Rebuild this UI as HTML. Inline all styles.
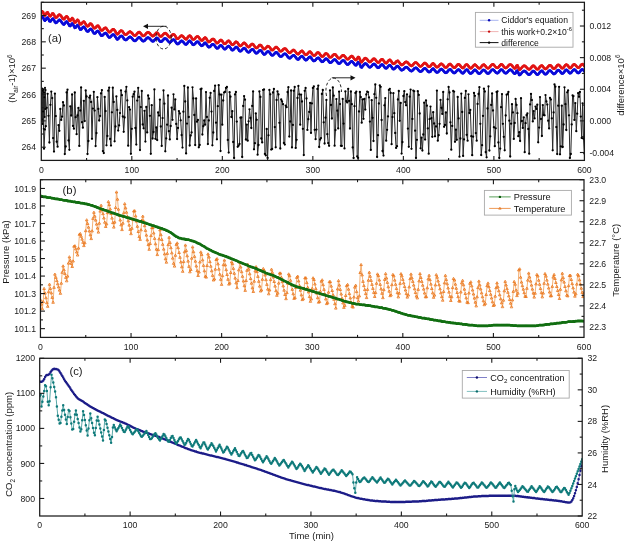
<!DOCTYPE html>
<html><head><meta charset="utf-8"><style>
html,body{margin:0;padding:0;background:#fff;}
svg{display:block;will-change:transform;}
text{font-family:"Liberation Sans", sans-serif;fill:#1a1a1a;}
.tl{font-size:8.7px;}
.at{font-size:9.5px;}
.pl{font-size:11.3px;fill:#222;}
.lg{fill:#111;}
.tk{stroke:#1a1a1a;stroke-width:1.1;}
</style></head><body>
<svg width="625" height="543" viewBox="0 0 625 543">
<rect width="625" height="543" fill="#fff"/>
<g>
<clipPath id="ca"><rect x="41.3" y="2.3" width="543.1" height="158.1"/></clipPath>
<g clip-path="url(#ca)">
<polyline points="41.3,103.9 42.2,102.9 43.1,112.5 44.0,148.7 44.9,129.6 45.8,126.2 46.7,107.8 47.6,93.8 48.5,115.8 49.4,142.5 50.4,104.8 51.3,91.6 52.2,98.1 53.1,138.1 54.0,151.6 54.9,93.6 55.8,116.1 56.7,141.7 57.6,146.7 58.5,125.2 59.4,130.8 60.3,108.9 61.2,119.9 62.1,116.6 63.0,102.2 63.9,105.5 64.8,154.1 65.7,146.5 66.6,92.4 67.5,89.7 68.5,140.4 69.4,149.8 70.3,106.3 71.2,115.5 72.1,94.5 73.0,125.9 73.9,128.7 74.8,92.5 75.7,117.2 76.6,134.2 77.5,115.4 78.4,107.9 79.3,145.9 80.2,110.5 81.1,87.4 82.0,122.2 82.9,127.7 83.8,100.8 84.7,121.1 85.7,90.5 86.6,96.5 87.5,154.0 88.4,141.0 89.3,97.6 90.2,95.6 91.1,102.0 92.0,138.8 92.9,108.6 93.8,91.8 94.7,110.6 95.6,146.1 96.5,133.1 97.4,97.2 98.3,108.9 99.2,120.5 100.1,115.9 101.0,93.4 101.9,90.1 102.9,151.1 103.8,153.1 104.7,96.9 105.6,111.1 106.5,145.3 107.4,135.9 108.3,90.7 109.2,87.6 110.1,138.9 111.0,145.6 111.9,112.3 112.8,87.7 113.7,102.0 114.6,141.3 115.5,126.5 116.4,96.4 117.3,110.0 118.2,130.6 119.1,125.3 120.0,113.1 121.0,90.3 121.9,95.2 122.8,116.5 123.7,131.8 124.6,117.5 125.5,91.6 126.4,86.8 127.3,100.4 128.2,145.7 129.1,107.1 130.0,109.6 130.9,153.8 131.8,128.8 132.7,96.7 133.6,94.2 134.5,91.7 135.4,128.0 136.3,144.6 137.2,100.6 138.2,87.8 139.1,97.0 140.0,150.1 140.9,107.1 141.8,90.9 142.7,124.4 143.6,128.3 144.5,110.8 145.4,141.6 146.3,106.9 147.2,132.4 148.1,95.5 149.0,98.6 149.9,115.8 150.8,153.8 151.7,105.2 152.6,138.5 153.5,132.0 154.4,89.4 155.4,138.8 156.3,127.5 157.2,140.1 158.1,112.5 159.0,115.6 159.9,99.6 160.8,126.5 161.7,145.9 162.6,118.1 163.5,90.5 164.4,103.7 165.3,151.3 166.2,138.4 167.1,124.7 168.0,95.5 168.9,131.2 169.8,139.4 170.7,126.0 171.6,107.7 172.5,119.8 173.5,94.3 174.4,109.4 175.3,99.4 176.2,123.9 177.1,139.1 178.0,128.0 178.9,111.1 179.8,113.4 180.7,120.3 181.6,135.1 182.5,147.6 183.4,111.7 184.3,85.9 185.2,101.5 186.1,153.4 187.0,123.6 187.9,87.5 188.8,117.0 189.7,145.5 190.7,135.5 191.6,132.4 192.5,87.3 193.4,98.4 194.3,115.0 195.2,145.1 196.1,98.4 197.0,121.7 197.9,119.9 198.8,147.3 199.7,145.0 200.6,89.2 201.5,88.7 202.4,134.5 203.3,126.2 204.2,120.5 205.1,124.7 206.0,92.1 206.9,117.0 207.9,144.1 208.8,120.5 209.7,97.8 210.6,92.9 211.5,111.6 212.4,145.3 213.3,132.5 214.2,91.0 215.1,85.6 216.0,122.7 216.9,139.3 217.8,106.2 218.7,85.2 219.6,94.4 220.5,151.0 221.4,94.7 222.3,124.7 223.2,100.5 224.1,92.4 225.0,92.0 226.0,87.9 226.9,87.0 227.8,139.9 228.7,152.6 229.6,92.2 230.5,96.7 231.4,117.0 232.3,111.2 233.2,142.0 234.1,158.0 235.0,94.4 235.9,92.0 236.8,121.6 237.7,146.8 238.6,145.7 239.5,143.9 240.4,117.7 241.3,117.5 242.2,157.0 243.2,106.0 244.1,96.1 245.0,99.7 245.9,139.5 246.8,124.6 247.7,140.7 248.6,121.3 249.5,109.3 250.4,118.0 251.3,128.0 252.2,105.9 253.1,91.4 254.0,149.3 254.9,143.2 255.8,113.4 256.7,119.8 257.6,154.7 258.5,145.0 259.4,91.5 260.4,96.9 261.3,138.5 262.2,142.4 263.1,89.9 264.0,89.5 264.9,153.9 265.8,155.4 266.7,129.0 267.6,158.0 268.5,135.3 269.4,89.9 270.3,94.3 271.2,149.6 272.1,149.0 273.0,92.5 273.9,88.9 274.8,127.1 275.7,147.3 276.6,100.0 277.5,91.4 278.5,94.4 279.4,122.8 280.3,148.5 281.2,99.5 282.1,101.3 283.0,104.2 283.9,143.0 284.8,144.6 285.7,105.6 286.6,107.2 287.5,92.1 288.4,87.2 289.3,136.6 290.2,121.5 291.1,90.5 292.0,147.4 292.9,124.9 293.8,90.8 294.7,86.9 295.7,147.9 296.6,139.8 297.5,98.0 298.4,85.9 299.3,94.3 300.2,124.7 301.1,94.6 302.0,101.5 302.9,128.8 303.8,155.1 304.7,90.8 305.6,88.0 306.5,98.5 307.4,129.9 308.3,119.2 309.2,111.9 310.1,102.9 311.0,132.9 311.9,103.4 312.9,87.9 313.8,86.4 314.7,129.8 315.6,139.2 316.5,129.6 317.4,88.9 318.3,85.6 319.2,147.0 320.1,139.5 321.0,138.1 321.9,94.0 322.8,90.0 323.7,122.3 324.6,143.5 325.5,117.7 326.4,99.9 327.3,134.2 328.2,143.1 329.1,145.8 330.0,90.3 331.0,105.0 331.9,118.5 332.8,87.5 333.7,95.7 334.6,145.7 335.5,130.1 336.4,99.1 337.3,110.7 338.2,128.4 339.1,91.6 340.0,104.1 340.9,145.8 341.8,145.9 342.7,98.9 343.6,123.6 344.5,148.4 345.4,91.4 346.3,101.1 347.2,102.4 348.2,88.8 349.1,100.9 350.0,128.5 350.9,91.5 351.8,104.2 352.7,147.4 353.6,158.0 354.5,106.2 355.4,92.9 356.3,91.6 357.2,156.5 358.1,158.0 359.0,111.5 359.9,92.0 360.8,97.1 361.7,122.7 362.6,99.5 363.5,118.8 364.4,99.0 365.3,109.6 366.3,94.5 367.2,91.6 368.1,92.1 369.0,97.4 369.9,121.6 370.8,149.9 371.7,100.2 372.6,117.8 373.5,141.0 374.4,94.2 375.3,84.5 376.2,97.8 377.1,157.0 378.0,135.2 378.9,103.5 379.8,85.5 380.7,86.8 381.6,120.0 382.5,151.0 383.5,155.6 384.4,105.3 385.3,98.1 386.2,140.7 387.1,129.8 388.0,116.4 388.9,89.9 389.8,88.8 390.7,92.9 391.6,144.2 392.5,117.1 393.4,93.2 394.3,113.2 395.2,133.0 396.1,147.9 397.0,146.2 397.9,99.5 398.8,91.0 399.7,120.8 400.7,102.9 401.6,153.6 402.5,142.1 403.4,96.0 404.3,91.2 405.2,102.1 406.1,105.3 407.0,94.3 407.9,128.6 408.8,146.8 409.7,96.7 410.6,89.6 411.5,148.8 412.4,118.9 413.3,90.6 414.2,91.2 415.1,130.7 416.0,158.0 416.9,139.8 417.8,91.2 418.8,94.9 419.7,113.5 420.6,148.3 421.5,137.7 422.4,150.5 423.3,134.5 424.2,102.7 425.1,139.6 426.0,100.4 426.9,105.7 427.8,128.4 428.7,153.7 429.6,119.2 430.5,106.6 431.4,118.1 432.3,136.8 433.2,112.2 434.1,123.5 435.0,136.3 436.0,126.5 436.9,90.6 437.8,140.7 438.7,135.2 439.6,123.8 440.5,99.9 441.4,107.8 442.3,113.9 443.2,92.0 444.1,126.8 445.0,125.0 445.9,112.5 446.8,133.5 447.7,99.3 448.6,87.0 449.5,92.5 450.4,122.3 451.3,149.7 452.2,125.9 453.2,91.0 454.1,91.6 455.0,141.8 455.9,129.7 456.8,139.8 457.7,97.0 458.6,118.4 459.5,156.7 460.4,138.5 461.3,93.6 462.2,112.0 463.1,155.9 464.0,139.4 464.9,97.9 465.8,90.9 466.7,134.8 467.6,140.7 468.5,94.3 469.4,113.0 470.3,110.0 471.3,136.2 472.2,155.2 473.1,136.7 474.0,93.0 474.9,95.8 475.8,133.1 476.7,140.7 477.6,103.9 478.5,94.0 479.4,87.2 480.3,123.8 481.2,155.1 482.1,145.2 483.0,115.9 483.9,88.7 484.8,91.5 485.7,152.1 486.6,157.3 487.5,108.5 488.5,86.5 489.4,150.5 490.3,136.3 491.2,104.9 492.1,93.4 493.0,110.5 493.9,127.2 494.8,146.2 495.7,128.3 496.6,92.0 497.5,91.3 498.4,142.5 499.3,158.0 500.2,148.6 501.1,107.2 502.0,94.1 502.9,123.8 503.8,136.8 504.7,150.3 505.7,115.5 506.6,94.7 507.5,94.2 508.4,92.0 509.3,120.7 510.2,156.5 511.1,123.7 512.0,104.2 512.9,112.4 513.8,138.9 514.7,123.0 515.6,98.9 516.5,104.9 517.4,113.2 518.3,136.2 519.2,132.2 520.1,141.0 521.0,98.2 521.9,121.0 522.8,127.9 523.8,117.3 524.7,152.2 525.6,123.2 526.5,115.1 527.4,113.5 528.3,129.0 529.2,153.7 530.1,104.4 531.0,93.9 531.9,100.1 532.8,121.4 533.7,111.1 534.6,118.4 535.5,106.6 536.4,108.9 537.3,104.7 538.2,142.3 539.1,127.6 540.0,97.1 541.0,119.0 541.9,136.0 542.8,105.1 543.7,115.0 544.6,115.3 545.5,95.1 546.4,101.4 547.3,104.6 548.2,120.7 549.1,128.4 550.0,98.0 550.9,99.5 551.8,118.3 552.7,150.3 553.6,112.4 554.5,84.5 555.4,86.7 556.3,127.1 557.2,154.1 558.2,105.7 559.1,86.8 560.0,154.3 560.9,146.4 561.8,105.7 562.7,147.0 563.6,124.5 564.5,87.3 565.4,104.2 566.3,130.0 567.2,92.3 568.1,90.4 569.0,115.3 569.9,158.0 570.8,154.0 571.7,124.4 572.6,95.5 573.5,96.1 574.4,119.9 575.3,103.1 576.3,131.2 577.2,113.7 578.1,93.1 579.0,96.8 579.9,91.9 580.8,116.6 581.7,137.9 582.6,103.3 583.5,138.7 584.4,153.5" fill="none" stroke="#2a2a2a" stroke-width="1.0" stroke-linejoin="round"/>
<path d="M41.3 103.9h0M42.2 102.9h0M43.1 112.5h0M44.0 148.7h0M44.9 129.6h0M45.8 126.2h0M46.7 107.8h0M47.6 93.8h0M48.5 115.8h0M49.4 142.5h0M50.4 104.8h0M51.3 91.6h0M52.2 98.1h0M53.1 138.1h0M54.0 151.6h0M54.9 93.6h0M55.8 116.1h0M56.7 141.7h0M57.6 146.7h0M58.5 125.2h0M59.4 130.8h0M60.3 108.9h0M61.2 119.9h0M62.1 116.6h0M63.0 102.2h0M63.9 105.5h0M64.8 154.1h0M65.7 146.5h0M66.6 92.4h0M67.5 89.7h0M68.5 140.4h0M69.4 149.8h0M70.3 106.3h0M71.2 115.5h0M72.1 94.5h0M73.0 125.9h0M73.9 128.7h0M74.8 92.5h0M75.7 117.2h0M76.6 134.2h0M77.5 115.4h0M78.4 107.9h0M79.3 145.9h0M80.2 110.5h0M81.1 87.4h0M82.0 122.2h0M82.9 127.7h0M83.8 100.8h0M84.7 121.1h0M85.7 90.5h0M86.6 96.5h0M87.5 154.0h0M88.4 141.0h0M89.3 97.6h0M90.2 95.6h0M91.1 102.0h0M92.0 138.8h0M92.9 108.6h0M93.8 91.8h0M94.7 110.6h0M95.6 146.1h0M96.5 133.1h0M97.4 97.2h0M98.3 108.9h0M99.2 120.5h0M100.1 115.9h0M101.0 93.4h0M101.9 90.1h0M102.9 151.1h0M103.8 153.1h0M104.7 96.9h0M105.6 111.1h0M106.5 145.3h0M107.4 135.9h0M108.3 90.7h0M109.2 87.6h0M110.1 138.9h0M111.0 145.6h0M111.9 112.3h0M112.8 87.7h0M113.7 102.0h0M114.6 141.3h0M115.5 126.5h0M116.4 96.4h0M117.3 110.0h0M118.2 130.6h0M119.1 125.3h0M120.0 113.1h0M121.0 90.3h0M121.9 95.2h0M122.8 116.5h0M123.7 131.8h0M124.6 117.5h0M125.5 91.6h0M126.4 86.8h0M127.3 100.4h0M128.2 145.7h0M129.1 107.1h0M130.0 109.6h0M130.9 153.8h0M131.8 128.8h0M132.7 96.7h0M133.6 94.2h0M134.5 91.7h0M135.4 128.0h0M136.3 144.6h0M137.2 100.6h0M138.2 87.8h0M139.1 97.0h0M140.0 150.1h0M140.9 107.1h0M141.8 90.9h0M142.7 124.4h0M143.6 128.3h0M144.5 110.8h0M145.4 141.6h0M146.3 106.9h0M147.2 132.4h0M148.1 95.5h0M149.0 98.6h0M149.9 115.8h0M150.8 153.8h0M151.7 105.2h0M152.6 138.5h0M153.5 132.0h0M154.4 89.4h0M155.4 138.8h0M156.3 127.5h0M157.2 140.1h0M158.1 112.5h0M159.0 115.6h0M159.9 99.6h0M160.8 126.5h0M161.7 145.9h0M162.6 118.1h0M163.5 90.5h0M164.4 103.7h0M165.3 151.3h0M166.2 138.4h0M167.1 124.7h0M168.0 95.5h0M168.9 131.2h0M169.8 139.4h0M170.7 126.0h0M171.6 107.7h0M172.5 119.8h0M173.5 94.3h0M174.4 109.4h0M175.3 99.4h0M176.2 123.9h0M177.1 139.1h0M178.0 128.0h0M178.9 111.1h0M179.8 113.4h0M180.7 120.3h0M181.6 135.1h0M182.5 147.6h0M183.4 111.7h0M184.3 85.9h0M185.2 101.5h0M186.1 153.4h0M187.0 123.6h0M187.9 87.5h0M188.8 117.0h0M189.7 145.5h0M190.7 135.5h0M191.6 132.4h0M192.5 87.3h0M193.4 98.4h0M194.3 115.0h0M195.2 145.1h0M196.1 98.4h0M197.0 121.7h0M197.9 119.9h0M198.8 147.3h0M199.7 145.0h0M200.6 89.2h0M201.5 88.7h0M202.4 134.5h0M203.3 126.2h0M204.2 120.5h0M205.1 124.7h0M206.0 92.1h0M206.9 117.0h0M207.9 144.1h0M208.8 120.5h0M209.7 97.8h0M210.6 92.9h0M211.5 111.6h0M212.4 145.3h0M213.3 132.5h0M214.2 91.0h0M215.1 85.6h0M216.0 122.7h0M216.9 139.3h0M217.8 106.2h0M218.7 85.2h0M219.6 94.4h0M220.5 151.0h0M221.4 94.7h0M222.3 124.7h0M223.2 100.5h0M224.1 92.4h0M225.0 92.0h0M226.0 87.9h0M226.9 87.0h0M227.8 139.9h0M228.7 152.6h0M229.6 92.2h0M230.5 96.7h0M231.4 117.0h0M232.3 111.2h0M233.2 142.0h0M234.1 158.0h0M235.0 94.4h0M235.9 92.0h0M236.8 121.6h0M237.7 146.8h0M238.6 145.7h0M239.5 143.9h0M240.4 117.7h0M241.3 117.5h0M242.2 157.0h0M243.2 106.0h0M244.1 96.1h0M245.0 99.7h0M245.9 139.5h0M246.8 124.6h0M247.7 140.7h0M248.6 121.3h0M249.5 109.3h0M250.4 118.0h0M251.3 128.0h0M252.2 105.9h0M253.1 91.4h0M254.0 149.3h0M254.9 143.2h0M255.8 113.4h0M256.7 119.8h0M257.6 154.7h0M258.5 145.0h0M259.4 91.5h0M260.4 96.9h0M261.3 138.5h0M262.2 142.4h0M263.1 89.9h0M264.0 89.5h0M264.9 153.9h0M265.8 155.4h0M266.7 129.0h0M267.6 158.0h0M268.5 135.3h0M269.4 89.9h0M270.3 94.3h0M271.2 149.6h0M272.1 149.0h0M273.0 92.5h0M273.9 88.9h0M274.8 127.1h0M275.7 147.3h0M276.6 100.0h0M277.5 91.4h0M278.5 94.4h0M279.4 122.8h0M280.3 148.5h0M281.2 99.5h0M282.1 101.3h0M283.0 104.2h0M283.9 143.0h0M284.8 144.6h0M285.7 105.6h0M286.6 107.2h0M287.5 92.1h0M288.4 87.2h0M289.3 136.6h0M290.2 121.5h0M291.1 90.5h0M292.0 147.4h0M292.9 124.9h0M293.8 90.8h0M294.7 86.9h0M295.7 147.9h0M296.6 139.8h0M297.5 98.0h0M298.4 85.9h0M299.3 94.3h0M300.2 124.7h0M301.1 94.6h0M302.0 101.5h0M302.9 128.8h0M303.8 155.1h0M304.7 90.8h0M305.6 88.0h0M306.5 98.5h0M307.4 129.9h0M308.3 119.2h0M309.2 111.9h0M310.1 102.9h0M311.0 132.9h0M311.9 103.4h0M312.9 87.9h0M313.8 86.4h0M314.7 129.8h0M315.6 139.2h0M316.5 129.6h0M317.4 88.9h0M318.3 85.6h0M319.2 147.0h0M320.1 139.5h0M321.0 138.1h0M321.9 94.0h0M322.8 90.0h0M323.7 122.3h0M324.6 143.5h0M325.5 117.7h0M326.4 99.9h0M327.3 134.2h0M328.2 143.1h0M329.1 145.8h0M330.0 90.3h0M331.0 105.0h0M331.9 118.5h0M332.8 87.5h0M333.7 95.7h0M334.6 145.7h0M335.5 130.1h0M336.4 99.1h0M337.3 110.7h0M338.2 128.4h0M339.1 91.6h0M340.0 104.1h0M340.9 145.8h0M341.8 145.9h0M342.7 98.9h0M343.6 123.6h0M344.5 148.4h0M345.4 91.4h0M346.3 101.1h0M347.2 102.4h0M348.2 88.8h0M349.1 100.9h0M350.0 128.5h0M350.9 91.5h0M351.8 104.2h0M352.7 147.4h0M353.6 158.0h0M354.5 106.2h0M355.4 92.9h0M356.3 91.6h0M357.2 156.5h0M358.1 158.0h0M359.0 111.5h0M359.9 92.0h0M360.8 97.1h0M361.7 122.7h0M362.6 99.5h0M363.5 118.8h0M364.4 99.0h0M365.3 109.6h0M366.3 94.5h0M367.2 91.6h0M368.1 92.1h0M369.0 97.4h0M369.9 121.6h0M370.8 149.9h0M371.7 100.2h0M372.6 117.8h0M373.5 141.0h0M374.4 94.2h0M375.3 84.5h0M376.2 97.8h0M377.1 157.0h0M378.0 135.2h0M378.9 103.5h0M379.8 85.5h0M380.7 86.8h0M381.6 120.0h0M382.5 151.0h0M383.5 155.6h0M384.4 105.3h0M385.3 98.1h0M386.2 140.7h0M387.1 129.8h0M388.0 116.4h0M388.9 89.9h0M389.8 88.8h0M390.7 92.9h0M391.6 144.2h0M392.5 117.1h0M393.4 93.2h0M394.3 113.2h0M395.2 133.0h0M396.1 147.9h0M397.0 146.2h0M397.9 99.5h0M398.8 91.0h0M399.7 120.8h0M400.7 102.9h0M401.6 153.6h0M402.5 142.1h0M403.4 96.0h0M404.3 91.2h0M405.2 102.1h0M406.1 105.3h0M407.0 94.3h0M407.9 128.6h0M408.8 146.8h0M409.7 96.7h0M410.6 89.6h0M411.5 148.8h0M412.4 118.9h0M413.3 90.6h0M414.2 91.2h0M415.1 130.7h0M416.0 158.0h0M416.9 139.8h0M417.8 91.2h0M418.8 94.9h0M419.7 113.5h0M420.6 148.3h0M421.5 137.7h0M422.4 150.5h0M423.3 134.5h0M424.2 102.7h0M425.1 139.6h0M426.0 100.4h0M426.9 105.7h0M427.8 128.4h0M428.7 153.7h0M429.6 119.2h0M430.5 106.6h0M431.4 118.1h0M432.3 136.8h0M433.2 112.2h0M434.1 123.5h0M435.0 136.3h0M436.0 126.5h0M436.9 90.6h0M437.8 140.7h0M438.7 135.2h0M439.6 123.8h0M440.5 99.9h0M441.4 107.8h0M442.3 113.9h0M443.2 92.0h0M444.1 126.8h0M445.0 125.0h0M445.9 112.5h0M446.8 133.5h0M447.7 99.3h0M448.6 87.0h0M449.5 92.5h0M450.4 122.3h0M451.3 149.7h0M452.2 125.9h0M453.2 91.0h0M454.1 91.6h0M455.0 141.8h0M455.9 129.7h0M456.8 139.8h0M457.7 97.0h0M458.6 118.4h0M459.5 156.7h0M460.4 138.5h0M461.3 93.6h0M462.2 112.0h0M463.1 155.9h0M464.0 139.4h0M464.9 97.9h0M465.8 90.9h0M466.7 134.8h0M467.6 140.7h0M468.5 94.3h0M469.4 113.0h0M470.3 110.0h0M471.3 136.2h0M472.2 155.2h0M473.1 136.7h0M474.0 93.0h0M474.9 95.8h0M475.8 133.1h0M476.7 140.7h0M477.6 103.9h0M478.5 94.0h0M479.4 87.2h0M480.3 123.8h0M481.2 155.1h0M482.1 145.2h0M483.0 115.9h0M483.9 88.7h0M484.8 91.5h0M485.7 152.1h0M486.6 157.3h0M487.5 108.5h0M488.5 86.5h0M489.4 150.5h0M490.3 136.3h0M491.2 104.9h0M492.1 93.4h0M493.0 110.5h0M493.9 127.2h0M494.8 146.2h0M495.7 128.3h0M496.6 92.0h0M497.5 91.3h0M498.4 142.5h0M499.3 158.0h0M500.2 148.6h0M501.1 107.2h0M502.0 94.1h0M502.9 123.8h0M503.8 136.8h0M504.7 150.3h0M505.7 115.5h0M506.6 94.7h0M507.5 94.2h0M508.4 92.0h0M509.3 120.7h0M510.2 156.5h0M511.1 123.7h0M512.0 104.2h0M512.9 112.4h0M513.8 138.9h0M514.7 123.0h0M515.6 98.9h0M516.5 104.9h0M517.4 113.2h0M518.3 136.2h0M519.2 132.2h0M520.1 141.0h0M521.0 98.2h0M521.9 121.0h0M522.8 127.9h0M523.8 117.3h0M524.7 152.2h0M525.6 123.2h0M526.5 115.1h0M527.4 113.5h0M528.3 129.0h0M529.2 153.7h0M530.1 104.4h0M531.0 93.9h0M531.9 100.1h0M532.8 121.4h0M533.7 111.1h0M534.6 118.4h0M535.5 106.6h0M536.4 108.9h0M537.3 104.7h0M538.2 142.3h0M539.1 127.6h0M540.0 97.1h0M541.0 119.0h0M541.9 136.0h0M542.8 105.1h0M543.7 115.0h0M544.6 115.3h0M545.5 95.1h0M546.4 101.4h0M547.3 104.6h0M548.2 120.7h0M549.1 128.4h0M550.0 98.0h0M550.9 99.5h0M551.8 118.3h0M552.7 150.3h0M553.6 112.4h0M554.5 84.5h0M555.4 86.7h0M556.3 127.1h0M557.2 154.1h0M558.2 105.7h0M559.1 86.8h0M560.0 154.3h0M560.9 146.4h0M561.8 105.7h0M562.7 147.0h0M563.6 124.5h0M564.5 87.3h0M565.4 104.2h0M566.3 130.0h0M567.2 92.3h0M568.1 90.4h0M569.0 115.3h0M569.9 158.0h0M570.8 154.0h0M571.7 124.4h0M572.6 95.5h0M573.5 96.1h0M574.4 119.9h0M575.3 103.1h0M576.3 131.2h0M577.2 113.7h0M578.1 93.1h0M579.0 96.8h0M579.9 91.9h0M580.8 116.6h0M581.7 137.9h0M582.6 103.3h0M583.5 138.7h0M584.4 153.5h0" stroke="#000" stroke-width="2.30" stroke-linecap="round" fill="none"/>
<polyline points="41.5,93.2 41.8,119.3 42.1,88.5 42.4,124.0 42.8,90.8 43.1,111.4 43.4,89.3 43.7,128.8 44.0,92.4 44.4,97.2 44.7,116.9 45.0,87.7 45.3,109.0 45.6,90.0" fill="none" stroke="#2a2a2a" stroke-width="1.0"/>
<path d="M41.5 93.2h0M41.8 119.3h0M42.1 88.5h0M42.4 124.0h0M42.8 90.8h0M43.1 111.4h0M43.4 89.3h0M43.7 128.8h0M44.0 92.4h0M44.4 97.2h0M44.7 116.9h0M45.0 87.7h0M45.3 109.0h0M45.6 90.0h0" stroke="#000" stroke-width="2.00" stroke-linecap="round" fill="none"/>
<polyline points="41.3,18.0 42.2,16.7 43.1,17.5 44.0,19.6 44.9,20.7 45.8,19.8 46.7,18.0 47.6,17.7 48.5,19.1 49.4,21.1 50.4,21.4 51.3,20.3 52.2,19.0 53.1,18.7 54.0,20.0 54.9,21.9 55.8,22.9 56.7,22.5 57.6,21.5 58.5,20.5 59.4,19.9 60.3,20.4 61.2,21.5 62.1,22.9 63.0,24.0 63.9,24.5 64.8,23.6 65.7,22.3 66.6,21.6 67.5,22.3 68.5,24.1 69.4,25.7 70.3,26.0 71.2,24.7 72.1,23.5 73.0,24.0 73.9,26.1 74.8,27.8 75.7,27.5 76.6,26.1 77.5,25.1 78.4,26.0 79.3,28.0 80.2,29.5 81.1,29.5 82.0,28.5 82.9,27.3 83.8,26.9 84.7,27.7 85.7,29.3 86.6,30.8 87.5,31.5 88.4,31.2 89.3,30.0 90.2,29.0 91.1,29.0 92.0,30.1 92.9,31.7 93.8,33.2 94.7,33.5 95.6,33.0 96.5,31.8 97.4,31.1 98.3,31.2 99.2,32.4 100.1,34.0 101.0,35.4 101.9,35.7 102.9,35.2 103.8,34.1 104.7,33.3 105.6,33.1 106.5,33.8 107.4,35.3 108.3,36.6 109.2,37.5 110.1,37.2 111.0,36.4 111.9,35.3 112.8,34.7 113.7,34.7 114.6,35.5 115.5,37.0 116.4,38.4 117.3,39.4 118.2,38.9 119.1,37.8 120.0,36.6 121.0,36.0 121.9,36.0 122.8,36.9 123.7,38.4 124.6,39.5 125.5,39.9 126.4,39.8 127.3,38.9 128.2,38.1 129.1,37.2 130.0,36.9 130.9,37.3 131.8,38.1 132.7,39.2 133.6,40.3 134.5,40.8 135.4,40.8 136.3,40.0 137.2,38.8 138.2,37.8 139.1,37.4 140.0,37.9 140.9,38.9 141.8,40.1 142.7,41.0 143.6,41.1 144.5,40.7 145.4,39.7 146.3,38.6 147.2,37.9 148.1,37.6 149.0,38.0 149.9,38.7 150.8,39.8 151.7,40.7 152.6,41.3 153.5,41.2 154.4,40.2 155.4,39.1 156.3,38.1 157.2,38.1 158.1,38.8 159.0,40.2 159.9,41.3 160.8,41.7 161.7,41.4 162.6,40.5 163.5,39.5 164.4,38.6 165.3,38.5 166.2,38.9 167.1,39.9 168.0,41.0 168.9,42.0 169.8,42.4 170.7,41.9 171.6,41.0 172.5,40.0 173.5,39.6 174.4,40.1 175.3,41.4 176.2,42.9 177.1,43.9 178.0,43.9 178.9,43.3 179.8,42.3 180.7,41.3 181.6,40.8 182.5,41.3 183.4,42.2 184.3,43.3 185.2,44.2 186.1,44.5 187.0,43.8 187.9,42.5 188.8,41.3 189.7,40.9 190.7,41.7 191.6,42.9 192.5,44.3 193.4,44.8 194.3,44.4 195.2,43.6 196.1,42.4 197.0,41.8 197.9,41.8 198.8,42.6 199.7,43.9 200.6,45.0 201.5,45.8 202.4,45.6 203.3,44.7 204.2,43.4 205.1,42.9 206.0,43.5 206.9,44.9 207.9,46.4 208.8,47.1 209.7,47.0 210.6,46.2 211.5,45.1 212.4,44.4 213.3,44.4 214.2,45.0 215.1,46.3 216.0,47.5 216.9,48.3 217.8,48.2 218.7,47.4 219.6,46.2 220.5,45.3 221.4,45.5 222.3,46.5 223.2,47.8 224.1,49.0 225.0,49.1 226.0,48.5 226.9,47.3 227.8,46.4 228.7,46.1 229.6,46.8 230.5,48.0 231.4,49.4 232.3,50.1 233.2,50.0 234.1,49.0 235.0,47.9 235.9,47.1 236.8,47.3 237.7,48.2 238.6,49.6 239.5,50.9 240.4,51.2 241.3,50.8 242.2,49.7 243.2,48.7 244.1,48.2 245.0,48.6 245.9,49.6 246.8,51.0 247.7,52.0 248.6,52.3 249.5,51.9 250.4,50.7 251.3,49.8 252.2,49.3 253.1,49.6 254.0,50.8 254.9,52.1 255.8,53.1 256.7,53.2 257.6,52.6 258.5,51.6 259.4,50.5 260.4,50.3 261.3,50.9 262.2,52.3 263.1,53.6 264.0,54.4 264.9,54.2 265.8,53.4 266.7,52.3 267.6,51.5 268.5,51.5 269.4,52.3 270.3,53.5 271.2,54.8 272.1,55.3 273.0,55.2 273.9,54.3 274.8,53.3 275.7,52.4 276.6,52.4 277.5,53.3 278.5,54.4 279.4,55.8 280.3,56.5 281.2,56.5 282.1,56.0 283.0,54.9 283.9,54.1 284.8,53.8 285.7,54.1 286.6,55.1 287.5,56.4 288.4,57.4 289.3,58.1 290.2,58.1 291.1,57.2 292.0,56.2 292.9,55.5 293.8,55.3 294.7,56.1 295.7,57.2 296.6,58.5 297.5,59.3 298.4,59.4 299.3,58.5 300.2,57.3 301.1,56.5 302.0,56.2 302.9,56.8 303.8,58.1 304.7,59.3 305.6,60.1 306.5,60.0 307.4,59.1 308.3,58.0 309.2,57.1 310.1,56.9 311.0,57.7 311.9,58.9 312.9,60.3 313.8,60.9 314.7,60.7 315.6,60.0 316.5,58.8 317.4,58.1 318.3,57.9 319.2,58.4 320.1,59.7 321.0,60.9 321.9,61.8 322.8,61.7 323.7,60.9 324.6,59.9 325.5,58.9 326.4,58.8 327.3,59.4 328.2,60.5 329.1,61.9 330.0,62.6 331.0,62.5 331.9,61.9 332.8,60.8 333.7,59.9 334.6,59.5 335.5,59.9 336.4,61.0 337.3,62.2 338.2,63.2 339.1,63.6 340.0,63.2 340.9,62.3 341.8,61.2 342.7,60.6 343.6,60.5 344.5,61.3 345.4,62.5 346.3,63.6 347.2,64.5 348.2,64.4 349.1,63.6 350.0,62.6 350.9,61.7 351.8,61.3 352.7,62.0 353.6,63.1 354.5,64.3 355.4,65.2 356.3,65.2 357.2,63.7 358.1,62.2 359.0,62.5 359.9,64.6 360.8,66.9 361.7,67.4 362.6,66.3 363.5,65.1 364.4,64.0 365.3,63.5 366.3,63.9 367.2,64.8 368.1,66.0 369.0,67.0 369.9,67.3 370.8,66.8 371.7,66.0 372.6,64.8 373.5,64.1 374.4,64.1 375.3,64.9 376.2,66.1 377.1,67.2 378.0,67.8 378.9,67.5 379.8,66.6 380.7,65.4 381.6,64.6 382.5,64.7 383.5,65.7 384.4,67.1 385.3,68.1 386.2,68.3 387.1,67.8 388.0,66.6 388.9,65.5 389.8,65.2 390.7,65.8 391.6,67.0 392.5,68.4 393.4,69.1 394.3,68.9 395.2,68.1 396.1,66.9 397.0,66.2 397.9,66.2 398.8,67.1 399.7,68.3 400.7,69.5 401.6,70.2 402.5,70.0 403.4,69.4 404.3,68.4 405.2,67.5 406.1,67.2 407.0,67.3 407.9,68.1 408.8,69.1 409.7,70.1 410.6,70.8 411.5,71.1 412.4,70.6 413.3,69.7 414.2,68.6 415.1,68.0 416.0,67.8 416.9,68.3 417.8,69.3 418.8,70.5 419.7,71.3 420.6,71.6 421.5,71.2 422.4,70.4 423.3,69.3 424.2,68.5 425.1,68.3 426.0,69.0 426.9,70.0 427.8,71.2 428.7,71.9 429.6,72.0 430.5,71.4 431.4,70.1 432.3,69.0 433.2,68.7 434.1,69.5 435.0,70.7 436.0,71.9 436.9,72.5 437.8,72.2 438.7,71.5 439.6,70.4 440.5,69.4 441.4,69.1 442.3,69.6 443.2,70.5 444.1,71.6 445.0,72.5 445.9,72.8 446.8,72.4 447.7,71.4 448.6,70.2 449.5,69.5 450.4,69.4 451.3,70.3 452.2,71.4 453.2,72.5 454.1,73.0 455.0,72.8 455.9,71.9 456.8,70.8 457.7,69.9 458.6,69.6 459.5,70.1 460.4,71.2 461.3,72.3 462.2,73.1 463.1,73.2 464.0,72.4 464.9,71.2 465.8,70.1 466.7,69.7 467.6,70.2 468.5,71.5 469.4,72.7 470.3,73.4 471.3,73.3 472.2,72.6 473.1,71.4 474.0,70.4 474.9,69.9 475.8,70.4 476.7,71.3 477.6,72.5 478.5,73.4 479.4,73.6 480.3,73.1 481.2,72.1 482.1,70.9 483.0,70.1 483.9,70.0 484.8,70.6 485.7,71.6 486.6,72.7 487.5,73.4 488.5,73.4 489.4,72.7 490.3,71.7 491.2,70.6 492.1,69.8 493.0,69.7 493.9,70.2 494.8,71.2 495.7,72.3 496.6,73.0 497.5,73.1 498.4,72.5 499.3,71.4 500.2,70.3 501.1,69.7 502.0,69.8 502.9,70.6 503.8,71.8 504.7,72.8 505.7,73.2 506.6,72.9 507.5,72.1 508.4,71.0 509.3,70.1 510.2,69.7 511.1,70.0 512.0,70.9 512.9,72.0 513.8,73.1 514.7,73.7 515.6,73.1 516.5,71.2 517.4,70.7 518.3,72.7 519.2,74.9 520.1,74.8 521.0,73.8 521.9,72.7 522.8,71.8 523.8,71.1 524.7,71.1 525.6,71.6 526.5,72.6 527.4,73.6 528.3,74.4 529.2,74.7 530.1,74.2 531.0,73.2 531.9,72.0 532.8,71.2 533.7,71.2 534.6,71.9 535.5,73.0 536.4,74.1 537.3,74.6 538.2,74.3 539.1,73.2 540.0,72.0 541.0,71.0 541.9,70.9 542.8,71.6 543.7,72.8 544.6,73.9 545.5,74.2 546.4,73.9 547.3,72.9 548.2,71.7 549.1,70.8 550.0,70.6 550.9,71.0 551.8,72.0 552.7,73.1 553.6,73.9 554.5,73.8 555.4,73.1 556.3,71.9 557.2,70.7 558.2,70.2 559.1,70.4 560.0,71.3 560.9,72.5 561.8,73.4 562.7,73.5 563.6,72.8 564.5,71.6 565.4,70.4 566.3,69.9 567.2,70.3 568.1,71.2 569.0,72.5 569.9,73.2 570.8,73.0 571.7,72.1 572.6,70.8 573.5,69.9 574.4,69.6 575.3,70.2 576.3,71.3 577.2,72.4 578.1,73.0 579.0,72.8 579.9,71.8 580.8,70.5 581.7,69.6 582.6,69.5 583.5,70.2 584.4,71.5" fill="none" stroke="#1010e6" stroke-width="2.6" stroke-linejoin="round"/>
<path d="M41.3 18.0h0M42.2 16.7h0M43.1 17.5h0M44.0 19.6h0M44.9 20.7h0M45.8 19.8h0M46.7 18.0h0M47.6 17.7h0M48.5 19.1h0M49.4 21.1h0M50.4 21.4h0M51.3 20.3h0M52.2 19.0h0M53.1 18.7h0M54.0 20.0h0M54.9 21.9h0M55.8 22.9h0M56.7 22.5h0M57.6 21.5h0M58.5 20.5h0M59.4 19.9h0M60.3 20.4h0M61.2 21.5h0M62.1 22.9h0M63.0 24.0h0M63.9 24.5h0M64.8 23.6h0M65.7 22.3h0M66.6 21.6h0M67.5 22.3h0M68.5 24.1h0M69.4 25.7h0M70.3 26.0h0M71.2 24.7h0M72.1 23.5h0M73.0 24.0h0M73.9 26.1h0M74.8 27.8h0M75.7 27.5h0M76.6 26.1h0M77.5 25.1h0M78.4 26.0h0M79.3 28.0h0M80.2 29.5h0M81.1 29.5h0M82.0 28.5h0M82.9 27.3h0M83.8 26.9h0M84.7 27.7h0M85.7 29.3h0M86.6 30.8h0M87.5 31.5h0M88.4 31.2h0M89.3 30.0h0M90.2 29.0h0M91.1 29.0h0M92.0 30.1h0M92.9 31.7h0M93.8 33.2h0M94.7 33.5h0M95.6 33.0h0M96.5 31.8h0M97.4 31.1h0M98.3 31.2h0M99.2 32.4h0M100.1 34.0h0M101.0 35.4h0M101.9 35.7h0M102.9 35.2h0M103.8 34.1h0M104.7 33.3h0M105.6 33.1h0M106.5 33.8h0M107.4 35.3h0M108.3 36.6h0M109.2 37.5h0M110.1 37.2h0M111.0 36.4h0M111.9 35.3h0M112.8 34.7h0M113.7 34.7h0M114.6 35.5h0M115.5 37.0h0M116.4 38.4h0M117.3 39.4h0M118.2 38.9h0M119.1 37.8h0M120.0 36.6h0M121.0 36.0h0M121.9 36.0h0M122.8 36.9h0M123.7 38.4h0M124.6 39.5h0M125.5 39.9h0M126.4 39.8h0M127.3 38.9h0M128.2 38.1h0M129.1 37.2h0M130.0 36.9h0M130.9 37.3h0M131.8 38.1h0M132.7 39.2h0M133.6 40.3h0M134.5 40.8h0M135.4 40.8h0M136.3 40.0h0M137.2 38.8h0M138.2 37.8h0M139.1 37.4h0M140.0 37.9h0M140.9 38.9h0M141.8 40.1h0M142.7 41.0h0M143.6 41.1h0M144.5 40.7h0M145.4 39.7h0M146.3 38.6h0M147.2 37.9h0M148.1 37.6h0M149.0 38.0h0M149.9 38.7h0M150.8 39.8h0M151.7 40.7h0M152.6 41.3h0M153.5 41.2h0M154.4 40.2h0M155.4 39.1h0M156.3 38.1h0M157.2 38.1h0M158.1 38.8h0M159.0 40.2h0M159.9 41.3h0M160.8 41.7h0M161.7 41.4h0M162.6 40.5h0M163.5 39.5h0M164.4 38.6h0M165.3 38.5h0M166.2 38.9h0M167.1 39.9h0M168.0 41.0h0M168.9 42.0h0M169.8 42.4h0M170.7 41.9h0M171.6 41.0h0M172.5 40.0h0M173.5 39.6h0M174.4 40.1h0M175.3 41.4h0M176.2 42.9h0M177.1 43.9h0M178.0 43.9h0M178.9 43.3h0M179.8 42.3h0M180.7 41.3h0M181.6 40.8h0M182.5 41.3h0M183.4 42.2h0M184.3 43.3h0M185.2 44.2h0M186.1 44.5h0M187.0 43.8h0M187.9 42.5h0M188.8 41.3h0M189.7 40.9h0M190.7 41.7h0M191.6 42.9h0M192.5 44.3h0M193.4 44.8h0M194.3 44.4h0M195.2 43.6h0M196.1 42.4h0M197.0 41.8h0M197.9 41.8h0M198.8 42.6h0M199.7 43.9h0M200.6 45.0h0M201.5 45.8h0M202.4 45.6h0M203.3 44.7h0M204.2 43.4h0M205.1 42.9h0M206.0 43.5h0M206.9 44.9h0M207.9 46.4h0M208.8 47.1h0M209.7 47.0h0M210.6 46.2h0M211.5 45.1h0M212.4 44.4h0M213.3 44.4h0M214.2 45.0h0M215.1 46.3h0M216.0 47.5h0M216.9 48.3h0M217.8 48.2h0M218.7 47.4h0M219.6 46.2h0M220.5 45.3h0M221.4 45.5h0M222.3 46.5h0M223.2 47.8h0M224.1 49.0h0M225.0 49.1h0M226.0 48.5h0M226.9 47.3h0M227.8 46.4h0M228.7 46.1h0M229.6 46.8h0M230.5 48.0h0M231.4 49.4h0M232.3 50.1h0M233.2 50.0h0M234.1 49.0h0M235.0 47.9h0M235.9 47.1h0M236.8 47.3h0M237.7 48.2h0M238.6 49.6h0M239.5 50.9h0M240.4 51.2h0M241.3 50.8h0M242.2 49.7h0M243.2 48.7h0M244.1 48.2h0M245.0 48.6h0M245.9 49.6h0M246.8 51.0h0M247.7 52.0h0M248.6 52.3h0M249.5 51.9h0M250.4 50.7h0M251.3 49.8h0M252.2 49.3h0M253.1 49.6h0M254.0 50.8h0M254.9 52.1h0M255.8 53.1h0M256.7 53.2h0M257.6 52.6h0M258.5 51.6h0M259.4 50.5h0M260.4 50.3h0M261.3 50.9h0M262.2 52.3h0M263.1 53.6h0M264.0 54.4h0M264.9 54.2h0M265.8 53.4h0M266.7 52.3h0M267.6 51.5h0M268.5 51.5h0M269.4 52.3h0M270.3 53.5h0M271.2 54.8h0M272.1 55.3h0M273.0 55.2h0M273.9 54.3h0M274.8 53.3h0M275.7 52.4h0M276.6 52.4h0M277.5 53.3h0M278.5 54.4h0M279.4 55.8h0M280.3 56.5h0M281.2 56.5h0M282.1 56.0h0M283.0 54.9h0M283.9 54.1h0M284.8 53.8h0M285.7 54.1h0M286.6 55.1h0M287.5 56.4h0M288.4 57.4h0M289.3 58.1h0M290.2 58.1h0M291.1 57.2h0M292.0 56.2h0M292.9 55.5h0M293.8 55.3h0M294.7 56.1h0M295.7 57.2h0M296.6 58.5h0M297.5 59.3h0M298.4 59.4h0M299.3 58.5h0M300.2 57.3h0M301.1 56.5h0M302.0 56.2h0M302.9 56.8h0M303.8 58.1h0M304.7 59.3h0M305.6 60.1h0M306.5 60.0h0M307.4 59.1h0M308.3 58.0h0M309.2 57.1h0M310.1 56.9h0M311.0 57.7h0M311.9 58.9h0M312.9 60.3h0M313.8 60.9h0M314.7 60.7h0M315.6 60.0h0M316.5 58.8h0M317.4 58.1h0M318.3 57.9h0M319.2 58.4h0M320.1 59.7h0M321.0 60.9h0M321.9 61.8h0M322.8 61.7h0M323.7 60.9h0M324.6 59.9h0M325.5 58.9h0M326.4 58.8h0M327.3 59.4h0M328.2 60.5h0M329.1 61.9h0M330.0 62.6h0M331.0 62.5h0M331.9 61.9h0M332.8 60.8h0M333.7 59.9h0M334.6 59.5h0M335.5 59.9h0M336.4 61.0h0M337.3 62.2h0M338.2 63.2h0M339.1 63.6h0M340.0 63.2h0M340.9 62.3h0M341.8 61.2h0M342.7 60.6h0M343.6 60.5h0M344.5 61.3h0M345.4 62.5h0M346.3 63.6h0M347.2 64.5h0M348.2 64.4h0M349.1 63.6h0M350.0 62.6h0M350.9 61.7h0M351.8 61.3h0M352.7 62.0h0M353.6 63.1h0M354.5 64.3h0M355.4 65.2h0M356.3 65.2h0M357.2 63.7h0M358.1 62.2h0M359.0 62.5h0M359.9 64.6h0M360.8 66.9h0M361.7 67.4h0M362.6 66.3h0M363.5 65.1h0M364.4 64.0h0M365.3 63.5h0M366.3 63.9h0M367.2 64.8h0M368.1 66.0h0M369.0 67.0h0M369.9 67.3h0M370.8 66.8h0M371.7 66.0h0M372.6 64.8h0M373.5 64.1h0M374.4 64.1h0M375.3 64.9h0M376.2 66.1h0M377.1 67.2h0M378.0 67.8h0M378.9 67.5h0M379.8 66.6h0M380.7 65.4h0M381.6 64.6h0M382.5 64.7h0M383.5 65.7h0M384.4 67.1h0M385.3 68.1h0M386.2 68.3h0M387.1 67.8h0M388.0 66.6h0M388.9 65.5h0M389.8 65.2h0M390.7 65.8h0M391.6 67.0h0M392.5 68.4h0M393.4 69.1h0M394.3 68.9h0M395.2 68.1h0M396.1 66.9h0M397.0 66.2h0M397.9 66.2h0M398.8 67.1h0M399.7 68.3h0M400.7 69.5h0M401.6 70.2h0M402.5 70.0h0M403.4 69.4h0M404.3 68.4h0M405.2 67.5h0M406.1 67.2h0M407.0 67.3h0M407.9 68.1h0M408.8 69.1h0M409.7 70.1h0M410.6 70.8h0M411.5 71.1h0M412.4 70.6h0M413.3 69.7h0M414.2 68.6h0M415.1 68.0h0M416.0 67.8h0M416.9 68.3h0M417.8 69.3h0M418.8 70.5h0M419.7 71.3h0M420.6 71.6h0M421.5 71.2h0M422.4 70.4h0M423.3 69.3h0M424.2 68.5h0M425.1 68.3h0M426.0 69.0h0M426.9 70.0h0M427.8 71.2h0M428.7 71.9h0M429.6 72.0h0M430.5 71.4h0M431.4 70.1h0M432.3 69.0h0M433.2 68.7h0M434.1 69.5h0M435.0 70.7h0M436.0 71.9h0M436.9 72.5h0M437.8 72.2h0M438.7 71.5h0M439.6 70.4h0M440.5 69.4h0M441.4 69.1h0M442.3 69.6h0M443.2 70.5h0M444.1 71.6h0M445.0 72.5h0M445.9 72.8h0M446.8 72.4h0M447.7 71.4h0M448.6 70.2h0M449.5 69.5h0M450.4 69.4h0M451.3 70.3h0M452.2 71.4h0M453.2 72.5h0M454.1 73.0h0M455.0 72.8h0M455.9 71.9h0M456.8 70.8h0M457.7 69.9h0M458.6 69.6h0M459.5 70.1h0M460.4 71.2h0M461.3 72.3h0M462.2 73.1h0M463.1 73.2h0M464.0 72.4h0M464.9 71.2h0M465.8 70.1h0M466.7 69.7h0M467.6 70.2h0M468.5 71.5h0M469.4 72.7h0M470.3 73.4h0M471.3 73.3h0M472.2 72.6h0M473.1 71.4h0M474.0 70.4h0M474.9 69.9h0M475.8 70.4h0M476.7 71.3h0M477.6 72.5h0M478.5 73.4h0M479.4 73.6h0M480.3 73.1h0M481.2 72.1h0M482.1 70.9h0M483.0 70.1h0M483.9 70.0h0M484.8 70.6h0M485.7 71.6h0M486.6 72.7h0M487.5 73.4h0M488.5 73.4h0M489.4 72.7h0M490.3 71.7h0M491.2 70.6h0M492.1 69.8h0M493.0 69.7h0M493.9 70.2h0M494.8 71.2h0M495.7 72.3h0M496.6 73.0h0M497.5 73.1h0M498.4 72.5h0M499.3 71.4h0M500.2 70.3h0M501.1 69.7h0M502.0 69.8h0M502.9 70.6h0M503.8 71.8h0M504.7 72.8h0M505.7 73.2h0M506.6 72.9h0M507.5 72.1h0M508.4 71.0h0M509.3 70.1h0M510.2 69.7h0M511.1 70.0h0M512.0 70.9h0M512.9 72.0h0M513.8 73.1h0M514.7 73.7h0M515.6 73.1h0M516.5 71.2h0M517.4 70.7h0M518.3 72.7h0M519.2 74.9h0M520.1 74.8h0M521.0 73.8h0M521.9 72.7h0M522.8 71.8h0M523.8 71.1h0M524.7 71.1h0M525.6 71.6h0M526.5 72.6h0M527.4 73.6h0M528.3 74.4h0M529.2 74.7h0M530.1 74.2h0M531.0 73.2h0M531.9 72.0h0M532.8 71.2h0M533.7 71.2h0M534.6 71.9h0M535.5 73.0h0M536.4 74.1h0M537.3 74.6h0M538.2 74.3h0M539.1 73.2h0M540.0 72.0h0M541.0 71.0h0M541.9 70.9h0M542.8 71.6h0M543.7 72.8h0M544.6 73.9h0M545.5 74.2h0M546.4 73.9h0M547.3 72.9h0M548.2 71.7h0M549.1 70.8h0M550.0 70.6h0M550.9 71.0h0M551.8 72.0h0M552.7 73.1h0M553.6 73.9h0M554.5 73.8h0M555.4 73.1h0M556.3 71.9h0M557.2 70.7h0M558.2 70.2h0M559.1 70.4h0M560.0 71.3h0M560.9 72.5h0M561.8 73.4h0M562.7 73.5h0M563.6 72.8h0M564.5 71.6h0M565.4 70.4h0M566.3 69.9h0M567.2 70.3h0M568.1 71.2h0M569.0 72.5h0M569.9 73.2h0M570.8 73.0h0M571.7 72.1h0M572.6 70.8h0M573.5 69.9h0M574.4 69.6h0M575.3 70.2h0M576.3 71.3h0M577.2 72.4h0M578.1 73.0h0M579.0 72.8h0M579.9 71.8h0M580.8 70.5h0M581.7 69.6h0M582.6 69.5h0M583.5 70.2h0M584.4 71.5h0" stroke="#0a0ad8" stroke-width="2.70" stroke-linecap="round" fill="none"/>
<polyline points="41.3,12.7 42.2,11.4 43.1,12.2 44.0,14.4 44.9,15.5 45.8,14.5 46.7,12.8 47.6,12.4 48.5,13.9 49.4,15.8 50.4,16.2 51.3,15.0 52.2,13.7 53.1,13.5 54.0,14.8 54.9,16.6 55.8,17.6 56.7,17.3 57.6,16.3 58.5,15.2 59.4,14.7 60.3,15.1 61.2,16.2 62.1,17.6 63.0,18.7 63.9,19.2 64.8,18.4 65.7,17.0 66.6,16.3 67.5,17.0 68.5,18.9 69.4,20.4 70.3,20.8 71.2,19.4 72.1,18.2 73.0,18.8 73.9,20.9 74.8,22.5 75.7,22.2 76.6,20.8 77.5,19.9 78.4,20.7 79.3,22.8 80.2,24.2 81.1,24.2 82.0,23.2 82.9,22.1 83.8,21.6 84.7,22.4 85.7,24.0 86.6,25.5 87.5,26.3 88.4,25.9 89.3,24.7 90.2,23.7 91.1,23.8 92.0,24.8 92.9,26.4 93.8,27.9 94.7,28.2 95.6,27.7 96.5,26.5 97.4,25.8 98.3,25.9 99.2,27.2 100.1,28.7 101.0,30.1 101.9,30.4 102.9,30.0 103.8,28.8 104.7,28.0 105.6,27.8 106.5,28.6 107.4,30.0 108.3,31.3 109.2,32.2 110.1,32.0 111.0,31.2 111.9,30.0 112.8,29.4 113.7,29.4 114.6,30.3 115.5,31.7 116.4,33.1 117.3,34.2 118.2,33.7 119.1,32.5 120.0,31.3 121.0,30.7 121.9,30.8 122.8,31.7 123.7,33.1 124.6,34.2 125.5,34.6 126.4,34.5 127.3,33.7 128.2,32.8 129.1,32.0 130.0,31.6 130.9,32.1 131.8,32.9 132.7,33.9 133.6,35.0 134.5,35.5 135.4,35.6 136.3,34.7 137.2,33.5 138.2,32.5 139.1,32.1 140.0,32.7 140.9,33.6 141.8,34.8 142.7,35.8 143.6,35.8 144.5,35.4 145.4,34.5 146.3,33.3 147.2,32.7 148.1,32.3 149.0,32.7 149.9,33.4 150.8,34.6 151.7,35.4 152.6,36.1 153.5,35.9 154.4,34.9 155.4,33.8 156.3,32.8 157.2,32.8 158.1,33.6 159.0,35.0 159.9,36.0 160.8,36.5 161.7,36.2 162.6,35.2 163.5,34.2 164.4,33.3 165.3,33.2 166.2,33.6 167.1,34.7 168.0,35.7 168.9,36.8 169.8,37.2 170.7,36.7 171.6,35.7 172.5,34.7 173.5,34.3 174.4,34.8 175.3,36.1 176.2,37.7 177.1,38.7 178.0,38.7 178.9,38.0 179.8,37.0 180.7,36.0 181.6,35.6 182.5,36.0 183.4,36.9 184.3,38.0 185.2,38.9 186.1,39.3 187.0,38.6 187.9,37.2 188.8,36.1 189.7,35.7 190.7,36.4 191.6,37.7 192.5,39.0 193.4,39.5 194.3,39.2 195.2,38.3 196.1,37.1 197.0,36.5 197.9,36.6 198.8,37.3 199.7,38.7 200.6,39.7 201.5,40.5 202.4,40.4 203.3,39.4 204.2,38.1 205.1,37.6 206.0,38.2 206.9,39.6 207.9,41.2 208.8,41.9 209.7,41.7 210.6,40.9 211.5,39.8 212.4,39.2 213.3,39.1 214.2,39.7 215.1,41.0 216.0,42.2 216.9,43.1 217.8,42.9 218.7,42.1 219.6,40.9 220.5,40.1 221.4,40.2 222.3,41.2 223.2,42.5 224.1,43.7 225.0,43.8 226.0,43.2 226.9,42.0 227.8,41.1 228.7,40.8 229.6,41.5 230.5,42.7 231.4,44.1 232.3,44.8 233.2,44.7 234.1,43.8 235.0,42.6 235.9,41.8 236.8,42.0 237.7,42.9 238.6,44.4 239.5,45.6 240.4,45.9 241.3,45.5 242.2,44.5 243.2,43.4 244.1,42.9 245.0,43.3 245.9,44.3 246.8,45.7 247.7,46.7 248.6,47.1 249.5,46.6 250.4,45.4 251.3,44.5 252.2,44.0 253.1,44.3 254.0,45.5 254.9,46.8 255.8,47.8 256.7,48.0 257.6,47.4 258.5,46.3 259.4,45.2 260.4,45.1 261.3,45.7 262.2,47.1 263.1,48.3 264.0,49.1 264.9,48.9 265.8,48.1 266.7,47.1 267.6,46.2 268.5,46.3 269.4,47.0 270.3,48.2 271.2,49.6 272.1,50.1 273.0,49.9 273.9,49.0 274.8,48.0 275.7,47.2 276.6,47.2 277.5,48.0 278.5,49.1 279.4,50.5 280.3,51.2 281.2,51.2 282.1,50.7 283.0,49.6 283.9,48.9 284.8,48.6 285.7,48.8 286.6,49.8 287.5,51.1 288.4,52.1 289.3,52.8 290.2,52.8 291.1,51.9 292.0,51.0 292.9,50.2 293.8,50.0 294.7,50.8 295.7,52.0 296.6,53.3 297.5,54.0 298.4,54.1 299.3,53.2 300.2,52.1 301.1,51.2 302.0,50.9 302.9,51.5 303.8,52.9 304.7,54.0 305.6,54.8 306.5,54.7 307.4,53.9 308.3,52.8 309.2,51.8 310.1,51.7 311.0,52.5 311.9,53.7 312.9,55.0 313.8,55.6 314.7,55.4 315.6,54.7 316.5,53.5 317.4,52.7 318.3,52.5 319.2,53.2 320.1,54.5 321.0,55.7 321.9,56.5 322.8,56.4 323.7,55.7 324.6,54.6 325.5,53.6 326.4,53.5 327.3,54.1 328.2,55.3 329.1,56.7 330.0,57.3 331.0,57.2 331.9,56.6 332.8,55.4 333.7,54.6 334.6,54.3 335.5,54.6 336.4,55.7 337.3,56.9 338.2,58.0 339.1,58.3 340.0,57.9 340.9,57.1 341.8,56.0 342.7,55.3 343.6,55.3 344.5,56.1 345.4,57.2 346.3,58.3 347.2,59.2 348.2,59.1 349.1,58.3 350.0,57.3 350.9,56.4 351.8,56.1 352.7,56.7 353.6,57.9 354.5,59.1 355.4,59.9 356.3,59.9 357.2,58.5 358.1,57.0 359.0,57.3 359.9,59.3 360.8,61.6 361.7,62.1 362.6,61.0 363.5,59.8 364.4,58.7 365.3,58.2 366.3,58.6 367.2,59.5 368.1,60.7 369.0,61.7 369.9,62.0 370.8,61.6 371.7,60.7 372.6,59.6 373.5,58.8 374.4,58.8 375.3,59.6 376.2,60.8 377.1,62.0 378.0,62.5 378.9,62.3 379.8,61.3 380.7,60.1 381.6,59.3 382.5,59.4 383.5,60.5 384.4,61.8 385.3,62.8 386.2,63.1 387.1,62.5 388.0,61.3 388.9,60.2 389.8,59.9 390.7,60.5 391.6,61.8 392.5,63.1 393.4,63.8 394.3,63.6 395.2,62.9 396.1,61.7 397.0,61.0 397.9,60.9 398.8,61.8 399.7,63.0 400.7,64.2 401.6,65.0 402.5,64.8 403.4,64.1 404.3,63.1 405.2,62.2 406.1,61.9 407.0,62.0 407.9,62.8 408.8,63.8 409.7,64.8 410.6,65.5 411.5,65.9 412.4,65.4 413.3,64.4 414.2,63.3 415.1,62.7 416.0,62.6 416.9,63.0 417.8,64.0 418.8,65.2 419.7,66.1 420.6,66.4 421.5,66.0 422.4,65.1 423.3,64.0 424.2,63.2 425.1,63.0 426.0,63.7 426.9,64.7 427.8,65.9 428.7,66.7 429.6,66.7 430.5,66.1 431.4,64.8 432.3,63.8 433.2,63.4 434.1,64.2 435.0,65.4 436.0,66.6 436.9,67.2 437.8,67.0 438.7,66.2 439.6,65.1 440.5,64.1 441.4,63.8 442.3,64.3 443.2,65.2 444.1,66.4 445.0,67.2 445.9,67.5 446.8,67.2 447.7,66.1 448.6,64.9 449.5,64.2 450.4,64.1 451.3,65.0 452.2,66.2 453.2,67.2 454.1,67.7 455.0,67.6 455.9,66.6 456.8,65.6 457.7,64.6 458.6,64.3 459.5,64.9 460.4,65.9 461.3,67.0 462.2,67.8 463.1,68.0 464.0,67.2 464.9,65.9 465.8,64.8 466.7,64.5 467.6,65.0 468.5,66.2 469.4,67.4 470.3,68.1 471.3,68.1 472.2,67.3 473.1,66.1 474.0,65.1 474.9,64.6 475.8,65.1 476.7,66.1 477.6,67.2 478.5,68.1 479.4,68.3 480.3,67.8 481.2,66.8 482.1,65.7 483.0,64.9 483.9,64.7 484.8,65.3 485.7,66.4 486.6,67.5 487.5,68.1 488.5,68.1 489.4,67.5 490.3,66.4 491.2,65.3 492.1,64.5 493.0,64.4 493.9,64.9 494.8,66.0 495.7,67.0 496.6,67.7 497.5,67.8 498.4,67.3 499.3,66.2 500.2,65.1 501.1,64.4 502.0,64.5 502.9,65.4 503.8,66.6 504.7,67.6 505.7,68.0 506.6,67.6 507.5,66.8 508.4,65.7 509.3,64.8 510.2,64.5 511.1,64.8 512.0,65.6 512.9,66.7 513.8,67.8 514.7,68.4 515.6,67.8 516.5,65.9 517.4,65.4 518.3,67.4 519.2,69.6 520.1,69.5 521.0,68.5 521.9,67.5 522.8,66.5 523.8,65.9 524.7,65.8 525.6,66.4 526.5,67.3 527.4,68.3 528.3,69.1 529.2,69.4 530.1,68.9 531.0,67.9 531.9,66.7 532.8,65.9 533.7,65.9 534.6,66.6 535.5,67.7 536.4,68.8 537.3,69.3 538.2,69.1 539.1,67.9 540.0,66.7 541.0,65.8 541.9,65.6 542.8,66.3 543.7,67.5 544.6,68.6 545.5,68.9 546.4,68.6 547.3,67.6 548.2,66.5 549.1,65.6 550.0,65.3 550.9,65.7 551.8,66.7 552.7,67.9 553.6,68.6 554.5,68.5 555.4,67.8 556.3,66.6 557.2,65.4 558.2,64.9 559.1,65.1 560.0,66.1 560.9,67.3 561.8,68.1 562.7,68.2 563.6,67.6 564.5,66.3 565.4,65.1 566.3,64.6 567.2,65.0 568.1,65.9 569.0,67.2 569.9,68.0 570.8,67.8 571.7,66.8 572.6,65.5 573.5,64.6 574.4,64.4 575.3,65.0 576.3,66.0 577.2,67.1 578.1,67.7 579.0,67.5 579.9,66.5 580.8,65.3 581.7,64.4 582.6,64.2 583.5,65.0 584.4,66.2" fill="none" stroke="#e61a1a" stroke-width="2.6" stroke-linejoin="round"/>
<path d="M41.3 12.7h0M42.2 11.4h0M43.1 12.2h0M44.0 14.4h0M44.9 15.5h0M45.8 14.5h0M46.7 12.8h0M47.6 12.4h0M48.5 13.9h0M49.4 15.8h0M50.4 16.2h0M51.3 15.0h0M52.2 13.7h0M53.1 13.5h0M54.0 14.8h0M54.9 16.6h0M55.8 17.6h0M56.7 17.3h0M57.6 16.3h0M58.5 15.2h0M59.4 14.7h0M60.3 15.1h0M61.2 16.2h0M62.1 17.6h0M63.0 18.7h0M63.9 19.2h0M64.8 18.4h0M65.7 17.0h0M66.6 16.3h0M67.5 17.0h0M68.5 18.9h0M69.4 20.4h0M70.3 20.8h0M71.2 19.4h0M72.1 18.2h0M73.0 18.8h0M73.9 20.9h0M74.8 22.5h0M75.7 22.2h0M76.6 20.8h0M77.5 19.9h0M78.4 20.7h0M79.3 22.8h0M80.2 24.2h0M81.1 24.2h0M82.0 23.2h0M82.9 22.1h0M83.8 21.6h0M84.7 22.4h0M85.7 24.0h0M86.6 25.5h0M87.5 26.3h0M88.4 25.9h0M89.3 24.7h0M90.2 23.7h0M91.1 23.8h0M92.0 24.8h0M92.9 26.4h0M93.8 27.9h0M94.7 28.2h0M95.6 27.7h0M96.5 26.5h0M97.4 25.8h0M98.3 25.9h0M99.2 27.2h0M100.1 28.7h0M101.0 30.1h0M101.9 30.4h0M102.9 30.0h0M103.8 28.8h0M104.7 28.0h0M105.6 27.8h0M106.5 28.6h0M107.4 30.0h0M108.3 31.3h0M109.2 32.2h0M110.1 32.0h0M111.0 31.2h0M111.9 30.0h0M112.8 29.4h0M113.7 29.4h0M114.6 30.3h0M115.5 31.7h0M116.4 33.1h0M117.3 34.2h0M118.2 33.7h0M119.1 32.5h0M120.0 31.3h0M121.0 30.7h0M121.9 30.8h0M122.8 31.7h0M123.7 33.1h0M124.6 34.2h0M125.5 34.6h0M126.4 34.5h0M127.3 33.7h0M128.2 32.8h0M129.1 32.0h0M130.0 31.6h0M130.9 32.1h0M131.8 32.9h0M132.7 33.9h0M133.6 35.0h0M134.5 35.5h0M135.4 35.6h0M136.3 34.7h0M137.2 33.5h0M138.2 32.5h0M139.1 32.1h0M140.0 32.7h0M140.9 33.6h0M141.8 34.8h0M142.7 35.8h0M143.6 35.8h0M144.5 35.4h0M145.4 34.5h0M146.3 33.3h0M147.2 32.7h0M148.1 32.3h0M149.0 32.7h0M149.9 33.4h0M150.8 34.6h0M151.7 35.4h0M152.6 36.1h0M153.5 35.9h0M154.4 34.9h0M155.4 33.8h0M156.3 32.8h0M157.2 32.8h0M158.1 33.6h0M159.0 35.0h0M159.9 36.0h0M160.8 36.5h0M161.7 36.2h0M162.6 35.2h0M163.5 34.2h0M164.4 33.3h0M165.3 33.2h0M166.2 33.6h0M167.1 34.7h0M168.0 35.7h0M168.9 36.8h0M169.8 37.2h0M170.7 36.7h0M171.6 35.7h0M172.5 34.7h0M173.5 34.3h0M174.4 34.8h0M175.3 36.1h0M176.2 37.7h0M177.1 38.7h0M178.0 38.7h0M178.9 38.0h0M179.8 37.0h0M180.7 36.0h0M181.6 35.6h0M182.5 36.0h0M183.4 36.9h0M184.3 38.0h0M185.2 38.9h0M186.1 39.3h0M187.0 38.6h0M187.9 37.2h0M188.8 36.1h0M189.7 35.7h0M190.7 36.4h0M191.6 37.7h0M192.5 39.0h0M193.4 39.5h0M194.3 39.2h0M195.2 38.3h0M196.1 37.1h0M197.0 36.5h0M197.9 36.6h0M198.8 37.3h0M199.7 38.7h0M200.6 39.7h0M201.5 40.5h0M202.4 40.4h0M203.3 39.4h0M204.2 38.1h0M205.1 37.6h0M206.0 38.2h0M206.9 39.6h0M207.9 41.2h0M208.8 41.9h0M209.7 41.7h0M210.6 40.9h0M211.5 39.8h0M212.4 39.2h0M213.3 39.1h0M214.2 39.7h0M215.1 41.0h0M216.0 42.2h0M216.9 43.1h0M217.8 42.9h0M218.7 42.1h0M219.6 40.9h0M220.5 40.1h0M221.4 40.2h0M222.3 41.2h0M223.2 42.5h0M224.1 43.7h0M225.0 43.8h0M226.0 43.2h0M226.9 42.0h0M227.8 41.1h0M228.7 40.8h0M229.6 41.5h0M230.5 42.7h0M231.4 44.1h0M232.3 44.8h0M233.2 44.7h0M234.1 43.8h0M235.0 42.6h0M235.9 41.8h0M236.8 42.0h0M237.7 42.9h0M238.6 44.4h0M239.5 45.6h0M240.4 45.9h0M241.3 45.5h0M242.2 44.5h0M243.2 43.4h0M244.1 42.9h0M245.0 43.3h0M245.9 44.3h0M246.8 45.7h0M247.7 46.7h0M248.6 47.1h0M249.5 46.6h0M250.4 45.4h0M251.3 44.5h0M252.2 44.0h0M253.1 44.3h0M254.0 45.5h0M254.9 46.8h0M255.8 47.8h0M256.7 48.0h0M257.6 47.4h0M258.5 46.3h0M259.4 45.2h0M260.4 45.1h0M261.3 45.7h0M262.2 47.1h0M263.1 48.3h0M264.0 49.1h0M264.9 48.9h0M265.8 48.1h0M266.7 47.1h0M267.6 46.2h0M268.5 46.3h0M269.4 47.0h0M270.3 48.2h0M271.2 49.6h0M272.1 50.1h0M273.0 49.9h0M273.9 49.0h0M274.8 48.0h0M275.7 47.2h0M276.6 47.2h0M277.5 48.0h0M278.5 49.1h0M279.4 50.5h0M280.3 51.2h0M281.2 51.2h0M282.1 50.7h0M283.0 49.6h0M283.9 48.9h0M284.8 48.6h0M285.7 48.8h0M286.6 49.8h0M287.5 51.1h0M288.4 52.1h0M289.3 52.8h0M290.2 52.8h0M291.1 51.9h0M292.0 51.0h0M292.9 50.2h0M293.8 50.0h0M294.7 50.8h0M295.7 52.0h0M296.6 53.3h0M297.5 54.0h0M298.4 54.1h0M299.3 53.2h0M300.2 52.1h0M301.1 51.2h0M302.0 50.9h0M302.9 51.5h0M303.8 52.9h0M304.7 54.0h0M305.6 54.8h0M306.5 54.7h0M307.4 53.9h0M308.3 52.8h0M309.2 51.8h0M310.1 51.7h0M311.0 52.5h0M311.9 53.7h0M312.9 55.0h0M313.8 55.6h0M314.7 55.4h0M315.6 54.7h0M316.5 53.5h0M317.4 52.7h0M318.3 52.5h0M319.2 53.2h0M320.1 54.5h0M321.0 55.7h0M321.9 56.5h0M322.8 56.4h0M323.7 55.7h0M324.6 54.6h0M325.5 53.6h0M326.4 53.5h0M327.3 54.1h0M328.2 55.3h0M329.1 56.7h0M330.0 57.3h0M331.0 57.2h0M331.9 56.6h0M332.8 55.4h0M333.7 54.6h0M334.6 54.3h0M335.5 54.6h0M336.4 55.7h0M337.3 56.9h0M338.2 58.0h0M339.1 58.3h0M340.0 57.9h0M340.9 57.1h0M341.8 56.0h0M342.7 55.3h0M343.6 55.3h0M344.5 56.1h0M345.4 57.2h0M346.3 58.3h0M347.2 59.2h0M348.2 59.1h0M349.1 58.3h0M350.0 57.3h0M350.9 56.4h0M351.8 56.1h0M352.7 56.7h0M353.6 57.9h0M354.5 59.1h0M355.4 59.9h0M356.3 59.9h0M357.2 58.5h0M358.1 57.0h0M359.0 57.3h0M359.9 59.3h0M360.8 61.6h0M361.7 62.1h0M362.6 61.0h0M363.5 59.8h0M364.4 58.7h0M365.3 58.2h0M366.3 58.6h0M367.2 59.5h0M368.1 60.7h0M369.0 61.7h0M369.9 62.0h0M370.8 61.6h0M371.7 60.7h0M372.6 59.6h0M373.5 58.8h0M374.4 58.8h0M375.3 59.6h0M376.2 60.8h0M377.1 62.0h0M378.0 62.5h0M378.9 62.3h0M379.8 61.3h0M380.7 60.1h0M381.6 59.3h0M382.5 59.4h0M383.5 60.5h0M384.4 61.8h0M385.3 62.8h0M386.2 63.1h0M387.1 62.5h0M388.0 61.3h0M388.9 60.2h0M389.8 59.9h0M390.7 60.5h0M391.6 61.8h0M392.5 63.1h0M393.4 63.8h0M394.3 63.6h0M395.2 62.9h0M396.1 61.7h0M397.0 61.0h0M397.9 60.9h0M398.8 61.8h0M399.7 63.0h0M400.7 64.2h0M401.6 65.0h0M402.5 64.8h0M403.4 64.1h0M404.3 63.1h0M405.2 62.2h0M406.1 61.9h0M407.0 62.0h0M407.9 62.8h0M408.8 63.8h0M409.7 64.8h0M410.6 65.5h0M411.5 65.9h0M412.4 65.4h0M413.3 64.4h0M414.2 63.3h0M415.1 62.7h0M416.0 62.6h0M416.9 63.0h0M417.8 64.0h0M418.8 65.2h0M419.7 66.1h0M420.6 66.4h0M421.5 66.0h0M422.4 65.1h0M423.3 64.0h0M424.2 63.2h0M425.1 63.0h0M426.0 63.7h0M426.9 64.7h0M427.8 65.9h0M428.7 66.7h0M429.6 66.7h0M430.5 66.1h0M431.4 64.8h0M432.3 63.8h0M433.2 63.4h0M434.1 64.2h0M435.0 65.4h0M436.0 66.6h0M436.9 67.2h0M437.8 67.0h0M438.7 66.2h0M439.6 65.1h0M440.5 64.1h0M441.4 63.8h0M442.3 64.3h0M443.2 65.2h0M444.1 66.4h0M445.0 67.2h0M445.9 67.5h0M446.8 67.2h0M447.7 66.1h0M448.6 64.9h0M449.5 64.2h0M450.4 64.1h0M451.3 65.0h0M452.2 66.2h0M453.2 67.2h0M454.1 67.7h0M455.0 67.6h0M455.9 66.6h0M456.8 65.6h0M457.7 64.6h0M458.6 64.3h0M459.5 64.9h0M460.4 65.9h0M461.3 67.0h0M462.2 67.8h0M463.1 68.0h0M464.0 67.2h0M464.9 65.9h0M465.8 64.8h0M466.7 64.5h0M467.6 65.0h0M468.5 66.2h0M469.4 67.4h0M470.3 68.1h0M471.3 68.1h0M472.2 67.3h0M473.1 66.1h0M474.0 65.1h0M474.9 64.6h0M475.8 65.1h0M476.7 66.1h0M477.6 67.2h0M478.5 68.1h0M479.4 68.3h0M480.3 67.8h0M481.2 66.8h0M482.1 65.7h0M483.0 64.9h0M483.9 64.7h0M484.8 65.3h0M485.7 66.4h0M486.6 67.5h0M487.5 68.1h0M488.5 68.1h0M489.4 67.5h0M490.3 66.4h0M491.2 65.3h0M492.1 64.5h0M493.0 64.4h0M493.9 64.9h0M494.8 66.0h0M495.7 67.0h0M496.6 67.7h0M497.5 67.8h0M498.4 67.3h0M499.3 66.2h0M500.2 65.1h0M501.1 64.4h0M502.0 64.5h0M502.9 65.4h0M503.8 66.6h0M504.7 67.6h0M505.7 68.0h0M506.6 67.6h0M507.5 66.8h0M508.4 65.7h0M509.3 64.8h0M510.2 64.5h0M511.1 64.8h0M512.0 65.6h0M512.9 66.7h0M513.8 67.8h0M514.7 68.4h0M515.6 67.8h0M516.5 65.9h0M517.4 65.4h0M518.3 67.4h0M519.2 69.6h0M520.1 69.5h0M521.0 68.5h0M521.9 67.5h0M522.8 66.5h0M523.8 65.9h0M524.7 65.8h0M525.6 66.4h0M526.5 67.3h0M527.4 68.3h0M528.3 69.1h0M529.2 69.4h0M530.1 68.9h0M531.0 67.9h0M531.9 66.7h0M532.8 65.9h0M533.7 65.9h0M534.6 66.6h0M535.5 67.7h0M536.4 68.8h0M537.3 69.3h0M538.2 69.1h0M539.1 67.9h0M540.0 66.7h0M541.0 65.8h0M541.9 65.6h0M542.8 66.3h0M543.7 67.5h0M544.6 68.6h0M545.5 68.9h0M546.4 68.6h0M547.3 67.6h0M548.2 66.5h0M549.1 65.6h0M550.0 65.3h0M550.9 65.7h0M551.8 66.7h0M552.7 67.9h0M553.6 68.6h0M554.5 68.5h0M555.4 67.8h0M556.3 66.6h0M557.2 65.4h0M558.2 64.9h0M559.1 65.1h0M560.0 66.1h0M560.9 67.3h0M561.8 68.1h0M562.7 68.2h0M563.6 67.6h0M564.5 66.3h0M565.4 65.1h0M566.3 64.6h0M567.2 65.0h0M568.1 65.9h0M569.0 67.2h0M569.9 68.0h0M570.8 67.8h0M571.7 66.8h0M572.6 65.5h0M573.5 64.6h0M574.4 64.4h0M575.3 65.0h0M576.3 66.0h0M577.2 67.1h0M578.1 67.7h0M579.0 67.5h0M579.9 66.5h0M580.8 65.3h0M581.7 64.4h0M582.6 64.2h0M583.5 65.0h0M584.4 66.2h0" stroke="#e01414" stroke-width="2.70" stroke-linecap="round" fill="none"/>
</g>
<rect x="41.30" y="2.30" width="543.10" height="158.10" fill="none" stroke="#1a1a1a" stroke-width="1.25"/>
<text x="41.30" y="172.70" class="tl" text-anchor="middle">0</text>
<line x1="86.56" y1="160.40" x2="86.56" y2="157.90" class="tk"/>
<line x1="86.56" y1="2.30" x2="86.56" y2="4.80" class="tk"/>
<line x1="131.82" y1="160.40" x2="131.82" y2="155.90" class="tk"/>
<line x1="131.82" y1="2.30" x2="131.82" y2="6.80" class="tk"/>
<text x="131.82" y="172.70" class="tl" text-anchor="middle">100</text>
<line x1="177.07" y1="160.40" x2="177.07" y2="157.90" class="tk"/>
<line x1="177.07" y1="2.30" x2="177.07" y2="4.80" class="tk"/>
<line x1="222.33" y1="160.40" x2="222.33" y2="155.90" class="tk"/>
<line x1="222.33" y1="2.30" x2="222.33" y2="6.80" class="tk"/>
<text x="222.33" y="172.70" class="tl" text-anchor="middle">200</text>
<line x1="267.59" y1="160.40" x2="267.59" y2="157.90" class="tk"/>
<line x1="267.59" y1="2.30" x2="267.59" y2="4.80" class="tk"/>
<line x1="312.85" y1="160.40" x2="312.85" y2="155.90" class="tk"/>
<line x1="312.85" y1="2.30" x2="312.85" y2="6.80" class="tk"/>
<text x="312.85" y="172.70" class="tl" text-anchor="middle">300</text>
<line x1="358.11" y1="160.40" x2="358.11" y2="157.90" class="tk"/>
<line x1="358.11" y1="2.30" x2="358.11" y2="4.80" class="tk"/>
<line x1="403.37" y1="160.40" x2="403.37" y2="155.90" class="tk"/>
<line x1="403.37" y1="2.30" x2="403.37" y2="6.80" class="tk"/>
<text x="403.37" y="172.70" class="tl" text-anchor="middle">400</text>
<line x1="448.62" y1="160.40" x2="448.62" y2="157.90" class="tk"/>
<line x1="448.62" y1="2.30" x2="448.62" y2="4.80" class="tk"/>
<line x1="493.88" y1="160.40" x2="493.88" y2="155.90" class="tk"/>
<line x1="493.88" y1="2.30" x2="493.88" y2="6.80" class="tk"/>
<text x="493.88" y="172.70" class="tl" text-anchor="middle">500</text>
<line x1="539.14" y1="160.40" x2="539.14" y2="157.90" class="tk"/>
<line x1="539.14" y1="2.30" x2="539.14" y2="4.80" class="tk"/>
<text x="584.40" y="172.70" class="tl" text-anchor="middle">600</text>
<line x1="41.30" y1="147.22" x2="45.80" y2="147.22" class="tk"/>
<text x="36.00" y="150.32" class="tl" text-anchor="end">264</text>
<line x1="41.30" y1="134.05" x2="43.80" y2="134.05" class="tk"/>
<line x1="41.30" y1="120.88" x2="45.80" y2="120.88" class="tk"/>
<text x="36.00" y="123.97" class="tl" text-anchor="end">265</text>
<line x1="41.30" y1="107.70" x2="43.80" y2="107.70" class="tk"/>
<line x1="41.30" y1="94.53" x2="45.80" y2="94.53" class="tk"/>
<text x="36.00" y="97.62" class="tl" text-anchor="end">266</text>
<line x1="41.30" y1="81.35" x2="43.80" y2="81.35" class="tk"/>
<line x1="41.30" y1="68.17" x2="45.80" y2="68.17" class="tk"/>
<text x="36.00" y="71.27" class="tl" text-anchor="end">267</text>
<line x1="41.30" y1="55.00" x2="43.80" y2="55.00" class="tk"/>
<line x1="41.30" y1="41.83" x2="45.80" y2="41.83" class="tk"/>
<text x="36.00" y="44.93" class="tl" text-anchor="end">268</text>
<line x1="41.30" y1="28.65" x2="43.80" y2="28.65" class="tk"/>
<line x1="41.30" y1="15.48" x2="45.80" y2="15.48" class="tk"/>
<text x="36.00" y="18.58" class="tl" text-anchor="end">269</text>
<line x1="41.30" y1="2.30" x2="43.80" y2="2.30" class="tk"/>
<line x1="584.40" y1="152.50" x2="579.90" y2="152.50" class="tk"/>
<text x="589.40" y="155.59" class="tl">-0.004</text>
<line x1="584.40" y1="136.69" x2="581.90" y2="136.69" class="tk"/>
<line x1="584.40" y1="120.88" x2="579.90" y2="120.88" class="tk"/>
<text x="589.40" y="123.97" class="tl">0.000</text>
<line x1="584.40" y1="105.06" x2="581.90" y2="105.06" class="tk"/>
<line x1="584.40" y1="89.26" x2="579.90" y2="89.26" class="tk"/>
<text x="589.40" y="92.36" class="tl">0.004</text>
<line x1="584.40" y1="73.45" x2="581.90" y2="73.45" class="tk"/>
<line x1="584.40" y1="57.64" x2="579.90" y2="57.64" class="tk"/>
<text x="589.40" y="60.74" class="tl">0.008</text>
<line x1="584.40" y1="41.83" x2="581.90" y2="41.83" class="tk"/>
<line x1="584.40" y1="26.02" x2="579.90" y2="26.02" class="tk"/>
<text x="589.40" y="29.12" class="tl">0.012</text>
<line x1="584.40" y1="10.21" x2="581.90" y2="10.21" class="tk"/>
</g>
<clipPath id="cb"><rect x="40.5" y="179.7" width="543.5" height="157.7"/></clipPath>
<g clip-path="url(#cb)">
<polyline points="40.5,299.9 41.4,304.2 42.3,308.8 43.2,301.7 44.1,288.6 45.0,293.2 45.9,297.9 46.8,302.8 47.7,306.4 48.6,291.8 49.5,284.4 50.4,288.6 51.3,293.0 52.2,297.5 53.1,302.4 54.0,287.5 54.9,274.3 55.9,277.5 56.8,280.7 57.7,283.9 58.6,287.0 59.5,290.2 60.4,293.4 61.3,283.3 62.2,272.4 63.1,266.1 64.0,269.9 64.9,273.7 65.8,277.5 66.7,280.9 67.6,276.2 68.5,263.2 69.4,257.0 70.3,260.5 71.3,263.5 72.2,266.6 73.1,261.1 74.0,246.3 74.9,245.9 75.8,249.0 76.7,252.1 77.6,255.1 78.5,248.2 79.4,234.4 80.3,233.7 81.2,236.4 82.1,239.3 83.0,242.4 83.9,245.7 84.8,242.9 85.7,230.8 86.7,220.0 87.6,223.6 88.5,227.3 89.4,231.1 90.3,234.9 91.2,238.7 92.1,231.0 93.0,218.5 93.9,212.4 94.8,216.3 95.7,220.2 96.6,224.2 97.5,228.2 98.4,232.2 99.3,223.3 100.2,211.2 101.1,205.4 102.1,209.6 103.0,213.8 103.9,218.1 104.8,222.3 105.7,226.6 106.6,224.0 107.5,212.8 108.4,201.7 109.3,204.7 110.2,209.1 111.1,213.6 112.0,218.2 112.9,222.7 113.8,227.2 114.7,222.2 115.6,207.6 116.5,192.1 117.5,199.3 118.4,209.3 119.3,215.3 120.2,220.1 121.1,224.9 122.0,229.7 122.9,223.3 123.8,212.8 124.7,203.8 125.6,208.0 126.5,212.3 127.4,216.6 128.3,220.9 129.2,225.2 130.1,229.5 131.0,233.8 131.9,228.4 132.9,219.7 133.8,211.1 134.7,210.9 135.6,216.0 136.5,221.2 137.4,226.4 138.3,231.6 139.2,236.7 140.1,239.5 141.0,229.9 141.9,220.3 142.8,216.3 143.7,221.1 144.6,225.8 145.5,230.5 146.4,235.2 147.3,240.0 148.3,244.7 149.2,249.4 150.1,243.6 151.0,235.7 151.9,227.8 152.8,227.7 153.7,233.1 154.6,238.5 155.5,243.9 156.4,249.3 157.3,254.7 158.2,249.7 159.1,239.0 160.0,229.9 160.9,234.8 161.8,239.6 162.7,244.4 163.7,249.2 164.6,254.0 165.5,258.9 166.4,262.3 167.3,253.5 168.2,244.7 169.1,237.4 170.0,242.6 170.9,247.8 171.8,253.0 172.7,258.2 173.6,263.4 174.5,266.2 175.4,255.4 176.3,244.5 177.2,243.1 178.1,247.8 179.1,252.6 180.0,257.4 180.9,262.1 181.8,266.9 182.7,271.4 183.6,261.7 184.5,251.9 185.4,245.2 186.3,250.6 187.2,255.9 188.1,261.2 189.0,266.5 189.9,271.9 190.8,269.6 191.7,258.3 192.6,247.0 193.5,251.8 194.5,256.5 195.4,261.3 196.3,266.1 197.2,270.8 198.1,275.6 199.0,272.1 199.9,262.1 200.8,252.1 201.7,254.5 202.6,260.0 203.5,265.5 204.4,270.9 205.3,276.4 206.2,277.2 207.1,265.6 208.0,254.1 209.0,257.1 209.9,261.7 210.8,266.3 211.7,270.9 212.6,275.5 213.5,280.1 214.4,279.1 215.3,269.3 216.2,259.6 217.1,258.8 218.0,264.0 218.9,269.2 219.8,274.3 220.7,279.4 221.6,284.5 222.5,275.8 223.4,264.8 224.4,260.2 225.3,265.0 226.2,269.8 227.1,274.6 228.0,279.4 228.9,284.2 229.8,283.2 230.7,272.6 231.6,262.0 232.5,263.7 233.4,268.5 234.3,273.4 235.2,278.2 236.1,283.0 237.0,287.8 237.9,280.6 238.8,270.0 239.8,262.4 240.7,267.1 241.6,271.8 242.5,276.4 243.4,281.1 244.3,285.8 245.2,290.5 246.1,280.6 247.0,270.4 247.9,264.6 248.8,269.3 249.7,273.9 250.6,278.6 251.5,283.3 252.4,288.0 253.3,291.6 254.2,281.3 255.2,271.1 256.1,266.8 257.0,271.7 257.9,276.5 258.8,281.4 259.7,286.2 260.6,291.1 261.5,290.1 262.4,279.4 263.3,268.7 264.2,270.4 265.1,275.1 266.0,279.8 266.9,284.5 267.8,289.2 268.7,293.9 269.6,290.1 270.6,279.7 271.5,269.4 272.4,272.5 273.3,277.1 274.2,281.6 275.1,286.2 276.0,290.8 276.9,295.4 277.8,293.2 278.7,283.2 279.6,273.2 280.5,273.2 281.4,277.5 282.3,281.8 283.2,286.0 284.1,290.3 285.0,294.6 286.0,298.8 286.9,292.7 287.8,283.4 288.7,274.1 289.6,275.8 290.5,280.4 291.4,284.9 292.3,289.4 293.2,293.9 294.1,298.5 295.0,297.7 295.9,287.6 296.8,277.5 297.7,276.3 298.6,281.0 299.5,285.7 300.4,290.3 301.4,295.0 302.3,299.7 303.2,298.8 304.1,288.3 305.0,277.9 305.9,278.0 306.8,282.7 307.7,287.4 308.6,292.0 309.5,296.7 310.4,301.4 311.3,299.0 312.2,288.5 313.1,278.0 314.0,279.6 314.9,284.1 315.8,288.7 316.8,293.2 317.7,297.8 318.6,302.3 319.5,301.6 320.4,291.4 321.3,281.3 322.2,280.0 323.1,284.8 324.0,289.5 324.9,294.2 325.8,299.0 326.7,303.7 327.6,302.8 328.5,292.3 329.4,281.8 330.3,281.8 331.2,286.2 332.2,290.6 333.1,295.0 334.0,299.4 334.9,303.8 335.8,308.2 336.7,298.8 337.6,289.0 338.5,280.7 339.4,285.2 340.3,289.6 341.2,294.1 342.1,298.5 343.0,303.0 343.9,307.5 344.8,305.5 345.7,295.6 346.6,285.8 347.6,284.6 348.5,289.3 349.4,293.7 350.3,298.0 351.2,302.3 352.1,306.4 353.0,307.2 353.9,297.1 354.8,287.2 355.7,285.4 356.6,291.7 357.5,297.8 358.4,301.1 359.3,296.0 360.2,272.6 361.1,264.7 362.1,275.0 363.0,281.5 363.9,285.7 364.8,289.7 365.7,293.7 366.6,297.7 367.5,289.5 368.4,280.3 369.3,272.4 370.2,276.4 371.1,280.5 372.0,284.5 372.9,288.5 373.8,292.5 374.7,296.6 375.6,292.7 376.5,283.4 377.5,274.1 378.4,275.7 379.3,280.1 380.2,284.5 381.1,289.0 382.0,293.4 382.9,297.8 383.8,289.8 384.7,279.5 385.6,273.7 386.5,278.1 387.4,282.5 388.3,286.9 389.2,291.3 390.1,295.8 391.0,295.0 391.9,284.8 392.9,274.6 393.8,276.0 394.7,280.2 395.6,284.4 396.5,288.6 397.4,292.8 398.3,297.0 399.2,293.3 400.1,283.5 401.0,273.8 401.9,276.0 402.8,279.5 403.7,283.1 404.6,286.6 405.5,290.1 406.4,293.7 407.3,297.2 408.3,295.1 409.2,287.0 410.1,278.8 411.0,274.2 411.9,277.9 412.8,281.5 413.7,285.2 414.6,288.9 415.5,292.6 416.4,296.2 417.3,298.0 418.2,289.5 419.1,281.0 420.0,273.7 420.9,277.6 421.8,281.5 422.7,285.3 423.7,289.2 424.6,293.1 425.5,296.9 426.4,296.8 427.3,287.9 428.2,279.0 429.1,275.4 430.0,279.8 430.9,284.2 431.8,288.6 432.7,293.0 433.6,297.4 434.5,295.2 435.4,285.0 436.3,274.8 437.2,277.3 438.1,281.1 439.1,284.9 440.0,288.9 440.9,292.9 441.8,296.8 442.7,300.3 443.6,291.6 444.5,282.9 445.4,275.5 446.3,279.7 447.2,283.9 448.1,288.1 449.0,292.2 449.9,296.4 450.8,300.6 451.7,296.9 452.6,287.7 453.5,278.6 454.5,280.1 455.4,284.3 456.3,288.4 457.2,292.6 458.1,296.8 459.0,301.0 459.9,301.3 460.8,292.1 461.7,283.0 462.6,280.5 463.5,284.9 464.4,289.3 465.3,293.6 466.2,298.0 467.1,302.3 468.0,302.8 468.9,293.1 469.9,283.4 470.8,282.0 471.7,286.0 472.6,290.1 473.5,294.1 474.4,298.2 475.3,302.3 476.2,306.0 477.1,296.9 478.0,287.7 478.9,281.2 479.8,285.1 480.7,289.1 481.6,293.0 482.5,296.9 483.4,300.9 484.3,304.8 485.3,303.5 486.2,294.6 487.1,285.7 488.0,283.2 488.9,286.9 489.8,290.7 490.7,294.4 491.6,298.1 492.5,301.9 493.4,305.6 494.3,304.9 495.2,296.3 496.1,287.8 497.0,283.0 497.9,287.0 498.8,290.9 499.7,294.9 500.7,298.9 501.6,302.9 502.5,306.8 503.4,300.3 504.3,290.9 505.2,281.5 506.1,285.1 507.0,288.8 507.9,292.4 508.8,296.0 509.7,299.6 510.6,303.3 511.5,306.9 512.4,300.0 513.3,291.5 514.2,281.6 515.2,284.3 516.1,290.2 517.0,295.7 517.9,293.3 518.8,270.0 519.7,269.0 520.6,277.3 521.5,282.2 522.4,285.8 523.3,289.3 524.2,292.8 525.1,296.4 526.0,296.6 526.9,288.4 527.8,280.2 528.7,273.2 529.6,277.2 530.6,281.2 531.5,285.2 532.4,289.2 533.3,293.2 534.2,297.2 535.1,293.3 536.0,284.0 536.9,274.6 537.8,276.1 538.7,280.3 539.6,284.4 540.5,288.6 541.4,292.8 542.3,297.0 543.2,293.2 544.1,283.4 545.0,273.7 546.0,276.2 546.9,280.2 547.8,284.2 548.7,288.1 549.6,292.1 550.5,296.0 551.4,295.8 552.3,286.5 553.2,277.2 554.1,274.6 555.0,278.6 555.9,282.6 556.8,286.6 557.7,290.6 558.6,294.6 559.5,298.6 560.4,289.4 561.4,280.0 562.3,273.4 563.2,277.8 564.1,282.2 565.0,286.6 565.9,290.9 566.8,295.3 567.7,296.0 568.6,285.8 569.5,275.6 570.4,275.4 571.3,279.6 572.2,283.8 573.1,288.0 574.0,292.2 574.9,296.3 575.8,294.0 576.8,284.2 577.7,274.4 578.6,275.8 579.5,280.0 580.4,284.2 581.3,288.3 582.2,292.5 583.1,296.7 584.0,292.9" fill="none" stroke="#f2a868" stroke-width="0.9" stroke-linejoin="round"/>
<path d="M40.5 298.6l1.3 2.2h-2.6zM41.4 302.9l1.3 2.2h-2.6zM42.3 307.5l1.3 2.2h-2.6zM43.2 300.4l1.3 2.2h-2.6zM44.1 287.3l1.3 2.2h-2.6zM45.0 291.9l1.3 2.2h-2.6zM45.9 296.6l1.3 2.2h-2.6zM46.8 301.5l1.3 2.2h-2.6zM47.7 305.1l1.3 2.2h-2.6zM48.6 290.5l1.3 2.2h-2.6zM49.5 283.1l1.3 2.2h-2.6zM50.4 287.3l1.3 2.2h-2.6zM51.3 291.7l1.3 2.2h-2.6zM52.2 296.2l1.3 2.2h-2.6zM53.1 301.1l1.3 2.2h-2.6zM54.0 286.2l1.3 2.2h-2.6zM54.9 273.0l1.3 2.2h-2.6zM55.9 276.2l1.3 2.2h-2.6zM56.8 279.4l1.3 2.2h-2.6zM57.7 282.6l1.3 2.2h-2.6zM58.6 285.7l1.3 2.2h-2.6zM59.5 288.9l1.3 2.2h-2.6zM60.4 292.1l1.3 2.2h-2.6zM61.3 282.0l1.3 2.2h-2.6zM62.2 271.1l1.3 2.2h-2.6zM63.1 264.8l1.3 2.2h-2.6zM64.0 268.6l1.3 2.2h-2.6zM64.9 272.4l1.3 2.2h-2.6zM65.8 276.2l1.3 2.2h-2.6zM66.7 279.6l1.3 2.2h-2.6zM67.6 274.9l1.3 2.2h-2.6zM68.5 261.9l1.3 2.2h-2.6zM69.4 255.7l1.3 2.2h-2.6zM70.3 259.2l1.3 2.2h-2.6zM71.3 262.2l1.3 2.2h-2.6zM72.2 265.3l1.3 2.2h-2.6zM73.1 259.8l1.3 2.2h-2.6zM74.0 245.0l1.3 2.2h-2.6zM74.9 244.6l1.3 2.2h-2.6zM75.8 247.7l1.3 2.2h-2.6zM76.7 250.8l1.3 2.2h-2.6zM77.6 253.8l1.3 2.2h-2.6zM78.5 246.9l1.3 2.2h-2.6zM79.4 233.1l1.3 2.2h-2.6zM80.3 232.4l1.3 2.2h-2.6zM81.2 235.1l1.3 2.2h-2.6zM82.1 238.0l1.3 2.2h-2.6zM83.0 241.1l1.3 2.2h-2.6zM83.9 244.4l1.3 2.2h-2.6zM84.8 241.6l1.3 2.2h-2.6zM85.7 229.5l1.3 2.2h-2.6zM86.7 218.7l1.3 2.2h-2.6zM87.6 222.3l1.3 2.2h-2.6zM88.5 226.0l1.3 2.2h-2.6zM89.4 229.8l1.3 2.2h-2.6zM90.3 233.6l1.3 2.2h-2.6zM91.2 237.4l1.3 2.2h-2.6zM92.1 229.7l1.3 2.2h-2.6zM93.0 217.2l1.3 2.2h-2.6zM93.9 211.1l1.3 2.2h-2.6zM94.8 215.0l1.3 2.2h-2.6zM95.7 218.9l1.3 2.2h-2.6zM96.6 222.9l1.3 2.2h-2.6zM97.5 226.9l1.3 2.2h-2.6zM98.4 230.9l1.3 2.2h-2.6zM99.3 222.0l1.3 2.2h-2.6zM100.2 209.9l1.3 2.2h-2.6zM101.1 204.1l1.3 2.2h-2.6zM102.1 208.3l1.3 2.2h-2.6zM103.0 212.5l1.3 2.2h-2.6zM103.9 216.8l1.3 2.2h-2.6zM104.8 221.0l1.3 2.2h-2.6zM105.7 225.3l1.3 2.2h-2.6zM106.6 222.7l1.3 2.2h-2.6zM107.5 211.5l1.3 2.2h-2.6zM108.4 200.4l1.3 2.2h-2.6zM109.3 203.4l1.3 2.2h-2.6zM110.2 207.8l1.3 2.2h-2.6zM111.1 212.3l1.3 2.2h-2.6zM112.0 216.9l1.3 2.2h-2.6zM112.9 221.4l1.3 2.2h-2.6zM113.8 225.9l1.3 2.2h-2.6zM114.7 220.9l1.3 2.2h-2.6zM115.6 206.3l1.3 2.2h-2.6zM116.5 190.8l1.3 2.2h-2.6zM117.5 198.0l1.3 2.2h-2.6zM118.4 208.0l1.3 2.2h-2.6zM119.3 214.0l1.3 2.2h-2.6zM120.2 218.8l1.3 2.2h-2.6zM121.1 223.6l1.3 2.2h-2.6zM122.0 228.4l1.3 2.2h-2.6zM122.9 222.0l1.3 2.2h-2.6zM123.8 211.5l1.3 2.2h-2.6zM124.7 202.5l1.3 2.2h-2.6zM125.6 206.7l1.3 2.2h-2.6zM126.5 211.0l1.3 2.2h-2.6zM127.4 215.3l1.3 2.2h-2.6zM128.3 219.6l1.3 2.2h-2.6zM129.2 223.9l1.3 2.2h-2.6zM130.1 228.2l1.3 2.2h-2.6zM131.0 232.5l1.3 2.2h-2.6zM131.9 227.1l1.3 2.2h-2.6zM132.9 218.4l1.3 2.2h-2.6zM133.8 209.8l1.3 2.2h-2.6zM134.7 209.6l1.3 2.2h-2.6zM135.6 214.7l1.3 2.2h-2.6zM136.5 219.9l1.3 2.2h-2.6zM137.4 225.1l1.3 2.2h-2.6zM138.3 230.3l1.3 2.2h-2.6zM139.2 235.4l1.3 2.2h-2.6zM140.1 238.2l1.3 2.2h-2.6zM141.0 228.6l1.3 2.2h-2.6zM141.9 219.0l1.3 2.2h-2.6zM142.8 215.0l1.3 2.2h-2.6zM143.7 219.8l1.3 2.2h-2.6zM144.6 224.5l1.3 2.2h-2.6zM145.5 229.2l1.3 2.2h-2.6zM146.4 233.9l1.3 2.2h-2.6zM147.3 238.7l1.3 2.2h-2.6zM148.3 243.4l1.3 2.2h-2.6zM149.2 248.1l1.3 2.2h-2.6zM150.1 242.3l1.3 2.2h-2.6zM151.0 234.4l1.3 2.2h-2.6zM151.9 226.5l1.3 2.2h-2.6zM152.8 226.4l1.3 2.2h-2.6zM153.7 231.8l1.3 2.2h-2.6zM154.6 237.2l1.3 2.2h-2.6zM155.5 242.6l1.3 2.2h-2.6zM156.4 248.0l1.3 2.2h-2.6zM157.3 253.4l1.3 2.2h-2.6zM158.2 248.4l1.3 2.2h-2.6zM159.1 237.7l1.3 2.2h-2.6zM160.0 228.6l1.3 2.2h-2.6zM160.9 233.5l1.3 2.2h-2.6zM161.8 238.3l1.3 2.2h-2.6zM162.7 243.1l1.3 2.2h-2.6zM163.7 247.9l1.3 2.2h-2.6zM164.6 252.7l1.3 2.2h-2.6zM165.5 257.6l1.3 2.2h-2.6zM166.4 261.0l1.3 2.2h-2.6zM167.3 252.2l1.3 2.2h-2.6zM168.2 243.4l1.3 2.2h-2.6zM169.1 236.1l1.3 2.2h-2.6zM170.0 241.3l1.3 2.2h-2.6zM170.9 246.5l1.3 2.2h-2.6zM171.8 251.7l1.3 2.2h-2.6zM172.7 256.9l1.3 2.2h-2.6zM173.6 262.1l1.3 2.2h-2.6zM174.5 264.9l1.3 2.2h-2.6zM175.4 254.1l1.3 2.2h-2.6zM176.3 243.2l1.3 2.2h-2.6zM177.2 241.8l1.3 2.2h-2.6zM178.1 246.5l1.3 2.2h-2.6zM179.1 251.3l1.3 2.2h-2.6zM180.0 256.1l1.3 2.2h-2.6zM180.9 260.8l1.3 2.2h-2.6zM181.8 265.6l1.3 2.2h-2.6zM182.7 270.1l1.3 2.2h-2.6zM183.6 260.4l1.3 2.2h-2.6zM184.5 250.6l1.3 2.2h-2.6zM185.4 243.9l1.3 2.2h-2.6zM186.3 249.3l1.3 2.2h-2.6zM187.2 254.6l1.3 2.2h-2.6zM188.1 259.9l1.3 2.2h-2.6zM189.0 265.2l1.3 2.2h-2.6zM189.9 270.6l1.3 2.2h-2.6zM190.8 268.3l1.3 2.2h-2.6zM191.7 257.0l1.3 2.2h-2.6zM192.6 245.7l1.3 2.2h-2.6zM193.5 250.5l1.3 2.2h-2.6zM194.5 255.2l1.3 2.2h-2.6zM195.4 260.0l1.3 2.2h-2.6zM196.3 264.8l1.3 2.2h-2.6zM197.2 269.5l1.3 2.2h-2.6zM198.1 274.3l1.3 2.2h-2.6zM199.0 270.8l1.3 2.2h-2.6zM199.9 260.8l1.3 2.2h-2.6zM200.8 250.8l1.3 2.2h-2.6zM201.7 253.2l1.3 2.2h-2.6zM202.6 258.7l1.3 2.2h-2.6zM203.5 264.2l1.3 2.2h-2.6zM204.4 269.6l1.3 2.2h-2.6zM205.3 275.1l1.3 2.2h-2.6zM206.2 275.9l1.3 2.2h-2.6zM207.1 264.3l1.3 2.2h-2.6zM208.0 252.8l1.3 2.2h-2.6zM209.0 255.8l1.3 2.2h-2.6zM209.9 260.4l1.3 2.2h-2.6zM210.8 265.0l1.3 2.2h-2.6zM211.7 269.6l1.3 2.2h-2.6zM212.6 274.2l1.3 2.2h-2.6zM213.5 278.8l1.3 2.2h-2.6zM214.4 277.8l1.3 2.2h-2.6zM215.3 268.0l1.3 2.2h-2.6zM216.2 258.3l1.3 2.2h-2.6zM217.1 257.5l1.3 2.2h-2.6zM218.0 262.7l1.3 2.2h-2.6zM218.9 267.9l1.3 2.2h-2.6zM219.8 273.0l1.3 2.2h-2.6zM220.7 278.1l1.3 2.2h-2.6zM221.6 283.2l1.3 2.2h-2.6zM222.5 274.5l1.3 2.2h-2.6zM223.4 263.5l1.3 2.2h-2.6zM224.4 258.9l1.3 2.2h-2.6zM225.3 263.7l1.3 2.2h-2.6zM226.2 268.5l1.3 2.2h-2.6zM227.1 273.3l1.3 2.2h-2.6zM228.0 278.1l1.3 2.2h-2.6zM228.9 282.9l1.3 2.2h-2.6zM229.8 281.9l1.3 2.2h-2.6zM230.7 271.3l1.3 2.2h-2.6zM231.6 260.7l1.3 2.2h-2.6zM232.5 262.4l1.3 2.2h-2.6zM233.4 267.2l1.3 2.2h-2.6zM234.3 272.1l1.3 2.2h-2.6zM235.2 276.9l1.3 2.2h-2.6zM236.1 281.7l1.3 2.2h-2.6zM237.0 286.5l1.3 2.2h-2.6zM237.9 279.3l1.3 2.2h-2.6zM238.8 268.7l1.3 2.2h-2.6zM239.8 261.1l1.3 2.2h-2.6zM240.7 265.8l1.3 2.2h-2.6zM241.6 270.5l1.3 2.2h-2.6zM242.5 275.1l1.3 2.2h-2.6zM243.4 279.8l1.3 2.2h-2.6zM244.3 284.5l1.3 2.2h-2.6zM245.2 289.2l1.3 2.2h-2.6zM246.1 279.3l1.3 2.2h-2.6zM247.0 269.1l1.3 2.2h-2.6zM247.9 263.3l1.3 2.2h-2.6zM248.8 268.0l1.3 2.2h-2.6zM249.7 272.6l1.3 2.2h-2.6zM250.6 277.3l1.3 2.2h-2.6zM251.5 282.0l1.3 2.2h-2.6zM252.4 286.7l1.3 2.2h-2.6zM253.3 290.3l1.3 2.2h-2.6zM254.2 280.0l1.3 2.2h-2.6zM255.2 269.8l1.3 2.2h-2.6zM256.1 265.5l1.3 2.2h-2.6zM257.0 270.4l1.3 2.2h-2.6zM257.9 275.2l1.3 2.2h-2.6zM258.8 280.1l1.3 2.2h-2.6zM259.7 284.9l1.3 2.2h-2.6zM260.6 289.8l1.3 2.2h-2.6zM261.5 288.8l1.3 2.2h-2.6zM262.4 278.1l1.3 2.2h-2.6zM263.3 267.4l1.3 2.2h-2.6zM264.2 269.1l1.3 2.2h-2.6zM265.1 273.8l1.3 2.2h-2.6zM266.0 278.5l1.3 2.2h-2.6zM266.9 283.2l1.3 2.2h-2.6zM267.8 287.9l1.3 2.2h-2.6zM268.7 292.6l1.3 2.2h-2.6zM269.6 288.8l1.3 2.2h-2.6zM270.6 278.4l1.3 2.2h-2.6zM271.5 268.1l1.3 2.2h-2.6zM272.4 271.2l1.3 2.2h-2.6zM273.3 275.8l1.3 2.2h-2.6zM274.2 280.3l1.3 2.2h-2.6zM275.1 284.9l1.3 2.2h-2.6zM276.0 289.5l1.3 2.2h-2.6zM276.9 294.1l1.3 2.2h-2.6zM277.8 291.9l1.3 2.2h-2.6zM278.7 281.9l1.3 2.2h-2.6zM279.6 271.9l1.3 2.2h-2.6zM280.5 271.9l1.3 2.2h-2.6zM281.4 276.2l1.3 2.2h-2.6zM282.3 280.5l1.3 2.2h-2.6zM283.2 284.7l1.3 2.2h-2.6zM284.1 289.0l1.3 2.2h-2.6zM285.0 293.3l1.3 2.2h-2.6zM286.0 297.5l1.3 2.2h-2.6zM286.9 291.4l1.3 2.2h-2.6zM287.8 282.1l1.3 2.2h-2.6zM288.7 272.8l1.3 2.2h-2.6zM289.6 274.5l1.3 2.2h-2.6zM290.5 279.1l1.3 2.2h-2.6zM291.4 283.6l1.3 2.2h-2.6zM292.3 288.1l1.3 2.2h-2.6zM293.2 292.6l1.3 2.2h-2.6zM294.1 297.2l1.3 2.2h-2.6zM295.0 296.4l1.3 2.2h-2.6zM295.9 286.3l1.3 2.2h-2.6zM296.8 276.2l1.3 2.2h-2.6zM297.7 275.0l1.3 2.2h-2.6zM298.6 279.7l1.3 2.2h-2.6zM299.5 284.4l1.3 2.2h-2.6zM300.4 289.0l1.3 2.2h-2.6zM301.4 293.7l1.3 2.2h-2.6zM302.3 298.4l1.3 2.2h-2.6zM303.2 297.5l1.3 2.2h-2.6zM304.1 287.0l1.3 2.2h-2.6zM305.0 276.6l1.3 2.2h-2.6zM305.9 276.7l1.3 2.2h-2.6zM306.8 281.4l1.3 2.2h-2.6zM307.7 286.1l1.3 2.2h-2.6zM308.6 290.7l1.3 2.2h-2.6zM309.5 295.4l1.3 2.2h-2.6zM310.4 300.1l1.3 2.2h-2.6zM311.3 297.7l1.3 2.2h-2.6zM312.2 287.2l1.3 2.2h-2.6zM313.1 276.7l1.3 2.2h-2.6zM314.0 278.3l1.3 2.2h-2.6zM314.9 282.8l1.3 2.2h-2.6zM315.8 287.4l1.3 2.2h-2.6zM316.8 291.9l1.3 2.2h-2.6zM317.7 296.5l1.3 2.2h-2.6zM318.6 301.0l1.3 2.2h-2.6zM319.5 300.3l1.3 2.2h-2.6zM320.4 290.1l1.3 2.2h-2.6zM321.3 280.0l1.3 2.2h-2.6zM322.2 278.7l1.3 2.2h-2.6zM323.1 283.5l1.3 2.2h-2.6zM324.0 288.2l1.3 2.2h-2.6zM324.9 292.9l1.3 2.2h-2.6zM325.8 297.7l1.3 2.2h-2.6zM326.7 302.4l1.3 2.2h-2.6zM327.6 301.5l1.3 2.2h-2.6zM328.5 291.0l1.3 2.2h-2.6zM329.4 280.5l1.3 2.2h-2.6zM330.3 280.5l1.3 2.2h-2.6zM331.2 284.9l1.3 2.2h-2.6zM332.2 289.3l1.3 2.2h-2.6zM333.1 293.7l1.3 2.2h-2.6zM334.0 298.1l1.3 2.2h-2.6zM334.9 302.5l1.3 2.2h-2.6zM335.8 306.9l1.3 2.2h-2.6zM336.7 297.5l1.3 2.2h-2.6zM337.6 287.7l1.3 2.2h-2.6zM338.5 279.4l1.3 2.2h-2.6zM339.4 283.9l1.3 2.2h-2.6zM340.3 288.3l1.3 2.2h-2.6zM341.2 292.8l1.3 2.2h-2.6zM342.1 297.2l1.3 2.2h-2.6zM343.0 301.7l1.3 2.2h-2.6zM343.9 306.2l1.3 2.2h-2.6zM344.8 304.2l1.3 2.2h-2.6zM345.7 294.3l1.3 2.2h-2.6zM346.6 284.5l1.3 2.2h-2.6zM347.6 283.3l1.3 2.2h-2.6zM348.5 288.0l1.3 2.2h-2.6zM349.4 292.4l1.3 2.2h-2.6zM350.3 296.7l1.3 2.2h-2.6zM351.2 301.0l1.3 2.2h-2.6zM352.1 305.1l1.3 2.2h-2.6zM353.0 305.9l1.3 2.2h-2.6zM353.9 295.8l1.3 2.2h-2.6zM354.8 285.9l1.3 2.2h-2.6zM355.7 284.1l1.3 2.2h-2.6zM356.6 290.4l1.3 2.2h-2.6zM357.5 296.5l1.3 2.2h-2.6zM358.4 299.8l1.3 2.2h-2.6zM359.3 294.7l1.3 2.2h-2.6zM360.2 271.3l1.3 2.2h-2.6zM361.1 263.4l1.3 2.2h-2.6zM362.1 273.7l1.3 2.2h-2.6zM363.0 280.2l1.3 2.2h-2.6zM363.9 284.4l1.3 2.2h-2.6zM364.8 288.4l1.3 2.2h-2.6zM365.7 292.4l1.3 2.2h-2.6zM366.6 296.4l1.3 2.2h-2.6zM367.5 288.2l1.3 2.2h-2.6zM368.4 279.0l1.3 2.2h-2.6zM369.3 271.1l1.3 2.2h-2.6zM370.2 275.1l1.3 2.2h-2.6zM371.1 279.2l1.3 2.2h-2.6zM372.0 283.2l1.3 2.2h-2.6zM372.9 287.2l1.3 2.2h-2.6zM373.8 291.2l1.3 2.2h-2.6zM374.7 295.3l1.3 2.2h-2.6zM375.6 291.4l1.3 2.2h-2.6zM376.5 282.1l1.3 2.2h-2.6zM377.5 272.8l1.3 2.2h-2.6zM378.4 274.4l1.3 2.2h-2.6zM379.3 278.8l1.3 2.2h-2.6zM380.2 283.2l1.3 2.2h-2.6zM381.1 287.7l1.3 2.2h-2.6zM382.0 292.1l1.3 2.2h-2.6zM382.9 296.5l1.3 2.2h-2.6zM383.8 288.5l1.3 2.2h-2.6zM384.7 278.2l1.3 2.2h-2.6zM385.6 272.4l1.3 2.2h-2.6zM386.5 276.8l1.3 2.2h-2.6zM387.4 281.2l1.3 2.2h-2.6zM388.3 285.6l1.3 2.2h-2.6zM389.2 290.0l1.3 2.2h-2.6zM390.1 294.5l1.3 2.2h-2.6zM391.0 293.7l1.3 2.2h-2.6zM391.9 283.5l1.3 2.2h-2.6zM392.9 273.3l1.3 2.2h-2.6zM393.8 274.7l1.3 2.2h-2.6zM394.7 278.9l1.3 2.2h-2.6zM395.6 283.1l1.3 2.2h-2.6zM396.5 287.3l1.3 2.2h-2.6zM397.4 291.5l1.3 2.2h-2.6zM398.3 295.7l1.3 2.2h-2.6zM399.2 292.0l1.3 2.2h-2.6zM400.1 282.2l1.3 2.2h-2.6zM401.0 272.5l1.3 2.2h-2.6zM401.9 274.7l1.3 2.2h-2.6zM402.8 278.2l1.3 2.2h-2.6zM403.7 281.8l1.3 2.2h-2.6zM404.6 285.3l1.3 2.2h-2.6zM405.5 288.8l1.3 2.2h-2.6zM406.4 292.4l1.3 2.2h-2.6zM407.3 295.9l1.3 2.2h-2.6zM408.3 293.8l1.3 2.2h-2.6zM409.2 285.7l1.3 2.2h-2.6zM410.1 277.5l1.3 2.2h-2.6zM411.0 272.9l1.3 2.2h-2.6zM411.9 276.6l1.3 2.2h-2.6zM412.8 280.2l1.3 2.2h-2.6zM413.7 283.9l1.3 2.2h-2.6zM414.6 287.6l1.3 2.2h-2.6zM415.5 291.3l1.3 2.2h-2.6zM416.4 294.9l1.3 2.2h-2.6zM417.3 296.7l1.3 2.2h-2.6zM418.2 288.2l1.3 2.2h-2.6zM419.1 279.7l1.3 2.2h-2.6zM420.0 272.4l1.3 2.2h-2.6zM420.9 276.3l1.3 2.2h-2.6zM421.8 280.2l1.3 2.2h-2.6zM422.7 284.0l1.3 2.2h-2.6zM423.7 287.9l1.3 2.2h-2.6zM424.6 291.8l1.3 2.2h-2.6zM425.5 295.6l1.3 2.2h-2.6zM426.4 295.5l1.3 2.2h-2.6zM427.3 286.6l1.3 2.2h-2.6zM428.2 277.7l1.3 2.2h-2.6zM429.1 274.1l1.3 2.2h-2.6zM430.0 278.5l1.3 2.2h-2.6zM430.9 282.9l1.3 2.2h-2.6zM431.8 287.3l1.3 2.2h-2.6zM432.7 291.7l1.3 2.2h-2.6zM433.6 296.1l1.3 2.2h-2.6zM434.5 293.9l1.3 2.2h-2.6zM435.4 283.7l1.3 2.2h-2.6zM436.3 273.5l1.3 2.2h-2.6zM437.2 276.0l1.3 2.2h-2.6zM438.1 279.8l1.3 2.2h-2.6zM439.1 283.6l1.3 2.2h-2.6zM440.0 287.6l1.3 2.2h-2.6zM440.9 291.6l1.3 2.2h-2.6zM441.8 295.5l1.3 2.2h-2.6zM442.7 299.0l1.3 2.2h-2.6zM443.6 290.3l1.3 2.2h-2.6zM444.5 281.6l1.3 2.2h-2.6zM445.4 274.2l1.3 2.2h-2.6zM446.3 278.4l1.3 2.2h-2.6zM447.2 282.6l1.3 2.2h-2.6zM448.1 286.8l1.3 2.2h-2.6zM449.0 290.9l1.3 2.2h-2.6zM449.9 295.1l1.3 2.2h-2.6zM450.8 299.3l1.3 2.2h-2.6zM451.7 295.6l1.3 2.2h-2.6zM452.6 286.4l1.3 2.2h-2.6zM453.5 277.3l1.3 2.2h-2.6zM454.5 278.8l1.3 2.2h-2.6zM455.4 283.0l1.3 2.2h-2.6zM456.3 287.1l1.3 2.2h-2.6zM457.2 291.3l1.3 2.2h-2.6zM458.1 295.5l1.3 2.2h-2.6zM459.0 299.7l1.3 2.2h-2.6zM459.9 300.0l1.3 2.2h-2.6zM460.8 290.8l1.3 2.2h-2.6zM461.7 281.7l1.3 2.2h-2.6zM462.6 279.2l1.3 2.2h-2.6zM463.5 283.6l1.3 2.2h-2.6zM464.4 288.0l1.3 2.2h-2.6zM465.3 292.3l1.3 2.2h-2.6zM466.2 296.7l1.3 2.2h-2.6zM467.1 301.0l1.3 2.2h-2.6zM468.0 301.5l1.3 2.2h-2.6zM468.9 291.8l1.3 2.2h-2.6zM469.9 282.1l1.3 2.2h-2.6zM470.8 280.7l1.3 2.2h-2.6zM471.7 284.7l1.3 2.2h-2.6zM472.6 288.8l1.3 2.2h-2.6zM473.5 292.8l1.3 2.2h-2.6zM474.4 296.9l1.3 2.2h-2.6zM475.3 301.0l1.3 2.2h-2.6zM476.2 304.7l1.3 2.2h-2.6zM477.1 295.6l1.3 2.2h-2.6zM478.0 286.4l1.3 2.2h-2.6zM478.9 279.9l1.3 2.2h-2.6zM479.8 283.8l1.3 2.2h-2.6zM480.7 287.8l1.3 2.2h-2.6zM481.6 291.7l1.3 2.2h-2.6zM482.5 295.6l1.3 2.2h-2.6zM483.4 299.6l1.3 2.2h-2.6zM484.3 303.5l1.3 2.2h-2.6zM485.3 302.2l1.3 2.2h-2.6zM486.2 293.3l1.3 2.2h-2.6zM487.1 284.4l1.3 2.2h-2.6zM488.0 281.9l1.3 2.2h-2.6zM488.9 285.6l1.3 2.2h-2.6zM489.8 289.4l1.3 2.2h-2.6zM490.7 293.1l1.3 2.2h-2.6zM491.6 296.8l1.3 2.2h-2.6zM492.5 300.6l1.3 2.2h-2.6zM493.4 304.3l1.3 2.2h-2.6zM494.3 303.6l1.3 2.2h-2.6zM495.2 295.0l1.3 2.2h-2.6zM496.1 286.5l1.3 2.2h-2.6zM497.0 281.7l1.3 2.2h-2.6zM497.9 285.7l1.3 2.2h-2.6zM498.8 289.6l1.3 2.2h-2.6zM499.7 293.6l1.3 2.2h-2.6zM500.7 297.6l1.3 2.2h-2.6zM501.6 301.6l1.3 2.2h-2.6zM502.5 305.5l1.3 2.2h-2.6zM503.4 299.0l1.3 2.2h-2.6zM504.3 289.6l1.3 2.2h-2.6zM505.2 280.2l1.3 2.2h-2.6zM506.1 283.8l1.3 2.2h-2.6zM507.0 287.5l1.3 2.2h-2.6zM507.9 291.1l1.3 2.2h-2.6zM508.8 294.7l1.3 2.2h-2.6zM509.7 298.3l1.3 2.2h-2.6zM510.6 302.0l1.3 2.2h-2.6zM511.5 305.6l1.3 2.2h-2.6zM512.4 298.7l1.3 2.2h-2.6zM513.3 290.2l1.3 2.2h-2.6zM514.2 280.3l1.3 2.2h-2.6zM515.2 283.0l1.3 2.2h-2.6zM516.1 288.9l1.3 2.2h-2.6zM517.0 294.4l1.3 2.2h-2.6zM517.9 292.0l1.3 2.2h-2.6zM518.8 268.7l1.3 2.2h-2.6zM519.7 267.7l1.3 2.2h-2.6zM520.6 276.0l1.3 2.2h-2.6zM521.5 280.9l1.3 2.2h-2.6zM522.4 284.5l1.3 2.2h-2.6zM523.3 288.0l1.3 2.2h-2.6zM524.2 291.5l1.3 2.2h-2.6zM525.1 295.1l1.3 2.2h-2.6zM526.0 295.3l1.3 2.2h-2.6zM526.9 287.1l1.3 2.2h-2.6zM527.8 278.9l1.3 2.2h-2.6zM528.7 271.9l1.3 2.2h-2.6zM529.6 275.9l1.3 2.2h-2.6zM530.6 279.9l1.3 2.2h-2.6zM531.5 283.9l1.3 2.2h-2.6zM532.4 287.9l1.3 2.2h-2.6zM533.3 291.9l1.3 2.2h-2.6zM534.2 295.9l1.3 2.2h-2.6zM535.1 292.0l1.3 2.2h-2.6zM536.0 282.7l1.3 2.2h-2.6zM536.9 273.3l1.3 2.2h-2.6zM537.8 274.8l1.3 2.2h-2.6zM538.7 279.0l1.3 2.2h-2.6zM539.6 283.1l1.3 2.2h-2.6zM540.5 287.3l1.3 2.2h-2.6zM541.4 291.5l1.3 2.2h-2.6zM542.3 295.7l1.3 2.2h-2.6zM543.2 291.9l1.3 2.2h-2.6zM544.1 282.1l1.3 2.2h-2.6zM545.0 272.4l1.3 2.2h-2.6zM546.0 274.9l1.3 2.2h-2.6zM546.9 278.9l1.3 2.2h-2.6zM547.8 282.9l1.3 2.2h-2.6zM548.7 286.8l1.3 2.2h-2.6zM549.6 290.8l1.3 2.2h-2.6zM550.5 294.7l1.3 2.2h-2.6zM551.4 294.5l1.3 2.2h-2.6zM552.3 285.2l1.3 2.2h-2.6zM553.2 275.9l1.3 2.2h-2.6zM554.1 273.3l1.3 2.2h-2.6zM555.0 277.3l1.3 2.2h-2.6zM555.9 281.3l1.3 2.2h-2.6zM556.8 285.3l1.3 2.2h-2.6zM557.7 289.3l1.3 2.2h-2.6zM558.6 293.3l1.3 2.2h-2.6zM559.5 297.3l1.3 2.2h-2.6zM560.4 288.1l1.3 2.2h-2.6zM561.4 278.7l1.3 2.2h-2.6zM562.3 272.1l1.3 2.2h-2.6zM563.2 276.5l1.3 2.2h-2.6zM564.1 280.9l1.3 2.2h-2.6zM565.0 285.3l1.3 2.2h-2.6zM565.9 289.6l1.3 2.2h-2.6zM566.8 294.0l1.3 2.2h-2.6zM567.7 294.7l1.3 2.2h-2.6zM568.6 284.5l1.3 2.2h-2.6zM569.5 274.3l1.3 2.2h-2.6zM570.4 274.1l1.3 2.2h-2.6zM571.3 278.3l1.3 2.2h-2.6zM572.2 282.5l1.3 2.2h-2.6zM573.1 286.7l1.3 2.2h-2.6zM574.0 290.9l1.3 2.2h-2.6zM574.9 295.0l1.3 2.2h-2.6zM575.8 292.7l1.3 2.2h-2.6zM576.8 282.9l1.3 2.2h-2.6zM577.7 273.1l1.3 2.2h-2.6zM578.6 274.5l1.3 2.2h-2.6zM579.5 278.7l1.3 2.2h-2.6zM580.4 282.9l1.3 2.2h-2.6zM581.3 287.0l1.3 2.2h-2.6zM582.2 291.2l1.3 2.2h-2.6zM583.1 295.4l1.3 2.2h-2.6zM584.0 291.6l1.3 2.2h-2.6z" fill="none" stroke="#ea7418" stroke-width="0.8"/>
<polyline points="40.5,196.2 41.4,196.2 42.3,196.3 43.2,196.8 44.1,196.8 45.0,196.9 45.9,197.0 46.8,197.4 47.7,197.5 48.6,197.6 49.5,197.6 50.4,197.7 51.3,198.1 52.2,198.2 53.1,198.3 54.0,198.4 54.9,198.8 55.9,198.9 56.8,199.0 57.7,199.0 58.6,199.1 59.5,199.5 60.4,199.6 61.3,199.7 62.2,199.8 63.1,200.2 64.0,200.3 64.9,200.4 65.8,200.4 66.7,200.5 67.6,201.0 68.5,201.0 69.4,201.1 70.3,201.2 71.3,201.6 72.2,201.7 73.1,201.8 74.0,201.8 74.9,201.9 75.8,202.3 76.7,202.4 77.6,202.5 78.5,202.5 79.4,202.6 80.3,203.0 81.2,203.1 82.1,203.2 83.0,203.3 83.9,203.3 84.8,203.8 85.7,203.9 86.7,204.0 87.6,204.4 88.5,204.5 89.4,204.6 90.3,205.1 91.2,205.3 92.1,205.4 93.0,205.9 93.9,206.1 94.8,206.6 95.7,206.7 96.6,207.3 97.5,207.4 98.4,208.0 99.3,208.1 100.2,208.7 101.1,208.8 102.1,209.3 103.0,209.5 103.9,210.0 104.8,210.2 105.7,210.3 106.6,210.8 107.5,211.0 108.4,211.5 109.3,211.7 110.2,212.2 111.1,212.3 112.0,212.8 112.9,213.0 113.8,213.2 114.7,213.7 115.6,213.8 116.5,214.3 117.5,214.5 118.4,215.0 119.3,215.1 120.2,215.6 121.1,215.8 122.0,215.9 122.9,216.4 123.8,216.5 124.7,216.7 125.6,217.1 126.5,217.3 127.4,217.8 128.3,217.9 129.2,218.0 130.1,218.5 131.0,218.6 131.9,218.8 132.9,219.2 133.8,219.4 134.7,219.9 135.6,220.0 136.5,220.1 137.4,220.6 138.3,220.8 139.2,221.3 140.1,221.4 141.0,221.5 141.9,222.0 142.8,222.2 143.7,222.7 144.6,222.8 145.5,223.0 146.4,223.5 147.3,223.6 148.3,224.1 149.2,224.3 150.1,224.8 151.0,224.9 151.9,225.4 152.8,225.6 153.7,225.7 154.6,226.2 155.5,226.4 156.4,226.9 157.3,227.0 158.2,227.5 159.1,227.7 160.0,227.9 160.9,228.4 161.8,228.5 162.7,229.0 163.7,229.2 164.6,229.7 165.5,229.9 166.4,230.5 167.3,230.7 168.2,231.2 169.1,231.8 170.0,232.1 170.9,232.7 171.8,233.3 172.7,234.0 173.6,234.7 174.5,235.4 175.4,236.0 176.3,236.7 177.2,236.9 178.1,237.5 179.1,238.1 180.0,238.2 180.9,238.3 181.8,238.8 182.7,238.9 183.6,239.0 184.5,239.0 185.4,239.5 186.3,239.5 187.2,239.6 188.1,239.7 189.0,239.8 189.9,240.2 190.8,240.4 191.7,240.9 192.6,241.0 193.5,241.2 194.5,241.7 195.4,241.9 196.3,242.4 197.2,243.0 198.1,243.2 199.0,243.7 199.9,244.0 200.8,244.6 201.7,245.2 202.6,245.8 203.5,246.1 204.4,246.7 205.3,247.3 206.2,248.0 207.1,248.6 208.0,248.8 209.0,249.4 209.9,250.0 210.8,250.2 211.7,250.8 212.6,251.4 213.5,251.6 214.4,252.2 215.3,252.4 216.2,252.9 217.1,253.1 218.0,253.6 218.9,254.2 219.8,254.4 220.7,254.9 221.6,255.0 222.5,255.2 223.4,255.7 224.4,255.9 225.3,256.4 226.2,256.5 227.1,257.1 228.0,257.2 228.9,257.8 229.8,257.9 230.7,258.5 231.6,258.7 232.5,259.2 233.4,259.4 234.3,259.9 235.2,260.1 236.1,260.6 237.0,260.8 237.9,261.4 238.8,261.9 239.8,262.1 240.7,262.6 241.6,262.8 242.5,263.4 243.4,263.6 244.3,264.1 245.2,264.3 246.1,264.8 247.0,265.0 247.9,265.6 248.8,266.1 249.7,266.3 250.6,266.8 251.5,267.0 252.4,267.1 253.3,267.7 254.2,267.8 255.2,268.4 256.1,268.5 257.0,269.1 257.9,269.6 258.8,269.8 259.7,270.3 260.6,270.5 261.5,271.1 262.4,271.3 263.3,271.8 264.2,272.0 265.1,272.6 266.0,273.1 266.9,273.3 267.8,273.8 268.7,274.0 269.6,274.1 270.6,274.7 271.5,274.8 272.4,275.3 273.3,275.5 274.2,276.0 275.1,276.2 276.0,276.8 276.9,277.3 277.8,277.5 278.7,278.1 279.6,278.3 280.5,278.9 281.4,279.5 282.3,279.7 283.2,280.3 284.1,280.9 285.0,281.1 286.0,281.7 286.9,282.3 287.8,282.5 288.7,283.1 289.6,283.7 290.5,283.9 291.4,284.5 292.3,285.0 293.2,285.2 294.1,285.8 295.0,286.0 295.9,286.5 296.8,286.6 297.7,287.1 298.6,287.3 299.5,287.4 300.4,287.9 301.4,288.0 302.3,288.1 303.2,288.6 304.1,288.7 305.0,289.2 305.9,289.4 306.8,289.5 307.7,290.0 308.6,290.1 309.5,290.2 310.4,290.7 311.3,290.9 312.2,291.4 313.1,291.5 314.0,291.6 314.9,292.1 315.8,292.3 316.8,292.8 317.7,292.9 318.6,293.0 319.5,293.5 320.4,293.7 321.3,294.1 322.2,294.3 323.1,294.4 324.0,294.9 324.9,295.0 325.8,295.5 326.7,295.7 327.6,295.8 328.5,296.3 329.4,296.4 330.3,296.6 331.2,297.0 332.2,297.2 333.1,297.7 334.0,297.8 334.9,297.9 335.8,298.4 336.7,298.6 337.6,299.1 338.5,299.2 339.4,299.4 340.3,299.9 341.2,300.0 342.1,300.5 343.0,300.6 343.9,301.1 344.8,301.3 345.7,301.4 346.6,301.9 347.6,302.0 348.5,302.2 349.4,302.6 350.3,302.7 351.2,302.9 352.1,303.3 353.0,303.4 353.9,303.5 354.8,303.6 355.7,304.0 356.6,304.1 357.5,304.1 358.4,304.2 359.3,304.3 360.2,304.7 361.1,304.7 362.1,304.8 363.0,304.8 363.9,304.9 364.8,305.0 365.7,305.4 366.6,305.4 367.5,305.5 368.4,305.5 369.3,305.6 370.2,305.7 371.1,306.1 372.0,306.2 372.9,306.3 373.8,306.3 374.7,306.8 375.6,306.8 376.5,306.9 377.5,307.0 378.4,307.1 379.3,307.5 380.2,307.6 381.1,307.7 382.0,307.7 382.9,308.2 383.8,308.3 384.7,308.4 385.6,308.5 386.5,308.9 387.4,309.0 388.3,309.1 389.2,309.6 390.1,309.7 391.0,309.8 391.9,310.3 392.9,310.4 393.8,310.6 394.7,311.1 395.6,311.2 396.5,311.7 397.4,311.9 398.3,312.4 399.2,312.5 400.1,312.7 401.0,313.2 401.9,313.3 402.8,313.8 403.7,314.0 404.6,314.1 405.5,314.6 406.4,314.7 407.3,315.1 408.3,315.3 409.2,315.4 410.1,315.5 411.0,315.9 411.9,316.0 412.8,316.1 413.7,316.2 414.6,316.6 415.5,316.7 416.4,316.8 417.3,316.9 418.2,317.3 419.1,317.4 420.0,317.5 420.9,317.6 421.8,318.0 422.7,318.1 423.7,318.2 424.6,318.2 425.5,318.7 426.4,318.7 427.3,318.8 428.2,318.9 429.1,319.0 430.0,319.4 430.9,319.5 431.8,319.6 432.7,319.7 433.6,320.1 434.5,320.2 435.4,320.2 436.3,320.3 437.2,320.4 438.1,320.8 439.1,320.9 440.0,321.0 440.9,321.0 441.8,321.5 442.7,321.5 443.6,321.6 444.5,321.7 445.4,321.8 446.3,322.2 447.2,322.2 448.1,322.3 449.0,322.4 449.9,322.4 450.8,322.9 451.7,322.9 452.6,323.0 453.5,323.0 454.5,323.1 455.4,323.2 456.3,323.6 457.2,323.6 458.1,323.7 459.0,323.7 459.9,323.8 460.8,323.8 461.7,323.9 462.6,324.3 463.5,324.4 464.4,324.4 465.3,324.5 466.2,324.5 467.1,324.6 468.0,325.0 468.9,325.0 469.9,325.1 470.8,325.1 471.7,325.2 472.6,325.2 473.5,325.3 474.4,325.3 475.3,325.7 476.2,325.7 477.1,325.8 478.0,325.8 478.9,325.8 479.8,325.8 480.7,325.8 481.6,325.8 482.5,325.8 483.4,325.8 484.3,325.8 485.3,325.8 486.2,325.8 487.1,325.8 488.0,325.8 488.9,325.7 489.8,325.7 490.7,325.7 491.6,325.3 492.5,325.3 493.4,325.2 494.3,325.2 495.2,325.2 496.1,325.2 497.0,325.2 497.9,325.1 498.8,325.1 499.7,325.1 500.7,325.1 501.6,325.1 502.5,325.1 503.4,325.2 504.3,325.2 505.2,325.2 506.1,325.2 507.0,325.2 507.9,325.2 508.8,325.2 509.7,325.2 510.6,325.3 511.5,325.3 512.4,325.3 513.3,325.7 514.2,325.7 515.2,325.7 516.1,325.7 517.0,325.8 517.9,325.8 518.8,325.8 519.7,325.8 520.6,325.8 521.5,325.8 522.4,325.9 523.3,325.9 524.2,325.9 525.1,325.9 526.0,325.9 526.9,325.9 527.8,325.9 528.7,325.9 529.6,325.9 530.6,325.9 531.5,325.9 532.4,325.9 533.3,325.9 534.2,325.8 535.1,325.8 536.0,325.8 536.9,325.7 537.8,325.7 538.7,325.3 539.6,325.2 540.5,325.2 541.4,325.1 542.3,325.1 543.2,325.0 544.1,325.0 545.0,324.6 546.0,324.5 546.9,324.5 547.8,324.4 548.7,324.4 549.6,324.3 550.5,323.9 551.4,323.9 552.3,323.8 553.2,323.8 554.1,323.7 555.0,323.7 555.9,323.6 556.8,323.2 557.7,323.1 558.6,323.1 559.5,323.0 560.4,323.0 561.4,322.9 562.3,322.5 563.2,322.4 564.1,322.4 565.0,322.3 565.9,322.3 566.8,322.2 567.7,321.8 568.6,321.7 569.5,321.7 570.4,321.6 571.3,321.6 572.2,321.6 573.1,321.5 574.0,321.5 574.9,321.5 575.8,321.1 576.8,321.1 577.7,321.0 578.6,321.0 579.5,321.0 580.4,321.0 581.3,321.0 582.2,321.0 583.1,321.1 584.0,321.1" fill="none" stroke="#137313" stroke-width="2.2" stroke-linejoin="round"/>
<path d="M40.5 196.2h0M41.4 196.2h0M42.3 196.3h0M43.2 196.8h0M44.1 196.8h0M45.0 196.9h0M45.9 197.0h0M46.8 197.4h0M47.7 197.5h0M48.6 197.6h0M49.5 197.6h0M50.4 197.7h0M51.3 198.1h0M52.2 198.2h0M53.1 198.3h0M54.0 198.4h0M54.9 198.8h0M55.9 198.9h0M56.8 199.0h0M57.7 199.0h0M58.6 199.1h0M59.5 199.5h0M60.4 199.6h0M61.3 199.7h0M62.2 199.8h0M63.1 200.2h0M64.0 200.3h0M64.9 200.4h0M65.8 200.4h0M66.7 200.5h0M67.6 201.0h0M68.5 201.0h0M69.4 201.1h0M70.3 201.2h0M71.3 201.6h0M72.2 201.7h0M73.1 201.8h0M74.0 201.8h0M74.9 201.9h0M75.8 202.3h0M76.7 202.4h0M77.6 202.5h0M78.5 202.5h0M79.4 202.6h0M80.3 203.0h0M81.2 203.1h0M82.1 203.2h0M83.0 203.3h0M83.9 203.3h0M84.8 203.8h0M85.7 203.9h0M86.7 204.0h0M87.6 204.4h0M88.5 204.5h0M89.4 204.6h0M90.3 205.1h0M91.2 205.3h0M92.1 205.4h0M93.0 205.9h0M93.9 206.1h0M94.8 206.6h0M95.7 206.7h0M96.6 207.3h0M97.5 207.4h0M98.4 208.0h0M99.3 208.1h0M100.2 208.7h0M101.1 208.8h0M102.1 209.3h0M103.0 209.5h0M103.9 210.0h0M104.8 210.2h0M105.7 210.3h0M106.6 210.8h0M107.5 211.0h0M108.4 211.5h0M109.3 211.7h0M110.2 212.2h0M111.1 212.3h0M112.0 212.8h0M112.9 213.0h0M113.8 213.2h0M114.7 213.7h0M115.6 213.8h0M116.5 214.3h0M117.5 214.5h0M118.4 215.0h0M119.3 215.1h0M120.2 215.6h0M121.1 215.8h0M122.0 215.9h0M122.9 216.4h0M123.8 216.5h0M124.7 216.7h0M125.6 217.1h0M126.5 217.3h0M127.4 217.8h0M128.3 217.9h0M129.2 218.0h0M130.1 218.5h0M131.0 218.6h0M131.9 218.8h0M132.9 219.2h0M133.8 219.4h0M134.7 219.9h0M135.6 220.0h0M136.5 220.1h0M137.4 220.6h0M138.3 220.8h0M139.2 221.3h0M140.1 221.4h0M141.0 221.5h0M141.9 222.0h0M142.8 222.2h0M143.7 222.7h0M144.6 222.8h0M145.5 223.0h0M146.4 223.5h0M147.3 223.6h0M148.3 224.1h0M149.2 224.3h0M150.1 224.8h0M151.0 224.9h0M151.9 225.4h0M152.8 225.6h0M153.7 225.7h0M154.6 226.2h0M155.5 226.4h0M156.4 226.9h0M157.3 227.0h0M158.2 227.5h0M159.1 227.7h0M160.0 227.9h0M160.9 228.4h0M161.8 228.5h0M162.7 229.0h0M163.7 229.2h0M164.6 229.7h0M165.5 229.9h0M166.4 230.5h0M167.3 230.7h0M168.2 231.2h0M169.1 231.8h0M170.0 232.1h0M170.9 232.7h0M171.8 233.3h0M172.7 234.0h0M173.6 234.7h0M174.5 235.4h0M175.4 236.0h0M176.3 236.7h0M177.2 236.9h0M178.1 237.5h0M179.1 238.1h0M180.0 238.2h0M180.9 238.3h0M181.8 238.8h0M182.7 238.9h0M183.6 239.0h0M184.5 239.0h0M185.4 239.5h0M186.3 239.5h0M187.2 239.6h0M188.1 239.7h0M189.0 239.8h0M189.9 240.2h0M190.8 240.4h0M191.7 240.9h0M192.6 241.0h0M193.5 241.2h0M194.5 241.7h0M195.4 241.9h0M196.3 242.4h0M197.2 243.0h0M198.1 243.2h0M199.0 243.7h0M199.9 244.0h0M200.8 244.6h0M201.7 245.2h0M202.6 245.8h0M203.5 246.1h0M204.4 246.7h0M205.3 247.3h0M206.2 248.0h0M207.1 248.6h0M208.0 248.8h0M209.0 249.4h0M209.9 250.0h0M210.8 250.2h0M211.7 250.8h0M212.6 251.4h0M213.5 251.6h0M214.4 252.2h0M215.3 252.4h0M216.2 252.9h0M217.1 253.1h0M218.0 253.6h0M218.9 254.2h0M219.8 254.4h0M220.7 254.9h0M221.6 255.0h0M222.5 255.2h0M223.4 255.7h0M224.4 255.9h0M225.3 256.4h0M226.2 256.5h0M227.1 257.1h0M228.0 257.2h0M228.9 257.8h0M229.8 257.9h0M230.7 258.5h0M231.6 258.7h0M232.5 259.2h0M233.4 259.4h0M234.3 259.9h0M235.2 260.1h0M236.1 260.6h0M237.0 260.8h0M237.9 261.4h0M238.8 261.9h0M239.8 262.1h0M240.7 262.6h0M241.6 262.8h0M242.5 263.4h0M243.4 263.6h0M244.3 264.1h0M245.2 264.3h0M246.1 264.8h0M247.0 265.0h0M247.9 265.6h0M248.8 266.1h0M249.7 266.3h0M250.6 266.8h0M251.5 267.0h0M252.4 267.1h0M253.3 267.7h0M254.2 267.8h0M255.2 268.4h0M256.1 268.5h0M257.0 269.1h0M257.9 269.6h0M258.8 269.8h0M259.7 270.3h0M260.6 270.5h0M261.5 271.1h0M262.4 271.3h0M263.3 271.8h0M264.2 272.0h0M265.1 272.6h0M266.0 273.1h0M266.9 273.3h0M267.8 273.8h0M268.7 274.0h0M269.6 274.1h0M270.6 274.7h0M271.5 274.8h0M272.4 275.3h0M273.3 275.5h0M274.2 276.0h0M275.1 276.2h0M276.0 276.8h0M276.9 277.3h0M277.8 277.5h0M278.7 278.1h0M279.6 278.3h0M280.5 278.9h0M281.4 279.5h0M282.3 279.7h0M283.2 280.3h0M284.1 280.9h0M285.0 281.1h0M286.0 281.7h0M286.9 282.3h0M287.8 282.5h0M288.7 283.1h0M289.6 283.7h0M290.5 283.9h0M291.4 284.5h0M292.3 285.0h0M293.2 285.2h0M294.1 285.8h0M295.0 286.0h0M295.9 286.5h0M296.8 286.6h0M297.7 287.1h0M298.6 287.3h0M299.5 287.4h0M300.4 287.9h0M301.4 288.0h0M302.3 288.1h0M303.2 288.6h0M304.1 288.7h0M305.0 289.2h0M305.9 289.4h0M306.8 289.5h0M307.7 290.0h0M308.6 290.1h0M309.5 290.2h0M310.4 290.7h0M311.3 290.9h0M312.2 291.4h0M313.1 291.5h0M314.0 291.6h0M314.9 292.1h0M315.8 292.3h0M316.8 292.8h0M317.7 292.9h0M318.6 293.0h0M319.5 293.5h0M320.4 293.7h0M321.3 294.1h0M322.2 294.3h0M323.1 294.4h0M324.0 294.9h0M324.9 295.0h0M325.8 295.5h0M326.7 295.7h0M327.6 295.8h0M328.5 296.3h0M329.4 296.4h0M330.3 296.6h0M331.2 297.0h0M332.2 297.2h0M333.1 297.7h0M334.0 297.8h0M334.9 297.9h0M335.8 298.4h0M336.7 298.6h0M337.6 299.1h0M338.5 299.2h0M339.4 299.4h0M340.3 299.9h0M341.2 300.0h0M342.1 300.5h0M343.0 300.6h0M343.9 301.1h0M344.8 301.3h0M345.7 301.4h0M346.6 301.9h0M347.6 302.0h0M348.5 302.2h0M349.4 302.6h0M350.3 302.7h0M351.2 302.9h0M352.1 303.3h0M353.0 303.4h0M353.9 303.5h0M354.8 303.6h0M355.7 304.0h0M356.6 304.1h0M357.5 304.1h0M358.4 304.2h0M359.3 304.3h0M360.2 304.7h0M361.1 304.7h0M362.1 304.8h0M363.0 304.8h0M363.9 304.9h0M364.8 305.0h0M365.7 305.4h0M366.6 305.4h0M367.5 305.5h0M368.4 305.5h0M369.3 305.6h0M370.2 305.7h0M371.1 306.1h0M372.0 306.2h0M372.9 306.3h0M373.8 306.3h0M374.7 306.8h0M375.6 306.8h0M376.5 306.9h0M377.5 307.0h0M378.4 307.1h0M379.3 307.5h0M380.2 307.6h0M381.1 307.7h0M382.0 307.7h0M382.9 308.2h0M383.8 308.3h0M384.7 308.4h0M385.6 308.5h0M386.5 308.9h0M387.4 309.0h0M388.3 309.1h0M389.2 309.6h0M390.1 309.7h0M391.0 309.8h0M391.9 310.3h0M392.9 310.4h0M393.8 310.6h0M394.7 311.1h0M395.6 311.2h0M396.5 311.7h0M397.4 311.9h0M398.3 312.4h0M399.2 312.5h0M400.1 312.7h0M401.0 313.2h0M401.9 313.3h0M402.8 313.8h0M403.7 314.0h0M404.6 314.1h0M405.5 314.6h0M406.4 314.7h0M407.3 315.1h0M408.3 315.3h0M409.2 315.4h0M410.1 315.5h0M411.0 315.9h0M411.9 316.0h0M412.8 316.1h0M413.7 316.2h0M414.6 316.6h0M415.5 316.7h0M416.4 316.8h0M417.3 316.9h0M418.2 317.3h0M419.1 317.4h0M420.0 317.5h0M420.9 317.6h0M421.8 318.0h0M422.7 318.1h0M423.7 318.2h0M424.6 318.2h0M425.5 318.7h0M426.4 318.7h0M427.3 318.8h0M428.2 318.9h0M429.1 319.0h0M430.0 319.4h0M430.9 319.5h0M431.8 319.6h0M432.7 319.7h0M433.6 320.1h0M434.5 320.2h0M435.4 320.2h0M436.3 320.3h0M437.2 320.4h0M438.1 320.8h0M439.1 320.9h0M440.0 321.0h0M440.9 321.0h0M441.8 321.5h0M442.7 321.5h0M443.6 321.6h0M444.5 321.7h0M445.4 321.8h0M446.3 322.2h0M447.2 322.2h0M448.1 322.3h0M449.0 322.4h0M449.9 322.4h0M450.8 322.9h0M451.7 322.9h0M452.6 323.0h0M453.5 323.0h0M454.5 323.1h0M455.4 323.2h0M456.3 323.6h0M457.2 323.6h0M458.1 323.7h0M459.0 323.7h0M459.9 323.8h0M460.8 323.8h0M461.7 323.9h0M462.6 324.3h0M463.5 324.4h0M464.4 324.4h0M465.3 324.5h0M466.2 324.5h0M467.1 324.6h0M468.0 325.0h0M468.9 325.0h0M469.9 325.1h0M470.8 325.1h0M471.7 325.2h0M472.6 325.2h0M473.5 325.3h0M474.4 325.3h0M475.3 325.7h0M476.2 325.7h0M477.1 325.8h0M478.0 325.8h0M478.9 325.8h0M479.8 325.8h0M480.7 325.8h0M481.6 325.8h0M482.5 325.8h0M483.4 325.8h0M484.3 325.8h0M485.3 325.8h0M486.2 325.8h0M487.1 325.8h0M488.0 325.8h0M488.9 325.7h0M489.8 325.7h0M490.7 325.7h0M491.6 325.3h0M492.5 325.3h0M493.4 325.2h0M494.3 325.2h0M495.2 325.2h0M496.1 325.2h0M497.0 325.2h0M497.9 325.1h0M498.8 325.1h0M499.7 325.1h0M500.7 325.1h0M501.6 325.1h0M502.5 325.1h0M503.4 325.2h0M504.3 325.2h0M505.2 325.2h0M506.1 325.2h0M507.0 325.2h0M507.9 325.2h0M508.8 325.2h0M509.7 325.2h0M510.6 325.3h0M511.5 325.3h0M512.4 325.3h0M513.3 325.7h0M514.2 325.7h0M515.2 325.7h0M516.1 325.7h0M517.0 325.8h0M517.9 325.8h0M518.8 325.8h0M519.7 325.8h0M520.6 325.8h0M521.5 325.8h0M522.4 325.9h0M523.3 325.9h0M524.2 325.9h0M525.1 325.9h0M526.0 325.9h0M526.9 325.9h0M527.8 325.9h0M528.7 325.9h0M529.6 325.9h0M530.6 325.9h0M531.5 325.9h0M532.4 325.9h0M533.3 325.9h0M534.2 325.8h0M535.1 325.8h0M536.0 325.8h0M536.9 325.7h0M537.8 325.7h0M538.7 325.3h0M539.6 325.2h0M540.5 325.2h0M541.4 325.1h0M542.3 325.1h0M543.2 325.0h0M544.1 325.0h0M545.0 324.6h0M546.0 324.5h0M546.9 324.5h0M547.8 324.4h0M548.7 324.4h0M549.6 324.3h0M550.5 323.9h0M551.4 323.9h0M552.3 323.8h0M553.2 323.8h0M554.1 323.7h0M555.0 323.7h0M555.9 323.6h0M556.8 323.2h0M557.7 323.1h0M558.6 323.1h0M559.5 323.0h0M560.4 323.0h0M561.4 322.9h0M562.3 322.5h0M563.2 322.4h0M564.1 322.4h0M565.0 322.3h0M565.9 322.3h0M566.8 322.2h0M567.7 321.8h0M568.6 321.7h0M569.5 321.7h0M570.4 321.6h0M571.3 321.6h0M572.2 321.6h0M573.1 321.5h0M574.0 321.5h0M574.9 321.5h0M575.8 321.1h0M576.8 321.1h0M577.7 321.0h0M578.6 321.0h0M579.5 321.0h0M580.4 321.0h0M581.3 321.0h0M582.2 321.0h0M583.1 321.1h0M584.0 321.1h0" stroke="#116e11" stroke-width="2.80" stroke-linecap="round" fill="none"/>
</g>
<rect x="40.45" y="179.70" width="543.55" height="157.70" fill="none" stroke="#1a1a1a" stroke-width="1.25"/>
<text x="40.45" y="349.50" class="tl" text-anchor="middle">0</text>
<line x1="85.75" y1="337.40" x2="85.75" y2="334.90" class="tk"/>
<line x1="85.75" y1="179.70" x2="85.75" y2="182.20" class="tk"/>
<line x1="131.04" y1="337.40" x2="131.04" y2="332.90" class="tk"/>
<line x1="131.04" y1="179.70" x2="131.04" y2="184.20" class="tk"/>
<text x="131.04" y="349.50" class="tl" text-anchor="middle">100</text>
<line x1="176.34" y1="337.40" x2="176.34" y2="334.90" class="tk"/>
<line x1="176.34" y1="179.70" x2="176.34" y2="182.20" class="tk"/>
<line x1="221.63" y1="337.40" x2="221.63" y2="332.90" class="tk"/>
<line x1="221.63" y1="179.70" x2="221.63" y2="184.20" class="tk"/>
<text x="221.63" y="349.50" class="tl" text-anchor="middle">200</text>
<line x1="266.93" y1="337.40" x2="266.93" y2="334.90" class="tk"/>
<line x1="266.93" y1="179.70" x2="266.93" y2="182.20" class="tk"/>
<line x1="312.22" y1="337.40" x2="312.22" y2="332.90" class="tk"/>
<line x1="312.22" y1="179.70" x2="312.22" y2="184.20" class="tk"/>
<text x="312.22" y="349.50" class="tl" text-anchor="middle">300</text>
<line x1="357.52" y1="337.40" x2="357.52" y2="334.90" class="tk"/>
<line x1="357.52" y1="179.70" x2="357.52" y2="182.20" class="tk"/>
<line x1="402.82" y1="337.40" x2="402.82" y2="332.90" class="tk"/>
<line x1="402.82" y1="179.70" x2="402.82" y2="184.20" class="tk"/>
<text x="402.82" y="349.50" class="tl" text-anchor="middle">400</text>
<line x1="448.11" y1="337.40" x2="448.11" y2="334.90" class="tk"/>
<line x1="448.11" y1="179.70" x2="448.11" y2="182.20" class="tk"/>
<line x1="493.41" y1="337.40" x2="493.41" y2="332.90" class="tk"/>
<line x1="493.41" y1="179.70" x2="493.41" y2="184.20" class="tk"/>
<text x="493.41" y="349.50" class="tl" text-anchor="middle">500</text>
<line x1="538.70" y1="337.40" x2="538.70" y2="334.90" class="tk"/>
<line x1="538.70" y1="179.70" x2="538.70" y2="182.20" class="tk"/>
<text x="584.00" y="349.50" class="tl" text-anchor="middle">600</text>
<line x1="40.45" y1="328.64" x2="44.95" y2="328.64" class="tk"/>
<text x="36.00" y="331.74" class="tl" text-anchor="end">101.1</text>
<line x1="40.45" y1="319.88" x2="42.95" y2="319.88" class="tk"/>
<line x1="40.45" y1="311.12" x2="44.95" y2="311.12" class="tk"/>
<text x="36.00" y="314.22" class="tl" text-anchor="end">101.2</text>
<line x1="40.45" y1="302.36" x2="42.95" y2="302.36" class="tk"/>
<line x1="40.45" y1="293.59" x2="44.95" y2="293.59" class="tk"/>
<text x="36.00" y="296.69" class="tl" text-anchor="end">101.3</text>
<line x1="40.45" y1="284.83" x2="42.95" y2="284.83" class="tk"/>
<line x1="40.45" y1="276.07" x2="44.95" y2="276.07" class="tk"/>
<text x="36.00" y="279.17" class="tl" text-anchor="end">101.4</text>
<line x1="40.45" y1="267.31" x2="42.95" y2="267.31" class="tk"/>
<line x1="40.45" y1="258.55" x2="44.95" y2="258.55" class="tk"/>
<text x="36.00" y="261.65" class="tl" text-anchor="end">101.5</text>
<line x1="40.45" y1="249.79" x2="42.95" y2="249.79" class="tk"/>
<line x1="40.45" y1="241.03" x2="44.95" y2="241.03" class="tk"/>
<text x="36.00" y="244.13" class="tl" text-anchor="end">101.6</text>
<line x1="40.45" y1="232.27" x2="42.95" y2="232.27" class="tk"/>
<line x1="40.45" y1="223.51" x2="44.95" y2="223.51" class="tk"/>
<text x="36.00" y="226.61" class="tl" text-anchor="end">101.7</text>
<line x1="40.45" y1="214.74" x2="42.95" y2="214.74" class="tk"/>
<line x1="40.45" y1="205.98" x2="44.95" y2="205.98" class="tk"/>
<text x="36.00" y="209.08" class="tl" text-anchor="end">101.8</text>
<line x1="40.45" y1="197.22" x2="42.95" y2="197.22" class="tk"/>
<line x1="40.45" y1="188.46" x2="44.95" y2="188.46" class="tk"/>
<text x="36.00" y="191.56" class="tl" text-anchor="end">101.9</text>
<line x1="40.45" y1="179.70" x2="42.95" y2="179.70" class="tk"/>
<line x1="584.00" y1="326.89" x2="579.50" y2="326.89" class="tk"/>
<text x="589.30" y="329.99" class="tl">22.3</text>
<line x1="584.00" y1="316.37" x2="581.50" y2="316.37" class="tk"/>
<line x1="584.00" y1="305.86" x2="579.50" y2="305.86" class="tk"/>
<text x="589.30" y="308.96" class="tl">22.4</text>
<line x1="584.00" y1="295.35" x2="581.50" y2="295.35" class="tk"/>
<line x1="584.00" y1="284.83" x2="579.50" y2="284.83" class="tk"/>
<text x="589.30" y="287.93" class="tl">22.5</text>
<line x1="584.00" y1="274.32" x2="581.50" y2="274.32" class="tk"/>
<line x1="584.00" y1="263.81" x2="579.50" y2="263.81" class="tk"/>
<text x="589.30" y="266.91" class="tl">22.6</text>
<line x1="584.00" y1="253.29" x2="581.50" y2="253.29" class="tk"/>
<line x1="584.00" y1="242.78" x2="579.50" y2="242.78" class="tk"/>
<text x="589.30" y="245.88" class="tl">22.7</text>
<line x1="584.00" y1="232.27" x2="581.50" y2="232.27" class="tk"/>
<line x1="584.00" y1="221.75" x2="579.50" y2="221.75" class="tk"/>
<text x="589.30" y="224.85" class="tl">22.8</text>
<line x1="584.00" y1="211.24" x2="581.50" y2="211.24" class="tk"/>
<line x1="584.00" y1="200.73" x2="579.50" y2="200.73" class="tk"/>
<text x="589.30" y="203.83" class="tl">22.9</text>
<line x1="584.00" y1="190.21" x2="581.50" y2="190.21" class="tk"/>
<line x1="584.00" y1="179.70" x2="579.50" y2="179.70" class="tk"/>
<text x="589.30" y="182.80" class="tl">23.0</text>
<clipPath id="cc"><rect x="39.7" y="358.3" width="542.5" height="157.7"/></clipPath>
<g clip-path="url(#cc)">
<polyline points="39.7,381.4 40.6,381.7 41.5,381.8 42.4,381.3 43.3,380.4 44.2,379.1 45.1,377.1 46.0,375.5 46.9,375.1 47.8,374.9 48.7,374.6 49.6,373.8 50.6,372.1 51.5,370.7 52.4,369.8 53.3,369.1 54.2,368.8 55.1,368.9 56.0,369.0 56.9,369.2 57.8,369.5 58.7,370.2 59.6,371.6 60.5,373.1 61.4,374.6 62.3,376.1 63.2,377.6 64.1,379.2 65.0,380.7 65.9,382.0 66.8,383.3 67.7,384.5 68.6,385.8 69.5,387.1 70.4,388.5 71.3,389.9 72.2,391.3 73.2,392.6 74.1,393.9 75.0,395.1 75.9,396.2 76.8,397.3 77.7,398.2 78.6,398.9 79.5,399.5 80.4,400.0 81.3,400.5 82.2,401.1 83.1,401.6 84.0,402.3 84.9,402.9 85.8,403.5 86.7,404.1 87.6,404.7 88.5,405.3 89.4,405.9 90.3,406.5 91.2,407.0 92.1,407.6 93.0,408.1 94.0,408.6 94.9,409.1 95.8,409.6 96.7,410.0 97.6,410.5 98.5,410.9 99.4,411.3 100.3,411.8 101.2,412.2 102.1,412.7 103.0,413.1 103.9,413.6 104.8,414.1 105.7,414.5 106.6,415.0 107.5,415.4 108.4,415.9 109.3,416.3 110.2,416.8 111.1,417.2 112.0,417.7 112.9,418.1 113.8,418.6 114.7,419.0 115.7,419.5 116.6,419.9 117.5,420.3 118.4,420.7 119.3,421.1 120.2,421.4 121.1,421.8 122.0,422.1 122.9,422.5 123.8,422.8 124.7,423.2 125.6,423.6 126.5,424.0 127.4,424.4 128.3,424.9 129.2,425.3 130.1,425.8 131.0,426.3 131.9,426.8 132.8,427.3 133.7,427.7 134.6,428.1 135.5,428.5 136.4,428.9 137.4,429.3 138.3,429.6 139.2,430.0 140.1,430.3 141.0,430.7 141.9,431.0 142.8,431.4 143.7,431.7 144.6,432.0 145.5,432.4 146.4,432.7 147.3,433.0 148.2,433.3 149.1,433.6 150.0,433.9 150.9,434.2 151.8,434.6 152.7,434.9 153.6,435.2 154.5,435.5 155.4,435.8 156.3,436.1 157.2,436.4 158.1,436.8 159.1,437.1 160.0,437.4 160.9,437.8 161.8,438.1 162.7,438.4 163.6,438.8 164.5,439.2 165.4,439.5 166.3,439.9 167.2,440.3 168.1,440.6 169.0,441.0 169.9,441.4 170.8,441.8 171.7,442.2 172.6,442.6 173.5,442.9 174.4,443.3 175.3,443.7 176.2,444.1 177.1,444.5 178.0,444.9 178.9,445.3 179.8,445.6 180.8,446.0 181.7,446.4 182.6,446.8 183.5,447.1 184.4,447.5 185.3,447.9 186.2,448.2 187.1,448.6 188.0,448.9 188.9,449.2 189.8,449.6 190.7,449.9 191.6,450.2 192.5,450.5 193.4,450.8 194.3,451.1 195.2,451.4 196.1,451.6 197.0,451.9 197.9,452.2 198.8,452.4 199.7,452.7 200.6,452.9 201.5,453.1 202.4,453.4 203.4,453.6 204.3,453.8 205.2,454.1 206.1,454.3 207.0,454.5 207.9,454.7 208.8,454.9 209.7,455.2 210.6,455.4 211.5,455.6 212.4,455.8 213.3,456.0 214.2,456.2 215.1,456.4 216.0,456.7 216.9,456.9 217.8,457.1 218.7,457.3 219.6,457.5 220.5,457.8 221.4,458.0 222.3,458.2 223.2,458.5 224.1,458.7 225.1,459.0 226.0,459.2 226.9,459.5 227.8,459.7 228.7,460.0 229.6,460.2 230.5,460.5 231.4,460.8 232.3,461.0 233.2,461.3 234.1,461.5 235.0,461.8 235.9,462.1 236.8,462.4 237.7,462.6 238.6,462.9 239.5,463.2 240.4,463.5 241.3,463.7 242.2,464.0 243.1,464.3 244.0,464.6 244.9,464.9 245.9,465.1 246.8,465.4 247.7,465.7 248.6,466.0 249.5,466.3 250.4,466.6 251.3,466.9 252.2,467.2 253.1,467.5 254.0,467.7 254.9,468.0 255.8,468.3 256.7,468.6 257.6,468.9 258.5,469.2 259.4,469.5 260.3,469.8 261.2,470.1 262.1,470.5 263.0,470.8 263.9,471.1 264.8,471.4 265.7,471.7 266.6,472.1 267.6,472.4 268.5,472.7 269.4,473.1 270.3,473.4 271.2,473.7 272.1,474.1 273.0,474.4 273.9,474.8 274.8,475.1 275.7,475.4 276.6,475.8 277.5,476.1 278.4,476.4 279.3,476.7 280.2,477.1 281.1,477.4 282.0,477.7 282.9,478.0 283.8,478.3 284.7,478.6 285.6,478.9 286.5,479.2 287.4,479.5 288.3,479.8 289.2,480.0 290.2,480.3 291.1,480.6 292.0,480.8 292.9,481.1 293.8,481.3 294.7,481.6 295.6,481.8 296.5,482.1 297.4,482.3 298.3,482.6 299.2,482.8 300.1,483.1 301.0,483.3 301.9,483.5 302.8,483.8 303.7,484.0 304.6,484.2 305.5,484.4 306.4,484.7 307.3,484.9 308.2,485.1 309.1,485.3 310.0,485.5 310.9,485.8 311.9,486.0 312.8,486.2 313.7,486.4 314.6,486.6 315.5,486.8 316.4,487.0 317.3,487.2 318.2,487.4 319.1,487.7 320.0,487.9 320.9,488.1 321.8,488.3 322.7,488.5 323.6,488.7 324.5,488.9 325.4,489.0 326.3,489.2 327.2,489.4 328.1,489.6 329.0,489.8 329.9,489.9 330.8,490.1 331.7,490.3 332.6,490.5 333.6,490.7 334.5,490.8 335.4,491.0 336.3,491.2 337.2,491.4 338.1,491.7 339.0,491.9 339.9,492.1 340.8,492.4 341.7,492.7 342.6,493.0 343.5,493.3 344.4,493.6 345.3,493.9 346.2,494.2 347.1,494.6 348.0,494.9 348.9,495.2 349.8,495.6 350.7,495.9 351.6,496.2 352.5,496.5 353.4,496.8 354.3,497.1 355.3,497.4 356.2,497.7 357.1,497.9 358.0,498.1 358.9,498.3 359.8,498.5 360.7,498.7 361.6,498.8 362.5,499.0 363.4,499.2 364.3,499.3 365.2,499.5 366.1,499.7 367.0,499.8 367.9,500.0 368.8,500.1 369.7,500.2 370.6,500.4 371.5,500.5 372.4,500.6 373.3,500.7 374.2,500.8 375.1,500.9 376.1,501.0 377.0,501.1 377.9,501.1 378.8,501.2 379.7,501.3 380.6,501.3 381.5,501.4 382.4,501.4 383.3,501.5 384.2,501.5 385.1,501.6 386.0,501.6 386.9,501.7 387.8,501.7 388.7,501.8 389.6,501.8 390.5,501.9 391.4,501.9 392.3,501.9 393.2,501.9 394.1,502.0 395.0,502.0 395.9,502.0 396.8,502.0 397.8,502.0 398.7,502.0 399.6,502.0 400.5,502.0 401.4,501.9 402.3,501.9 403.2,501.9 404.1,501.9 405.0,501.9 405.9,501.8 406.8,501.8 407.7,501.8 408.6,501.8 409.5,501.7 410.4,501.7 411.3,501.7 412.2,501.6 413.1,501.6 414.0,501.6 414.9,501.5 415.8,501.5 416.7,501.5 417.6,501.4 418.5,501.4 419.4,501.3 420.4,501.3 421.3,501.2 422.2,501.1 423.1,501.1 424.0,501.0 424.9,500.9 425.8,500.9 426.7,500.8 427.6,500.7 428.5,500.6 429.4,500.6 430.3,500.5 431.2,500.4 432.1,500.3 433.0,500.3 433.9,500.2 434.8,500.1 435.7,500.0 436.6,500.0 437.5,499.9 438.4,499.8 439.3,499.8 440.2,499.7 441.1,499.6 442.1,499.6 443.0,499.5 443.9,499.4 444.8,499.4 445.7,499.3 446.6,499.2 447.5,499.2 448.4,499.1 449.3,499.0 450.2,498.9 451.1,498.9 452.0,498.8 452.9,498.7 453.8,498.7 454.7,498.6 455.6,498.5 456.5,498.4 457.4,498.4 458.3,498.3 459.2,498.2 460.1,498.1 461.0,498.0 461.9,497.9 462.8,497.8 463.8,497.7 464.7,497.6 465.6,497.5 466.5,497.4 467.4,497.3 468.3,497.2 469.2,497.1 470.1,497.0 471.0,496.9 471.9,496.8 472.8,496.7 473.7,496.6 474.6,496.6 475.5,496.5 476.4,496.4 477.3,496.4 478.2,496.3 479.1,496.3 480.0,496.2 480.9,496.2 481.8,496.1 482.7,496.1 483.6,496.1 484.6,496.0 485.5,496.0 486.4,495.9 487.3,495.9 488.2,495.9 489.1,495.8 490.0,495.8 490.9,495.8 491.8,495.8 492.7,495.7 493.6,495.7 494.5,495.7 495.4,495.7 496.3,495.7 497.2,495.7 498.1,495.7 499.0,495.7 499.9,495.7 500.8,495.7 501.7,495.7 502.6,495.7 503.5,495.7 504.4,495.7 505.3,495.7 506.2,495.7 507.2,495.7 508.1,495.7 509.0,495.7 509.9,495.7 510.8,495.7 511.7,495.7 512.6,495.7 513.5,495.7 514.4,495.7 515.3,495.8 516.2,495.9 517.1,496.0 518.0,496.1 518.9,496.2 519.8,496.3 520.7,496.4 521.6,496.6 522.5,496.7 523.4,496.8 524.3,497.0 525.2,497.1 526.1,497.2 527.0,497.3 528.0,497.4 528.9,497.5 529.8,497.6 530.7,497.7 531.6,497.8 532.5,497.9 533.4,498.0 534.3,498.1 535.2,498.2 536.1,498.4 537.0,498.5 537.9,498.6 538.8,498.7 539.7,498.8 540.6,498.9 541.5,499.0 542.4,499.1 543.3,499.2 544.2,499.3 545.1,499.4 546.0,499.5 546.9,499.6 547.8,499.7 548.7,499.8 549.6,499.9 550.6,500.0 551.5,500.1 552.4,500.2 553.3,500.3 554.2,500.4 555.1,500.5 556.0,500.6 556.9,500.7 557.8,500.8 558.7,500.9 559.6,501.1 560.5,501.2 561.4,501.3 562.3,501.5 563.2,501.7 564.1,501.8 565.0,502.0 565.9,502.2 566.8,502.3 567.7,502.4 568.6,502.5 569.5,502.5 570.4,502.2 571.4,501.4 572.3,500.0 573.2,498.2 574.1,495.9 575.0,493.3 575.9,490.2 576.8,486.9 577.7,483.2 578.6,479.3 579.5,475.1 580.4,470.8 581.3,466.3 582.2,461.7" fill="none" stroke="#6a6ab0" stroke-width="1" stroke-linejoin="round"/>
<path d="M39.7 381.4h0M40.6 381.7h0M41.5 381.8h0M42.4 381.3h0M43.3 380.4h0M44.2 379.1h0M45.1 377.1h0M46.0 375.5h0M46.9 375.1h0M47.8 374.9h0M48.7 374.6h0M49.6 373.8h0M50.6 372.1h0M51.5 370.7h0M52.4 369.8h0M53.3 369.1h0M54.2 368.8h0M55.1 368.9h0M56.0 369.0h0M56.9 369.2h0M57.8 369.5h0M58.7 370.2h0M59.6 371.6h0M60.5 373.1h0M61.4 374.6h0M62.3 376.1h0M63.2 377.6h0M64.1 379.2h0M65.0 380.7h0M65.9 382.0h0M66.8 383.3h0M67.7 384.5h0M68.6 385.8h0M69.5 387.1h0M70.4 388.5h0M71.3 389.9h0M72.2 391.3h0M73.2 392.6h0M74.1 393.9h0M75.0 395.1h0M75.9 396.2h0M76.8 397.3h0M77.7 398.2h0M78.6 398.9h0M79.5 399.5h0M80.4 400.0h0M81.3 400.5h0M82.2 401.1h0M83.1 401.6h0M84.0 402.3h0M84.9 402.9h0M85.8 403.5h0M86.7 404.1h0M87.6 404.7h0M88.5 405.3h0M89.4 405.9h0M90.3 406.5h0M91.2 407.0h0M92.1 407.6h0M93.0 408.1h0M94.0 408.6h0M94.9 409.1h0M95.8 409.6h0M96.7 410.0h0M97.6 410.5h0M98.5 410.9h0M99.4 411.3h0M100.3 411.8h0M101.2 412.2h0M102.1 412.7h0M103.0 413.1h0M103.9 413.6h0M104.8 414.1h0M105.7 414.5h0M106.6 415.0h0M107.5 415.4h0M108.4 415.9h0M109.3 416.3h0M110.2 416.8h0M111.1 417.2h0M112.0 417.7h0M112.9 418.1h0M113.8 418.6h0M114.7 419.0h0M115.7 419.5h0M116.6 419.9h0M117.5 420.3h0M118.4 420.7h0M119.3 421.1h0M120.2 421.4h0M121.1 421.8h0M122.0 422.1h0M122.9 422.5h0M123.8 422.8h0M124.7 423.2h0M125.6 423.6h0M126.5 424.0h0M127.4 424.4h0M128.3 424.9h0M129.2 425.3h0M130.1 425.8h0M131.0 426.3h0M131.9 426.8h0M132.8 427.3h0M133.7 427.7h0M134.6 428.1h0M135.5 428.5h0M136.4 428.9h0M137.4 429.3h0M138.3 429.6h0M139.2 430.0h0M140.1 430.3h0M141.0 430.7h0M141.9 431.0h0M142.8 431.4h0M143.7 431.7h0M144.6 432.0h0M145.5 432.4h0M146.4 432.7h0M147.3 433.0h0M148.2 433.3h0M149.1 433.6h0M150.0 433.9h0M150.9 434.2h0M151.8 434.6h0M152.7 434.9h0M153.6 435.2h0M154.5 435.5h0M155.4 435.8h0M156.3 436.1h0M157.2 436.4h0M158.1 436.8h0M159.1 437.1h0M160.0 437.4h0M160.9 437.8h0M161.8 438.1h0M162.7 438.4h0M163.6 438.8h0M164.5 439.2h0M165.4 439.5h0M166.3 439.9h0M167.2 440.3h0M168.1 440.6h0M169.0 441.0h0M169.9 441.4h0M170.8 441.8h0M171.7 442.2h0M172.6 442.6h0M173.5 442.9h0M174.4 443.3h0M175.3 443.7h0M176.2 444.1h0M177.1 444.5h0M178.0 444.9h0M178.9 445.3h0M179.8 445.6h0M180.8 446.0h0M181.7 446.4h0M182.6 446.8h0M183.5 447.1h0M184.4 447.5h0M185.3 447.9h0M186.2 448.2h0M187.1 448.6h0M188.0 448.9h0M188.9 449.2h0M189.8 449.6h0M190.7 449.9h0M191.6 450.2h0M192.5 450.5h0M193.4 450.8h0M194.3 451.1h0M195.2 451.4h0M196.1 451.6h0M197.0 451.9h0M197.9 452.2h0M198.8 452.4h0M199.7 452.7h0M200.6 452.9h0M201.5 453.1h0M202.4 453.4h0M203.4 453.6h0M204.3 453.8h0M205.2 454.1h0M206.1 454.3h0M207.0 454.5h0M207.9 454.7h0M208.8 454.9h0M209.7 455.2h0M210.6 455.4h0M211.5 455.6h0M212.4 455.8h0M213.3 456.0h0M214.2 456.2h0M215.1 456.4h0M216.0 456.7h0M216.9 456.9h0M217.8 457.1h0M218.7 457.3h0M219.6 457.5h0M220.5 457.8h0M221.4 458.0h0M222.3 458.2h0M223.2 458.5h0M224.1 458.7h0M225.1 459.0h0M226.0 459.2h0M226.9 459.5h0M227.8 459.7h0M228.7 460.0h0M229.6 460.2h0M230.5 460.5h0M231.4 460.8h0M232.3 461.0h0M233.2 461.3h0M234.1 461.5h0M235.0 461.8h0M235.9 462.1h0M236.8 462.4h0M237.7 462.6h0M238.6 462.9h0M239.5 463.2h0M240.4 463.5h0M241.3 463.7h0M242.2 464.0h0M243.1 464.3h0M244.0 464.6h0M244.9 464.9h0M245.9 465.1h0M246.8 465.4h0M247.7 465.7h0M248.6 466.0h0M249.5 466.3h0M250.4 466.6h0M251.3 466.9h0M252.2 467.2h0M253.1 467.5h0M254.0 467.7h0M254.9 468.0h0M255.8 468.3h0M256.7 468.6h0M257.6 468.9h0M258.5 469.2h0M259.4 469.5h0M260.3 469.8h0M261.2 470.1h0M262.1 470.5h0M263.0 470.8h0M263.9 471.1h0M264.8 471.4h0M265.7 471.7h0M266.6 472.1h0M267.6 472.4h0M268.5 472.7h0M269.4 473.1h0M270.3 473.4h0M271.2 473.7h0M272.1 474.1h0M273.0 474.4h0M273.9 474.8h0M274.8 475.1h0M275.7 475.4h0M276.6 475.8h0M277.5 476.1h0M278.4 476.4h0M279.3 476.7h0M280.2 477.1h0M281.1 477.4h0M282.0 477.7h0M282.9 478.0h0M283.8 478.3h0M284.7 478.6h0M285.6 478.9h0M286.5 479.2h0M287.4 479.5h0M288.3 479.8h0M289.2 480.0h0M290.2 480.3h0M291.1 480.6h0M292.0 480.8h0M292.9 481.1h0M293.8 481.3h0M294.7 481.6h0M295.6 481.8h0M296.5 482.1h0M297.4 482.3h0M298.3 482.6h0M299.2 482.8h0M300.1 483.1h0M301.0 483.3h0M301.9 483.5h0M302.8 483.8h0M303.7 484.0h0M304.6 484.2h0M305.5 484.4h0M306.4 484.7h0M307.3 484.9h0M308.2 485.1h0M309.1 485.3h0M310.0 485.5h0M310.9 485.8h0M311.9 486.0h0M312.8 486.2h0M313.7 486.4h0M314.6 486.6h0M315.5 486.8h0M316.4 487.0h0M317.3 487.2h0M318.2 487.4h0M319.1 487.7h0M320.0 487.9h0M320.9 488.1h0M321.8 488.3h0M322.7 488.5h0M323.6 488.7h0M324.5 488.9h0M325.4 489.0h0M326.3 489.2h0M327.2 489.4h0M328.1 489.6h0M329.0 489.8h0M329.9 489.9h0M330.8 490.1h0M331.7 490.3h0M332.6 490.5h0M333.6 490.7h0M334.5 490.8h0M335.4 491.0h0M336.3 491.2h0M337.2 491.4h0M338.1 491.7h0M339.0 491.9h0M339.9 492.1h0M340.8 492.4h0M341.7 492.7h0M342.6 493.0h0M343.5 493.3h0M344.4 493.6h0M345.3 493.9h0M346.2 494.2h0M347.1 494.6h0M348.0 494.9h0M348.9 495.2h0M349.8 495.6h0M350.7 495.9h0M351.6 496.2h0M352.5 496.5h0M353.4 496.8h0M354.3 497.1h0M355.3 497.4h0M356.2 497.7h0M357.1 497.9h0M358.0 498.1h0M358.9 498.3h0M359.8 498.5h0M360.7 498.7h0M361.6 498.8h0M362.5 499.0h0M363.4 499.2h0M364.3 499.3h0M365.2 499.5h0M366.1 499.7h0M367.0 499.8h0M367.9 500.0h0M368.8 500.1h0M369.7 500.2h0M370.6 500.4h0M371.5 500.5h0M372.4 500.6h0M373.3 500.7h0M374.2 500.8h0M375.1 500.9h0M376.1 501.0h0M377.0 501.1h0M377.9 501.1h0M378.8 501.2h0M379.7 501.3h0M380.6 501.3h0M381.5 501.4h0M382.4 501.4h0M383.3 501.5h0M384.2 501.5h0M385.1 501.6h0M386.0 501.6h0M386.9 501.7h0M387.8 501.7h0M388.7 501.8h0M389.6 501.8h0M390.5 501.9h0M391.4 501.9h0M392.3 501.9h0M393.2 501.9h0M394.1 502.0h0M395.0 502.0h0M395.9 502.0h0M396.8 502.0h0M397.8 502.0h0M398.7 502.0h0M399.6 502.0h0M400.5 502.0h0M401.4 501.9h0M402.3 501.9h0M403.2 501.9h0M404.1 501.9h0M405.0 501.9h0M405.9 501.8h0M406.8 501.8h0M407.7 501.8h0M408.6 501.8h0M409.5 501.7h0M410.4 501.7h0M411.3 501.7h0M412.2 501.6h0M413.1 501.6h0M414.0 501.6h0M414.9 501.5h0M415.8 501.5h0M416.7 501.5h0M417.6 501.4h0M418.5 501.4h0M419.4 501.3h0M420.4 501.3h0M421.3 501.2h0M422.2 501.1h0M423.1 501.1h0M424.0 501.0h0M424.9 500.9h0M425.8 500.9h0M426.7 500.8h0M427.6 500.7h0M428.5 500.6h0M429.4 500.6h0M430.3 500.5h0M431.2 500.4h0M432.1 500.3h0M433.0 500.3h0M433.9 500.2h0M434.8 500.1h0M435.7 500.0h0M436.6 500.0h0M437.5 499.9h0M438.4 499.8h0M439.3 499.8h0M440.2 499.7h0M441.1 499.6h0M442.1 499.6h0M443.0 499.5h0M443.9 499.4h0M444.8 499.4h0M445.7 499.3h0M446.6 499.2h0M447.5 499.2h0M448.4 499.1h0M449.3 499.0h0M450.2 498.9h0M451.1 498.9h0M452.0 498.8h0M452.9 498.7h0M453.8 498.7h0M454.7 498.6h0M455.6 498.5h0M456.5 498.4h0M457.4 498.4h0M458.3 498.3h0M459.2 498.2h0M460.1 498.1h0M461.0 498.0h0M461.9 497.9h0M462.8 497.8h0M463.8 497.7h0M464.7 497.6h0M465.6 497.5h0M466.5 497.4h0M467.4 497.3h0M468.3 497.2h0M469.2 497.1h0M470.1 497.0h0M471.0 496.9h0M471.9 496.8h0M472.8 496.7h0M473.7 496.6h0M474.6 496.6h0M475.5 496.5h0M476.4 496.4h0M477.3 496.4h0M478.2 496.3h0M479.1 496.3h0M480.0 496.2h0M480.9 496.2h0M481.8 496.1h0M482.7 496.1h0M483.6 496.1h0M484.6 496.0h0M485.5 496.0h0M486.4 495.9h0M487.3 495.9h0M488.2 495.9h0M489.1 495.8h0M490.0 495.8h0M490.9 495.8h0M491.8 495.8h0M492.7 495.7h0M493.6 495.7h0M494.5 495.7h0M495.4 495.7h0M496.3 495.7h0M497.2 495.7h0M498.1 495.7h0M499.0 495.7h0M499.9 495.7h0M500.8 495.7h0M501.7 495.7h0M502.6 495.7h0M503.5 495.7h0M504.4 495.7h0M505.3 495.7h0M506.2 495.7h0M507.2 495.7h0M508.1 495.7h0M509.0 495.7h0M509.9 495.7h0M510.8 495.7h0M511.7 495.7h0M512.6 495.7h0M513.5 495.7h0M514.4 495.7h0M515.3 495.8h0M516.2 495.9h0M517.1 496.0h0M518.0 496.1h0M518.9 496.2h0M519.8 496.3h0M520.7 496.4h0M521.6 496.6h0M522.5 496.7h0M523.4 496.8h0M524.3 497.0h0M525.2 497.1h0M526.1 497.2h0M527.0 497.3h0M528.0 497.4h0M528.9 497.5h0M529.8 497.6h0M530.7 497.7h0M531.6 497.8h0M532.5 497.9h0M533.4 498.0h0M534.3 498.1h0M535.2 498.2h0M536.1 498.4h0M537.0 498.5h0M537.9 498.6h0M538.8 498.7h0M539.7 498.8h0M540.6 498.9h0M541.5 499.0h0M542.4 499.1h0M543.3 499.2h0M544.2 499.3h0M545.1 499.4h0M546.0 499.5h0M546.9 499.6h0M547.8 499.7h0M548.7 499.8h0M549.6 499.9h0M550.6 500.0h0M551.5 500.1h0M552.4 500.2h0M553.3 500.3h0M554.2 500.4h0M555.1 500.5h0M556.0 500.6h0M556.9 500.7h0M557.8 500.8h0M558.7 500.9h0M559.6 501.1h0M560.5 501.2h0M561.4 501.3h0M562.3 501.5h0M563.2 501.7h0M564.1 501.8h0M565.0 502.0h0M565.9 502.2h0M566.8 502.3h0M567.7 502.4h0M568.6 502.5h0M569.5 502.5h0M570.4 502.2h0M571.4 501.4h0M572.3 500.0h0M573.2 498.2h0M574.1 495.9h0M575.0 493.3h0M575.9 490.2h0M576.8 486.9h0M577.7 483.2h0M578.6 479.3h0M579.5 475.1h0M580.4 470.8h0M581.3 466.3h0M582.2 461.7h0" stroke="#1c1c88" stroke-width="2.50" stroke-linecap="round" fill="none"/>
<polyline points="39.7,396.1 40.6,394.7 41.5,406.4 42.4,401.7 43.3,396.5 44.2,390.9 45.1,385.2 46.0,386.3 46.9,390.9 47.8,401.8 48.7,405.2 49.6,401.2 50.6,387.2 51.5,374.8 52.4,378.3 53.3,382.4 54.2,386.9 55.1,391.4 56.0,397.3 56.9,406.5 57.8,415.7 58.7,419.8 59.6,423.4 60.5,423.0 61.4,416.7 62.3,410.5 63.2,405.3 64.1,410.0 65.0,414.7 65.9,419.4 66.8,424.1 67.7,417.0 68.6,410.0 69.5,410.9 70.4,417.2 71.3,423.4 72.2,429.6 73.2,429.1 74.1,421.7 75.0,414.4 75.9,410.5 76.8,414.7 77.7,418.9 78.6,423.1 79.5,427.4 80.4,431.6 81.3,429.2 82.2,420.2 83.1,411.2 84.0,415.0 84.9,420.1 85.8,425.2 86.7,430.4 87.6,435.5 88.5,428.6 89.4,420.3 90.3,413.4 91.2,418.2 92.1,423.1 93.0,427.9 94.0,432.8 94.9,435.2 95.8,427.9 96.7,420.6 97.6,416.7 98.5,420.7 99.4,424.6 100.3,428.6 101.2,432.6 102.1,436.5 103.0,440.5 103.9,430.0 104.8,419.5 105.7,420.4 106.6,424.1 107.5,427.8 108.4,431.5 109.3,435.2 110.2,439.0 111.1,442.7 112.0,437.1 112.9,427.6 113.8,425.1 114.7,427.3 115.7,429.5 116.6,431.3 117.5,429.6 118.4,427.9 119.3,426.2 120.2,424.5 121.1,426.1 122.0,428.0 122.9,429.9 123.8,431.8 124.7,431.9 125.6,430.2 126.5,428.5 127.4,426.8 128.3,426.2 129.2,428.0 130.1,429.9 131.0,431.7 131.9,433.5 132.8,434.2 133.7,433.0 134.6,431.9 135.5,430.8 136.4,429.6 137.4,429.6 138.3,431.3 139.2,433.0 140.1,434.6 141.0,436.3 141.9,436.8 142.8,435.7 143.7,434.5 144.6,433.4 145.5,432.2 146.4,431.1 147.3,432.7 148.2,435.0 149.1,437.0 150.0,438.9 150.9,439.0 151.8,438.3 152.7,436.8 153.6,435.2 154.5,433.9 155.4,433.2 156.3,434.6 157.2,436.3 158.1,437.9 159.1,439.6 160.0,440.4 160.9,438.8 161.8,437.2 162.7,435.7 163.6,434.1 164.5,434.5 165.4,436.2 166.3,438.0 167.2,439.7 168.1,441.4 169.0,441.8 169.9,439.9 170.8,438.1 171.7,436.2 172.6,436.0 173.5,438.0 174.4,439.9 175.3,441.9 176.2,443.7 177.1,442.6 178.0,441.0 178.9,439.3 179.8,437.7 180.8,437.5 181.7,439.3 182.6,441.1 183.5,442.8 184.4,444.7 185.3,444.5 186.2,442.7 187.1,440.8 188.0,438.9 188.9,439.7 189.8,441.7 190.7,443.7 191.6,445.7 192.5,446.5 193.4,444.9 194.3,443.3 195.2,441.6 196.1,440.0 197.0,441.6 197.9,443.4 198.8,445.1 199.7,446.9 200.6,448.2 201.5,446.3 202.4,444.4 203.4,442.5 204.3,442.4 205.2,444.4 206.1,446.4 207.0,448.4 207.9,449.6 208.8,448.1 209.7,446.5 210.6,444.9 211.5,443.3 212.4,444.4 213.3,446.1 214.2,447.8 215.1,449.5 216.0,451.4 216.9,449.8 217.8,448.0 218.7,446.2 219.6,444.8 220.5,446.7 221.4,448.6 222.3,450.6 223.2,452.5 224.1,451.8 225.1,450.1 226.0,448.5 226.9,446.8 227.8,447.5 228.7,449.4 229.6,451.2 230.5,453.1 231.4,454.5 232.3,452.9 233.2,451.3 234.1,449.7 235.0,448.3 235.9,450.2 236.8,452.1 237.7,453.9 238.6,455.7 239.5,455.9 240.4,454.4 241.3,452.9 242.2,451.4 243.1,450.9 244.0,452.6 244.9,454.4 245.9,456.2 246.8,458.0 247.7,457.8 248.6,456.3 249.5,454.8 250.4,453.3 251.3,453.1 252.2,454.9 253.1,456.7 254.0,458.4 254.9,460.2 255.8,459.6 256.7,458.0 257.6,456.4 258.5,454.9 259.4,455.5 260.3,457.3 261.2,459.1 262.1,460.8 263.0,462.3 263.9,460.8 264.8,459.3 265.7,457.8 266.6,456.3 267.6,457.6 268.5,459.3 269.4,461.0 270.3,462.7 271.2,463.8 272.1,462.4 273.0,461.0 273.9,459.5 274.8,458.1 275.7,459.2 276.6,460.8 277.5,462.5 278.4,464.1 279.3,465.6 280.2,464.5 281.1,463.2 282.0,461.9 282.9,460.6 283.8,460.0 284.7,461.5 285.6,463.0 286.5,464.5 287.4,466.0 288.3,467.4 289.2,466.0 290.2,464.6 291.1,463.2 292.0,461.8 292.9,462.6 293.8,464.2 294.7,465.8 295.6,467.4 296.5,469.0 297.4,467.9 298.3,466.5 299.2,465.1 300.1,463.7 301.0,464.4 301.9,466.0 302.8,467.6 303.7,469.3 304.6,470.9 305.5,469.5 306.4,468.1 307.3,466.7 308.2,465.3 309.1,466.3 310.0,467.9 310.9,469.5 311.9,471.1 312.8,472.4 313.7,471.1 314.6,469.7 315.5,468.4 316.4,467.1 317.3,467.8 318.2,469.3 319.1,470.8 320.0,472.2 320.9,473.7 321.8,472.6 322.7,471.2 323.6,469.9 324.5,468.5 325.4,469.1 326.3,470.5 327.2,472.0 328.1,473.4 329.0,474.7 329.9,473.6 330.8,472.3 331.7,471.1 332.6,469.9 333.6,469.7 334.5,471.0 335.4,472.2 336.3,473.5 337.2,474.7 338.1,475.1 339.0,473.9 339.9,472.7 340.8,471.5 341.7,470.3 342.6,471.2 343.5,472.4 344.4,473.6 345.3,474.8 346.2,476.0 347.1,475.1 348.0,473.9 348.9,472.7 349.8,471.5 350.7,471.8 351.6,473.0 352.5,474.2 353.4,482.4 354.3,488.2 355.3,492.7 356.2,482.4 357.1,477.2 358.0,478.9 358.9,480.7 359.8,482.1 360.7,481.5 361.6,480.3 362.5,479.1 363.4,477.9 364.3,477.4 365.2,478.5 366.1,479.6 367.0,480.7 367.9,481.8 368.8,482.1 369.7,480.9 370.6,479.6 371.5,478.4 372.4,477.2 373.3,478.3 374.2,479.4 375.1,480.5 376.1,481.6 377.0,482.5 377.9,481.2 378.8,479.9 379.7,478.6 380.6,477.6 381.5,478.9 382.4,480.2 383.3,481.5 384.2,482.8 385.1,482.5 386.0,481.3 386.9,480.1 387.8,478.8 388.7,479.2 389.6,480.6 390.5,482.0 391.4,483.3 392.3,484.4 393.2,483.3 394.1,482.1 395.0,480.9 395.9,479.7 396.8,480.7 397.8,482.0 398.7,483.3 399.6,484.6 400.5,485.5 401.4,484.5 402.3,483.4 403.2,482.4 404.1,481.3 405.0,480.4 405.9,481.4 406.8,482.4 407.7,483.5 408.6,484.5 409.5,485.6 410.4,485.6 411.3,484.4 412.2,483.3 413.1,482.2 414.0,481.0 414.9,481.4 415.8,482.5 416.7,483.6 417.6,484.6 418.5,485.7 419.4,486.1 420.4,484.9 421.3,483.7 422.2,482.4 423.1,481.2 424.0,481.8 424.9,482.9 425.8,484.1 426.7,485.2 427.6,486.4 428.5,485.7 429.4,484.3 430.3,482.9 431.2,481.5 432.1,482.1 433.0,483.4 433.9,484.7 434.8,486.0 435.7,486.8 436.6,485.6 437.5,484.4 438.4,483.2 439.3,482.0 440.2,482.0 441.1,483.1 442.1,484.2 443.0,485.4 443.9,486.5 444.8,486.8 445.7,485.6 446.6,484.3 447.5,483.0 448.4,481.7 449.3,482.9 450.2,484.1 451.1,485.3 452.0,486.5 452.9,487.6 453.8,486.3 454.7,485.0 455.6,483.7 456.5,482.4 457.4,482.8 458.3,484.0 459.2,485.2 460.1,486.4 461.0,487.7 461.9,486.9 462.8,485.5 463.8,484.1 464.7,482.7 465.6,482.9 466.5,484.2 467.4,485.4 468.3,486.7 469.2,487.9 470.1,486.9 471.0,485.6 471.9,484.3 472.8,483.0 473.7,482.7 474.6,483.9 475.5,485.1 476.4,486.3 477.3,487.5 478.2,487.6 479.1,486.3 480.0,485.0 480.9,483.7 481.8,482.4 482.7,483.2 483.6,484.4 484.6,485.5 485.5,486.7 486.4,487.8 487.3,487.3 488.2,486.1 489.1,484.9 490.0,483.6 490.9,482.4 491.8,483.2 492.7,484.3 493.6,485.4 494.5,486.5 495.4,487.7 496.3,487.5 497.2,486.1 498.1,484.7 499.0,483.4 499.9,482.5 500.8,483.7 501.7,484.9 502.6,486.2 503.5,487.4 504.4,488.1 505.3,486.8 506.2,485.6 507.2,484.4 508.1,483.1 509.0,482.8 509.9,483.9 510.8,485.1 511.7,490.8 512.6,496.3 513.5,501.6 514.4,489.2 515.3,486.1 516.2,488.3 517.1,490.5 518.0,492.0 518.9,491.1 519.8,489.9 520.7,488.7 521.6,487.5 522.5,486.3 523.4,487.1 524.3,488.2 525.2,489.2 526.1,490.3 527.0,491.4 528.0,491.7 528.9,490.3 529.8,489.0 530.7,487.6 531.6,486.2 532.5,487.4 533.4,488.6 534.3,489.8 535.2,491.1 536.1,492.1 537.0,490.7 537.9,489.2 538.8,487.7 539.7,486.3 540.6,487.3 541.5,488.6 542.4,489.9 543.3,491.2 544.2,492.1 545.1,490.7 546.0,489.3 546.9,487.9 547.8,486.5 548.7,487.1 549.6,488.3 550.6,489.5 551.5,490.8 552.4,492.0 553.3,491.3 554.2,489.9 555.1,488.5 556.0,487.1 556.9,486.7 557.8,488.0 558.7,489.2 559.6,490.5 560.5,491.9 561.4,491.9 562.3,490.5 563.2,489.3 564.1,488.0 565.0,488.3 565.9,490.0 566.8,491.7 567.7,493.3 568.6,494.8 569.5,493.1 570.4,490.7 571.4,488.3 572.3,485.9 573.2,483.4 574.1,481.0 575.0,478.6 575.9,476.2 576.8,473.8 577.7,471.3 578.6,468.9 579.5,466.5 580.4,464.1 581.3,461.6 582.2,459.2" fill="none" stroke="#5aa8a8" stroke-width="1" stroke-linejoin="round"/>
<path d="M39.7 396.1h0M40.6 394.7h0M41.5 406.4h0M42.4 401.7h0M43.3 396.5h0M44.2 390.9h0M45.1 385.2h0M46.0 386.3h0M46.9 390.9h0M47.8 401.8h0M48.7 405.2h0M49.6 401.2h0M50.6 387.2h0M51.5 374.8h0M52.4 378.3h0M53.3 382.4h0M54.2 386.9h0M55.1 391.4h0M56.0 397.3h0M56.9 406.5h0M57.8 415.7h0M58.7 419.8h0M59.6 423.4h0M60.5 423.0h0M61.4 416.7h0M62.3 410.5h0M63.2 405.3h0M64.1 410.0h0M65.0 414.7h0M65.9 419.4h0M66.8 424.1h0M67.7 417.0h0M68.6 410.0h0M69.5 410.9h0M70.4 417.2h0M71.3 423.4h0M72.2 429.6h0M73.2 429.1h0M74.1 421.7h0M75.0 414.4h0M75.9 410.5h0M76.8 414.7h0M77.7 418.9h0M78.6 423.1h0M79.5 427.4h0M80.4 431.6h0M81.3 429.2h0M82.2 420.2h0M83.1 411.2h0M84.0 415.0h0M84.9 420.1h0M85.8 425.2h0M86.7 430.4h0M87.6 435.5h0M88.5 428.6h0M89.4 420.3h0M90.3 413.4h0M91.2 418.2h0M92.1 423.1h0M93.0 427.9h0M94.0 432.8h0M94.9 435.2h0M95.8 427.9h0M96.7 420.6h0M97.6 416.7h0M98.5 420.7h0M99.4 424.6h0M100.3 428.6h0M101.2 432.6h0M102.1 436.5h0M103.0 440.5h0M103.9 430.0h0M104.8 419.5h0M105.7 420.4h0M106.6 424.1h0M107.5 427.8h0M108.4 431.5h0M109.3 435.2h0M110.2 439.0h0M111.1 442.7h0M112.0 437.1h0M112.9 427.6h0M113.8 425.1h0M114.7 427.3h0M115.7 429.5h0M116.6 431.3h0M117.5 429.6h0M118.4 427.9h0M119.3 426.2h0M120.2 424.5h0M121.1 426.1h0M122.0 428.0h0M122.9 429.9h0M123.8 431.8h0M124.7 431.9h0M125.6 430.2h0M126.5 428.5h0M127.4 426.8h0M128.3 426.2h0M129.2 428.0h0M130.1 429.9h0M131.0 431.7h0M131.9 433.5h0M132.8 434.2h0M133.7 433.0h0M134.6 431.9h0M135.5 430.8h0M136.4 429.6h0M137.4 429.6h0M138.3 431.3h0M139.2 433.0h0M140.1 434.6h0M141.0 436.3h0M141.9 436.8h0M142.8 435.7h0M143.7 434.5h0M144.6 433.4h0M145.5 432.2h0M146.4 431.1h0M147.3 432.7h0M148.2 435.0h0M149.1 437.0h0M150.0 438.9h0M150.9 439.0h0M151.8 438.3h0M152.7 436.8h0M153.6 435.2h0M154.5 433.9h0M155.4 433.2h0M156.3 434.6h0M157.2 436.3h0M158.1 437.9h0M159.1 439.6h0M160.0 440.4h0M160.9 438.8h0M161.8 437.2h0M162.7 435.7h0M163.6 434.1h0M164.5 434.5h0M165.4 436.2h0M166.3 438.0h0M167.2 439.7h0M168.1 441.4h0M169.0 441.8h0M169.9 439.9h0M170.8 438.1h0M171.7 436.2h0M172.6 436.0h0M173.5 438.0h0M174.4 439.9h0M175.3 441.9h0M176.2 443.7h0M177.1 442.6h0M178.0 441.0h0M178.9 439.3h0M179.8 437.7h0M180.8 437.5h0M181.7 439.3h0M182.6 441.1h0M183.5 442.8h0M184.4 444.7h0M185.3 444.5h0M186.2 442.7h0M187.1 440.8h0M188.0 438.9h0M188.9 439.7h0M189.8 441.7h0M190.7 443.7h0M191.6 445.7h0M192.5 446.5h0M193.4 444.9h0M194.3 443.3h0M195.2 441.6h0M196.1 440.0h0M197.0 441.6h0M197.9 443.4h0M198.8 445.1h0M199.7 446.9h0M200.6 448.2h0M201.5 446.3h0M202.4 444.4h0M203.4 442.5h0M204.3 442.4h0M205.2 444.4h0M206.1 446.4h0M207.0 448.4h0M207.9 449.6h0M208.8 448.1h0M209.7 446.5h0M210.6 444.9h0M211.5 443.3h0M212.4 444.4h0M213.3 446.1h0M214.2 447.8h0M215.1 449.5h0M216.0 451.4h0M216.9 449.8h0M217.8 448.0h0M218.7 446.2h0M219.6 444.8h0M220.5 446.7h0M221.4 448.6h0M222.3 450.6h0M223.2 452.5h0M224.1 451.8h0M225.1 450.1h0M226.0 448.5h0M226.9 446.8h0M227.8 447.5h0M228.7 449.4h0M229.6 451.2h0M230.5 453.1h0M231.4 454.5h0M232.3 452.9h0M233.2 451.3h0M234.1 449.7h0M235.0 448.3h0M235.9 450.2h0M236.8 452.1h0M237.7 453.9h0M238.6 455.7h0M239.5 455.9h0M240.4 454.4h0M241.3 452.9h0M242.2 451.4h0M243.1 450.9h0M244.0 452.6h0M244.9 454.4h0M245.9 456.2h0M246.8 458.0h0M247.7 457.8h0M248.6 456.3h0M249.5 454.8h0M250.4 453.3h0M251.3 453.1h0M252.2 454.9h0M253.1 456.7h0M254.0 458.4h0M254.9 460.2h0M255.8 459.6h0M256.7 458.0h0M257.6 456.4h0M258.5 454.9h0M259.4 455.5h0M260.3 457.3h0M261.2 459.1h0M262.1 460.8h0M263.0 462.3h0M263.9 460.8h0M264.8 459.3h0M265.7 457.8h0M266.6 456.3h0M267.6 457.6h0M268.5 459.3h0M269.4 461.0h0M270.3 462.7h0M271.2 463.8h0M272.1 462.4h0M273.0 461.0h0M273.9 459.5h0M274.8 458.1h0M275.7 459.2h0M276.6 460.8h0M277.5 462.5h0M278.4 464.1h0M279.3 465.6h0M280.2 464.5h0M281.1 463.2h0M282.0 461.9h0M282.9 460.6h0M283.8 460.0h0M284.7 461.5h0M285.6 463.0h0M286.5 464.5h0M287.4 466.0h0M288.3 467.4h0M289.2 466.0h0M290.2 464.6h0M291.1 463.2h0M292.0 461.8h0M292.9 462.6h0M293.8 464.2h0M294.7 465.8h0M295.6 467.4h0M296.5 469.0h0M297.4 467.9h0M298.3 466.5h0M299.2 465.1h0M300.1 463.7h0M301.0 464.4h0M301.9 466.0h0M302.8 467.6h0M303.7 469.3h0M304.6 470.9h0M305.5 469.5h0M306.4 468.1h0M307.3 466.7h0M308.2 465.3h0M309.1 466.3h0M310.0 467.9h0M310.9 469.5h0M311.9 471.1h0M312.8 472.4h0M313.7 471.1h0M314.6 469.7h0M315.5 468.4h0M316.4 467.1h0M317.3 467.8h0M318.2 469.3h0M319.1 470.8h0M320.0 472.2h0M320.9 473.7h0M321.8 472.6h0M322.7 471.2h0M323.6 469.9h0M324.5 468.5h0M325.4 469.1h0M326.3 470.5h0M327.2 472.0h0M328.1 473.4h0M329.0 474.7h0M329.9 473.6h0M330.8 472.3h0M331.7 471.1h0M332.6 469.9h0M333.6 469.7h0M334.5 471.0h0M335.4 472.2h0M336.3 473.5h0M337.2 474.7h0M338.1 475.1h0M339.0 473.9h0M339.9 472.7h0M340.8 471.5h0M341.7 470.3h0M342.6 471.2h0M343.5 472.4h0M344.4 473.6h0M345.3 474.8h0M346.2 476.0h0M347.1 475.1h0M348.0 473.9h0M348.9 472.7h0M349.8 471.5h0M350.7 471.8h0M351.6 473.0h0M352.5 474.2h0M353.4 482.4h0M354.3 488.2h0M355.3 492.7h0M356.2 482.4h0M357.1 477.2h0M358.0 478.9h0M358.9 480.7h0M359.8 482.1h0M360.7 481.5h0M361.6 480.3h0M362.5 479.1h0M363.4 477.9h0M364.3 477.4h0M365.2 478.5h0M366.1 479.6h0M367.0 480.7h0M367.9 481.8h0M368.8 482.1h0M369.7 480.9h0M370.6 479.6h0M371.5 478.4h0M372.4 477.2h0M373.3 478.3h0M374.2 479.4h0M375.1 480.5h0M376.1 481.6h0M377.0 482.5h0M377.9 481.2h0M378.8 479.9h0M379.7 478.6h0M380.6 477.6h0M381.5 478.9h0M382.4 480.2h0M383.3 481.5h0M384.2 482.8h0M385.1 482.5h0M386.0 481.3h0M386.9 480.1h0M387.8 478.8h0M388.7 479.2h0M389.6 480.6h0M390.5 482.0h0M391.4 483.3h0M392.3 484.4h0M393.2 483.3h0M394.1 482.1h0M395.0 480.9h0M395.9 479.7h0M396.8 480.7h0M397.8 482.0h0M398.7 483.3h0M399.6 484.6h0M400.5 485.5h0M401.4 484.5h0M402.3 483.4h0M403.2 482.4h0M404.1 481.3h0M405.0 480.4h0M405.9 481.4h0M406.8 482.4h0M407.7 483.5h0M408.6 484.5h0M409.5 485.6h0M410.4 485.6h0M411.3 484.4h0M412.2 483.3h0M413.1 482.2h0M414.0 481.0h0M414.9 481.4h0M415.8 482.5h0M416.7 483.6h0M417.6 484.6h0M418.5 485.7h0M419.4 486.1h0M420.4 484.9h0M421.3 483.7h0M422.2 482.4h0M423.1 481.2h0M424.0 481.8h0M424.9 482.9h0M425.8 484.1h0M426.7 485.2h0M427.6 486.4h0M428.5 485.7h0M429.4 484.3h0M430.3 482.9h0M431.2 481.5h0M432.1 482.1h0M433.0 483.4h0M433.9 484.7h0M434.8 486.0h0M435.7 486.8h0M436.6 485.6h0M437.5 484.4h0M438.4 483.2h0M439.3 482.0h0M440.2 482.0h0M441.1 483.1h0M442.1 484.2h0M443.0 485.4h0M443.9 486.5h0M444.8 486.8h0M445.7 485.6h0M446.6 484.3h0M447.5 483.0h0M448.4 481.7h0M449.3 482.9h0M450.2 484.1h0M451.1 485.3h0M452.0 486.5h0M452.9 487.6h0M453.8 486.3h0M454.7 485.0h0M455.6 483.7h0M456.5 482.4h0M457.4 482.8h0M458.3 484.0h0M459.2 485.2h0M460.1 486.4h0M461.0 487.7h0M461.9 486.9h0M462.8 485.5h0M463.8 484.1h0M464.7 482.7h0M465.6 482.9h0M466.5 484.2h0M467.4 485.4h0M468.3 486.7h0M469.2 487.9h0M470.1 486.9h0M471.0 485.6h0M471.9 484.3h0M472.8 483.0h0M473.7 482.7h0M474.6 483.9h0M475.5 485.1h0M476.4 486.3h0M477.3 487.5h0M478.2 487.6h0M479.1 486.3h0M480.0 485.0h0M480.9 483.7h0M481.8 482.4h0M482.7 483.2h0M483.6 484.4h0M484.6 485.5h0M485.5 486.7h0M486.4 487.8h0M487.3 487.3h0M488.2 486.1h0M489.1 484.9h0M490.0 483.6h0M490.9 482.4h0M491.8 483.2h0M492.7 484.3h0M493.6 485.4h0M494.5 486.5h0M495.4 487.7h0M496.3 487.5h0M497.2 486.1h0M498.1 484.7h0M499.0 483.4h0M499.9 482.5h0M500.8 483.7h0M501.7 484.9h0M502.6 486.2h0M503.5 487.4h0M504.4 488.1h0M505.3 486.8h0M506.2 485.6h0M507.2 484.4h0M508.1 483.1h0M509.0 482.8h0M509.9 483.9h0M510.8 485.1h0M511.7 490.8h0M512.6 496.3h0M513.5 501.6h0M514.4 489.2h0M515.3 486.1h0M516.2 488.3h0M517.1 490.5h0M518.0 492.0h0M518.9 491.1h0M519.8 489.9h0M520.7 488.7h0M521.6 487.5h0M522.5 486.3h0M523.4 487.1h0M524.3 488.2h0M525.2 489.2h0M526.1 490.3h0M527.0 491.4h0M528.0 491.7h0M528.9 490.3h0M529.8 489.0h0M530.7 487.6h0M531.6 486.2h0M532.5 487.4h0M533.4 488.6h0M534.3 489.8h0M535.2 491.1h0M536.1 492.1h0M537.0 490.7h0M537.9 489.2h0M538.8 487.7h0M539.7 486.3h0M540.6 487.3h0M541.5 488.6h0M542.4 489.9h0M543.3 491.2h0M544.2 492.1h0M545.1 490.7h0M546.0 489.3h0M546.9 487.9h0M547.8 486.5h0M548.7 487.1h0M549.6 488.3h0M550.6 489.5h0M551.5 490.8h0M552.4 492.0h0M553.3 491.3h0M554.2 489.9h0M555.1 488.5h0M556.0 487.1h0M556.9 486.7h0M557.8 488.0h0M558.7 489.2h0M559.6 490.5h0M560.5 491.9h0M561.4 491.9h0M562.3 490.5h0M563.2 489.3h0M564.1 488.0h0M565.0 488.3h0M565.9 490.0h0M566.8 491.7h0M567.7 493.3h0M568.6 494.8h0M569.5 493.1h0M570.4 490.7h0M571.4 488.3h0M572.3 485.9h0M573.2 483.4h0M574.1 481.0h0M575.0 478.6h0M575.9 476.2h0M576.8 473.8h0M577.7 471.3h0M578.6 468.9h0M579.5 466.5h0M580.4 464.1h0M581.3 461.6h0M582.2 459.2h0" stroke="#0f7a7a" stroke-width="2.50" stroke-linecap="round" fill="none"/>
</g>
<rect x="39.70" y="358.30" width="542.50" height="157.70" fill="none" stroke="#1a1a1a" stroke-width="1.25"/>
<text x="39.70" y="527.90" class="tl" text-anchor="middle">0</text>
<line x1="84.91" y1="516.00" x2="84.91" y2="513.50" class="tk"/>
<line x1="84.91" y1="358.30" x2="84.91" y2="360.80" class="tk"/>
<line x1="130.12" y1="516.00" x2="130.12" y2="511.50" class="tk"/>
<line x1="130.12" y1="358.30" x2="130.12" y2="362.80" class="tk"/>
<text x="130.12" y="527.90" class="tl" text-anchor="middle">100</text>
<line x1="175.32" y1="516.00" x2="175.32" y2="513.50" class="tk"/>
<line x1="175.32" y1="358.30" x2="175.32" y2="360.80" class="tk"/>
<line x1="220.53" y1="516.00" x2="220.53" y2="511.50" class="tk"/>
<line x1="220.53" y1="358.30" x2="220.53" y2="362.80" class="tk"/>
<text x="220.53" y="527.90" class="tl" text-anchor="middle">200</text>
<line x1="265.74" y1="516.00" x2="265.74" y2="513.50" class="tk"/>
<line x1="265.74" y1="358.30" x2="265.74" y2="360.80" class="tk"/>
<line x1="310.95" y1="516.00" x2="310.95" y2="511.50" class="tk"/>
<line x1="310.95" y1="358.30" x2="310.95" y2="362.80" class="tk"/>
<text x="310.95" y="527.90" class="tl" text-anchor="middle">300</text>
<line x1="356.16" y1="516.00" x2="356.16" y2="513.50" class="tk"/>
<line x1="356.16" y1="358.30" x2="356.16" y2="360.80" class="tk"/>
<line x1="401.37" y1="516.00" x2="401.37" y2="511.50" class="tk"/>
<line x1="401.37" y1="358.30" x2="401.37" y2="362.80" class="tk"/>
<text x="401.37" y="527.90" class="tl" text-anchor="middle">400</text>
<line x1="446.57" y1="516.00" x2="446.57" y2="513.50" class="tk"/>
<line x1="446.57" y1="358.30" x2="446.57" y2="360.80" class="tk"/>
<line x1="491.78" y1="516.00" x2="491.78" y2="511.50" class="tk"/>
<line x1="491.78" y1="358.30" x2="491.78" y2="362.80" class="tk"/>
<text x="491.78" y="527.90" class="tl" text-anchor="middle">500</text>
<line x1="536.99" y1="516.00" x2="536.99" y2="513.50" class="tk"/>
<line x1="536.99" y1="358.30" x2="536.99" y2="360.80" class="tk"/>
<text x="582.20" y="527.90" class="tl" text-anchor="middle">600</text>
<line x1="39.70" y1="498.48" x2="44.20" y2="498.48" class="tk"/>
<text x="35.00" y="501.58" class="tl" text-anchor="end">800</text>
<line x1="39.70" y1="480.96" x2="42.20" y2="480.96" class="tk"/>
<line x1="39.70" y1="463.43" x2="44.20" y2="463.43" class="tk"/>
<text x="35.00" y="466.53" class="tl" text-anchor="end">900</text>
<line x1="39.70" y1="445.91" x2="42.20" y2="445.91" class="tk"/>
<line x1="39.70" y1="428.39" x2="44.20" y2="428.39" class="tk"/>
<text x="35.00" y="431.49" class="tl" text-anchor="end">1000</text>
<line x1="39.70" y1="410.87" x2="42.20" y2="410.87" class="tk"/>
<line x1="39.70" y1="393.34" x2="44.20" y2="393.34" class="tk"/>
<text x="35.00" y="396.44" class="tl" text-anchor="end">1100</text>
<line x1="39.70" y1="375.82" x2="42.20" y2="375.82" class="tk"/>
<line x1="39.70" y1="358.30" x2="44.20" y2="358.30" class="tk"/>
<text x="35.00" y="361.40" class="tl" text-anchor="end">1200</text>
<line x1="582.20" y1="500.23" x2="579.70" y2="500.23" class="tk"/>
<line x1="582.20" y1="484.46" x2="577.70" y2="484.46" class="tk"/>
<text x="587.40" y="487.56" class="tl">24</text>
<line x1="582.20" y1="468.69" x2="579.70" y2="468.69" class="tk"/>
<line x1="582.20" y1="452.92" x2="577.70" y2="452.92" class="tk"/>
<text x="587.40" y="456.02" class="tl">26</text>
<line x1="582.20" y1="437.15" x2="579.70" y2="437.15" class="tk"/>
<line x1="582.20" y1="421.38" x2="577.70" y2="421.38" class="tk"/>
<text x="587.40" y="424.48" class="tl">28</text>
<line x1="582.20" y1="405.61" x2="579.70" y2="405.61" class="tk"/>
<line x1="582.20" y1="389.84" x2="577.70" y2="389.84" class="tk"/>
<text x="587.40" y="392.94" class="tl">30</text>
<line x1="582.20" y1="374.07" x2="579.70" y2="374.07" class="tk"/>
<line x1="582.20" y1="516.00" x2="577.70" y2="516.00" class="tk"/>
<text x="587.40" y="519.10" class="tl">22</text>
<line x1="582.20" y1="358.30" x2="577.70" y2="358.30" class="tk"/>
<text x="587.40" y="361.40" class="tl">32</text>
<text x="48.0" y="42.3" class="pl">(a)</text>
<text x="62.6" y="194.3" class="pl">(b)</text>
<text x="69.4" y="375.2" class="pl">(c)</text>
<text transform="translate(15.2,78.6) rotate(-90)" class="at" text-anchor="middle">(N<tspan font-size="6.3" dy="2.4">air</tspan><tspan dy="-2.4">-1)×10</tspan><tspan font-size="6.3" dy="-3.6">6</tspan></text>
<text transform="translate(624.0,85.2) rotate(-90)" class="at" text-anchor="middle">difference×10<tspan font-size="6.3" dy="-3.6">6</tspan></text>
<text transform="translate(8.8,252) rotate(-90)" class="at" text-anchor="middle">Pressure (kPa)</text>
<text transform="translate(619.3,260.3) rotate(-90)" class="at" text-anchor="middle">Temperature (°C)</text>
<text transform="translate(12.3,444.3) rotate(-90)" class="at" text-anchor="middle">CO<tspan font-size="6.3" dy="2.4">2</tspan><tspan dy="-2.4"> concentration (ppm)</tspan></text>
<text transform="translate(607.5,438.9) rotate(-90)" class="at" text-anchor="middle">Humidity (%RH)</text>
<text x="311.4" y="538.6" class="at" text-anchor="middle">Time (min)</text>
<rect x="475.4" y="12.4" width="97.6" height="34.8" fill="#fff" stroke="#a8a8a8" stroke-width="0.9"/>
<line x1="479.7" y1="20.3" x2="498.5" y2="20.3" stroke="#a8b4f0" stroke-width="1"/>
<circle cx="489.1" cy="20.3" r="1.2" fill="#0a0ab4"/>
<text x="501.3" y="23.4" font-size="8.6" class="lg">Ciddor's equation</text>
<line x1="479.7" y1="31.6" x2="498.5" y2="31.6" stroke="#f0b4b4" stroke-width="1"/>
<circle cx="489.1" cy="31.6" r="1.2" fill="#c80a0a"/>
<text x="501.3" y="34.7" font-size="8.6" class="lg">this work+0.2×10<tspan font-size="5.8" dy="-3.4">-6</tspan></text>
<line x1="479.7" y1="42.6" x2="498.5" y2="42.6" stroke="#111" stroke-width="1"/>
<circle cx="489.1" cy="42.6" r="1.2" fill="#000"/>
<text x="501.3" y="45.7" font-size="8.6" class="lg">difference</text>
<rect x="484.4" y="190.4" width="87.0" height="24.7" fill="#fff" stroke="#a8a8a8" stroke-width="0.9"/>
<line x1="489.2" y1="196.9" x2="510.7" y2="196.9" stroke="#5aa05a" stroke-width="1"/>
<circle cx="499.9" cy="196.9" r="1.2" fill="#0a5a0a"/>
<text x="513.8" y="200.2" font-size="9.2" class="lg">Pressure</text>
<line x1="489.2" y1="208.4" x2="510.7" y2="208.4" stroke="#ef9a55" stroke-width="1"/>
<path d="M499.9 207.2l1.2 2h-2.4z" fill="none" stroke="#e06a10" stroke-width="0.7"/>
<text x="513.8" y="211.7" font-size="9.2" class="lg">Temperature</text>
<rect x="462.3" y="370.5" width="106.9" height="27.6" fill="#fff" stroke="#a8a8a8" stroke-width="0.9"/>
<line x1="466.8" y1="377.5" x2="487.0" y2="377.5" stroke="#8080c8" stroke-width="1"/>
<circle cx="476.9" cy="377.5" r="1.2" fill="#101070"/>
<text x="490.3" y="380.7" font-size="9.1" class="lg">CO<tspan font-size="6.2" dy="2.4">2</tspan><tspan dy="-2.4"> concentration</tspan></text>
<line x1="466.8" y1="391.4" x2="487.0" y2="391.4" stroke="#80c0c0" stroke-width="1"/>
<circle cx="476.9" cy="391.4" r="1.2" fill="#0a6a6a"/>
<text x="490.3" y="394.6" font-size="9.1" class="lg">Humidity (%RH)</text>
<g stroke="#111" fill="none" stroke-width="0.9">
<path d="M147 26.3 H166.5"/>
<path d="M143 26.3 l5 -2.6 v5.2z" fill="#111" stroke="none"/>
<ellipse cx="163.6" cy="37.6" rx="7.6" ry="11.4" stroke-dasharray="3 2.2"/>
<path d="M331.8 77.8 H351.5"/>
<path d="M355.5 77.8 l-5 -2.6 v5.2z" fill="#111" stroke="none"/>
<path d="M326.5 96 C 324 84, 330 78, 333 78 C 338 78, 341.5 84, 341.5 92" stroke-dasharray="3 2.2"/>
</g>
</svg>
</body></html>
